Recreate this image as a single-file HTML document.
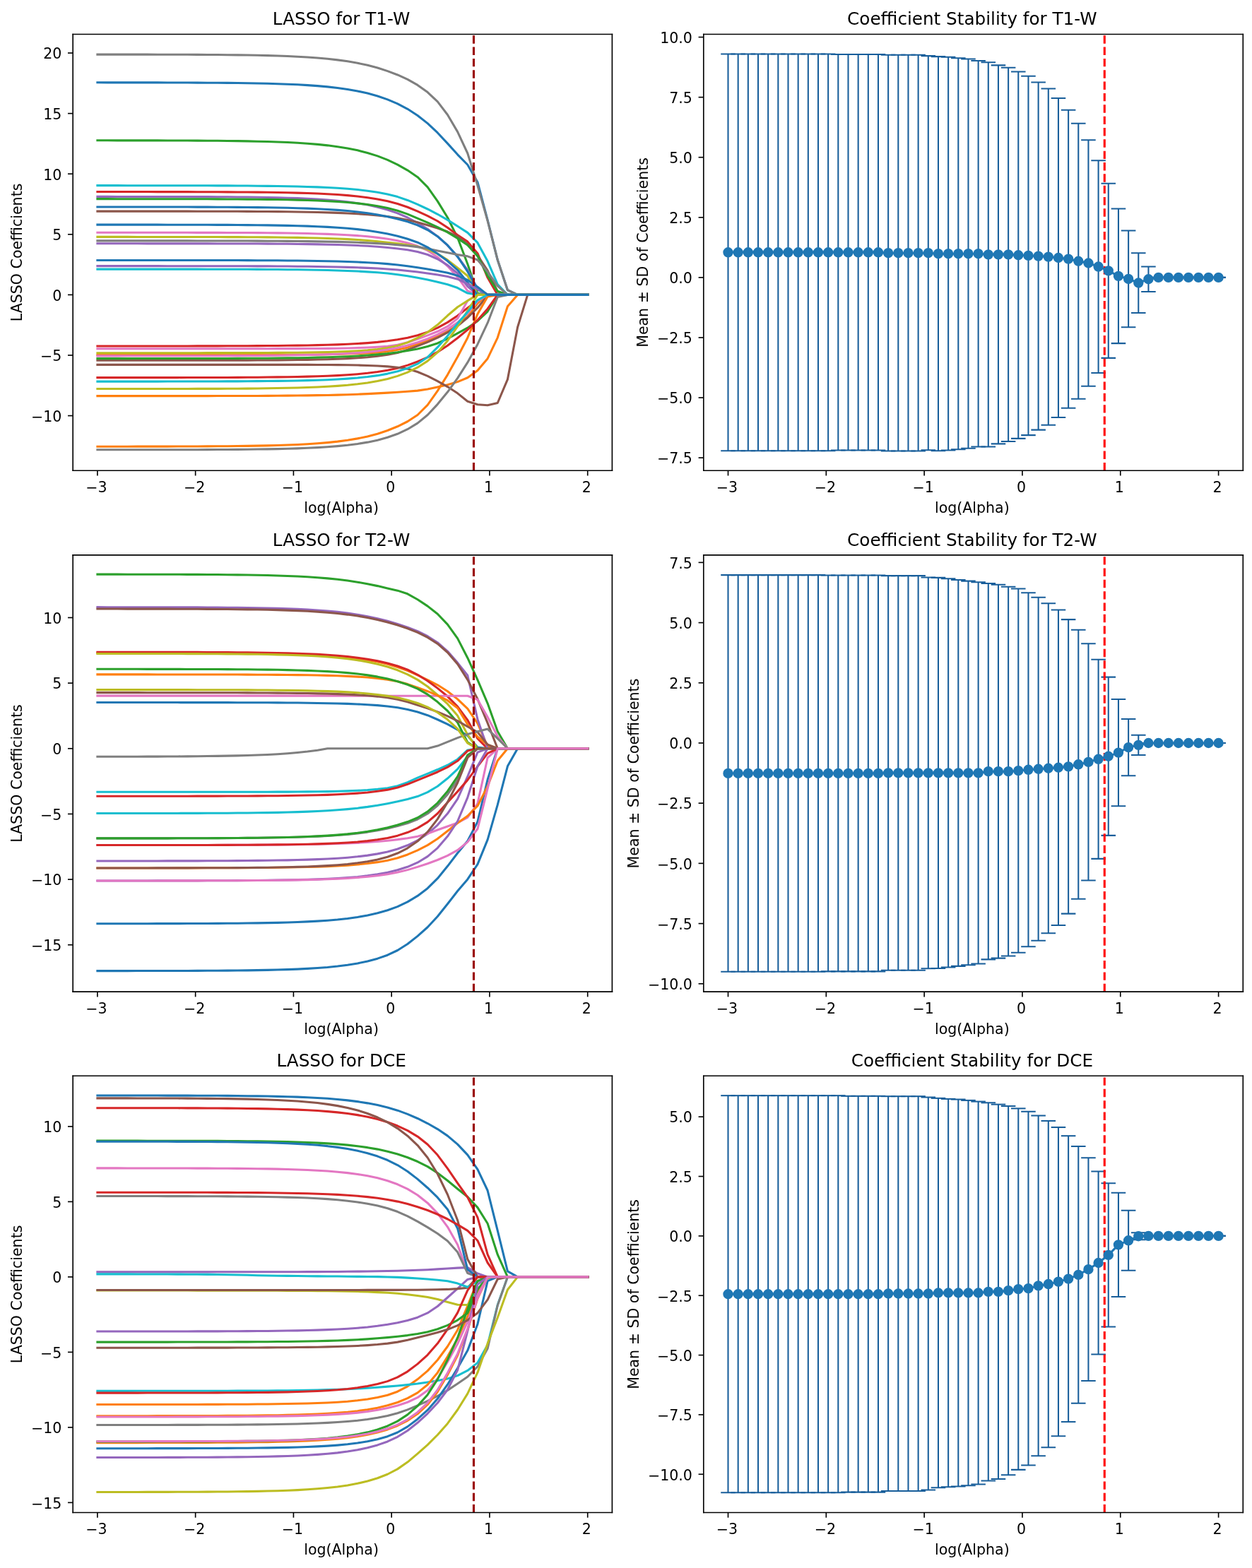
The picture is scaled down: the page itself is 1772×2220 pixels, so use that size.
<!DOCTYPE html>
<html><head><meta charset="utf-8"><title>LASSO coefficient paths</title>
<style>html,body{margin:0;padding:0;background:#fff;}body{width:1772px;height:2220px;overflow:hidden;}svg{display:block;}
</style></head><body>
<svg width="1772px" height="2220px" viewBox="0 0 862.05 1080" version="1.1">
<defs>
<style type="text/css">svg *{stroke-linejoin: round; stroke-linecap: butt}</style>
</defs>
<g id="figure_1">
<g id="patch_1">
<path d="M 0 1080 L 862.05 1080 L 862.05 0 L 0 0 z
" style="fill: #ffffff"/>
</g>
<g id="axes_1">
<g id="patch_2">
<path d="M 50.20 324.14 L 421.49 324.14 L 421.49 23.59 L 50.20 23.59 z
" style="fill: #ffffff"/>
</g>
<g id="matplotlib.axis_1">
<g id="xtick_1">
<g id="line2d_1">
<defs>
<path id="m1504cfccaf" d="M 0 0 L 0 3.5 " style="stroke: #000000; stroke-width: 0.8"/>
</defs>
<g>
<use href="#m1504cfccaf" x="67.08" y="324.14" style="stroke: #000000; stroke-width: 0.8"/>
</g>
</g>
<g id="text_1">
<text style="font-size: 10px; font-family: 'DejaVu Sans', sans-serif; text-anchor: middle" x="66.35" y="338.99" transform="rotate(-0 66.35 338.99)">−3</text>
</g>
</g>
<g id="xtick_2">
<g id="line2d_2">
<g>
<use href="#m1504cfccaf" x="134.58" y="324.14" style="stroke: #000000; stroke-width: 0.8"/>
</g>
</g>
<g id="text_2">
<text style="font-size: 10px; font-family: 'DejaVu Sans', sans-serif; text-anchor: middle" x="133.86" y="338.99" transform="rotate(-0 133.86 338.99)">−2</text>
</g>
</g>
<g id="xtick_3">
<g id="line2d_3">
<g>
<use href="#m1504cfccaf" x="202.09" y="324.14" style="stroke: #000000; stroke-width: 0.8"/>
</g>
</g>
<g id="text_3">
<text style="font-size: 10px; font-family: 'DejaVu Sans', sans-serif; text-anchor: middle" x="201.37" y="338.99" transform="rotate(-0 201.37 338.99)">−1</text>
</g>
</g>
<g id="xtick_4">
<g id="line2d_4">
<g>
<use href="#m1504cfccaf" x="269.60" y="324.14" style="stroke: #000000; stroke-width: 0.8"/>
</g>
</g>
<g id="text_4">
<text style="font-size: 10px; font-family: 'DejaVu Sans', sans-serif; text-anchor: middle" x="268.87" y="338.99" transform="rotate(-0 268.87 338.99)">0</text>
</g>
</g>
<g id="xtick_5">
<g id="line2d_5">
<g>
<use href="#m1504cfccaf" x="337.10" y="324.14" style="stroke: #000000; stroke-width: 0.8"/>
</g>
</g>
<g id="text_5">
<text style="font-size: 10px; font-family: 'DejaVu Sans', sans-serif; text-anchor: middle" x="336.38" y="338.99" transform="rotate(-0 336.38 338.99)">1</text>
</g>
</g>
<g id="xtick_6">
<g id="line2d_6">
<g>
<use href="#m1504cfccaf" x="404.61" y="324.14" style="stroke: #000000; stroke-width: 0.8"/>
</g>
</g>
<g id="text_6">
<text style="font-size: 10px; font-family: 'DejaVu Sans', sans-serif; text-anchor: middle" x="403.89" y="338.99" transform="rotate(-0 403.89 338.99)">2</text>
</g>
</g>
<g id="text_7">
<text style="font-size: 10px; font-family: 'DejaVu Sans', sans-serif; text-anchor: middle" x="235.02" y="353.15" transform="rotate(-0 235.02 353.15)">log(Alpha)</text>
</g>
</g>
<g id="matplotlib.axis_2">
<g id="ytick_1">
<g id="line2d_7">
<defs>
<path id="m5d545ce8f8" d="M 0 0 L -3.5 0 " style="stroke: #000000; stroke-width: 0.8"/>
</defs>
<g>
<use href="#m5d545ce8f8" x="50.20" y="286.33" style="stroke: #000000; stroke-width: 0.8"/>
</g>
</g>
<g id="text_8">
<text style="font-size: 10px; font-family: 'DejaVu Sans', sans-serif; text-anchor: end" x="42.48" y="290.37" transform="rotate(-0 42.48 290.37)">−10</text>
</g>
</g>
<g id="ytick_2">
<g id="line2d_8">
<g>
<use href="#m5d545ce8f8" x="50.20" y="244.69" style="stroke: #000000; stroke-width: 0.8"/>
</g>
</g>
<g id="text_9">
<text style="font-size: 10px; font-family: 'DejaVu Sans', sans-serif; text-anchor: end" x="42.48" y="248.74" transform="rotate(-0 42.48 248.74)">−5</text>
</g>
</g>
<g id="ytick_3">
<g id="line2d_9">
<g>
<use href="#m5d545ce8f8" x="50.20" y="203.06" style="stroke: #000000; stroke-width: 0.8"/>
</g>
</g>
<g id="text_10">
<text style="font-size: 10px; font-family: 'DejaVu Sans', sans-serif; text-anchor: end" x="42.48" y="207.10" transform="rotate(-0 42.48 207.10)">0</text>
</g>
</g>
<g id="ytick_4">
<g id="line2d_10">
<g>
<use href="#m5d545ce8f8" x="50.20" y="161.42" style="stroke: #000000; stroke-width: 0.8"/>
</g>
</g>
<g id="text_11">
<text style="font-size: 10px; font-family: 'DejaVu Sans', sans-serif; text-anchor: end" x="42.48" y="165.47" transform="rotate(-0 42.48 165.47)">5</text>
</g>
</g>
<g id="ytick_5">
<g id="line2d_11">
<g>
<use href="#m5d545ce8f8" x="50.20" y="119.78" style="stroke: #000000; stroke-width: 0.8"/>
</g>
</g>
<g id="text_12">
<text style="font-size: 10px; font-family: 'DejaVu Sans', sans-serif; text-anchor: end" x="42.48" y="123.83" transform="rotate(-0 42.48 123.83)">10</text>
</g>
</g>
<g id="ytick_6">
<g id="line2d_12">
<g>
<use href="#m5d545ce8f8" x="50.20" y="78.15" style="stroke: #000000; stroke-width: 0.8"/>
</g>
</g>
<g id="text_13">
<text style="font-size: 10px; font-family: 'DejaVu Sans', sans-serif; text-anchor: end" x="42.48" y="82.20" transform="rotate(-0 42.48 82.20)">15</text>
</g>
</g>
<g id="ytick_7">
<g id="line2d_13">
<g>
<use href="#m5d545ce8f8" x="50.20" y="36.51" style="stroke: #000000; stroke-width: 0.8"/>
</g>
</g>
<g id="text_14">
<text style="font-size: 10px; font-family: 'DejaVu Sans', sans-serif; text-anchor: end" x="42.48" y="40.56" transform="rotate(-0 42.48 40.56)">20</text>
</g>
</g>
<g id="text_15">
<text style="font-size: 10px; font-family: 'DejaVu Sans', sans-serif; text-anchor: middle" x="15.05" y="173.87" transform="rotate(-90 15.05 173.87)">LASSO Coefficients</text>
</g>
</g>
<g id="line2d_14">
<path d="M 67.08 56.83 L 73.97 56.84 L 80.85 56.84 L 87.74 56.85 L 94.63 56.85 L 101.52 56.86 L 108.41 56.87 L 115.30 56.89 L 122.18 56.91 L 129.07 56.93 L 135.96 56.96 L 142.85 57.00 L 149.74 57.04 L 156.63 57.10 L 163.52 57.18 L 170.40 57.28 L 177.29 57.40 L 184.18 57.55 L 191.07 57.74 L 197.96 57.99 L 204.85 58.29 L 211.73 58.68 L 218.62 59.17 L 225.51 59.78 L 232.40 60.56 L 239.29 61.53 L 246.18 62.75 L 253.06 64.27 L 259.95 66.18 L 266.84 68.55 L 273.73 71.46 L 280.62 75.05 L 287.51 79.52 L 294.40 84.95 L 301.28 91.45 L 308.17 98.81 L 315.06 106.45 L 321.95 113.47 L 328.84 125.50 L 335.73 151.59 L 342.61 179.03 L 349.50 199.78 L 356.39 203.06 L 363.28 203.06 L 370.17 203.06 L 377.06 203.06 L 383.94 203.06 L 390.83 203.06 L 397.72 203.06 L 404.61 203.06 " clip-path="url(#pd0d41294e0)" style="fill: none; stroke: #1f77b4; stroke-width: 1.5; stroke-linecap: square"/>
</g>
<g id="line2d_15">
<path d="M 67.08 244.53 L 73.97 244.52 L 80.85 244.52 L 87.74 244.52 L 94.63 244.52 L 101.52 244.52 L 108.41 244.52 L 115.30 244.52 L 122.18 244.52 L 129.07 244.51 L 135.96 244.51 L 142.85 244.51 L 149.74 244.50 L 156.63 244.49 L 163.52 244.48 L 170.40 244.47 L 177.29 244.46 L 184.18 244.44 L 191.07 244.41 L 197.96 244.38 L 204.85 244.33 L 211.73 244.28 L 218.62 244.20 L 225.51 244.10 L 232.40 243.96 L 239.29 243.77 L 246.18 243.52 L 253.06 243.17 L 259.95 242.68 L 266.84 242.02 L 273.73 240.97 L 280.62 239.30 L 287.51 237.04 L 294.40 234.55 L 301.28 231.56 L 308.17 227.91 L 315.06 223.38 L 321.95 218.03 L 328.84 209.03 L 335.73 203.06 L 342.61 203.06 L 349.50 203.06 L 356.39 203.06 L 363.28 203.06 L 370.17 203.06 L 377.06 203.06 L 383.94 203.06 L 390.83 203.06 L 397.72 203.06 L 404.61 203.06 " clip-path="url(#pd0d41294e0)" style="fill: none; stroke: #ff7f0e; stroke-width: 1.5; stroke-linecap: square"/>
</g>
<g id="line2d_16">
<path d="M 67.08 96.72 L 73.97 96.72 L 80.85 96.73 L 87.74 96.73 L 94.63 96.74 L 101.52 96.75 L 108.41 96.77 L 115.30 96.78 L 122.18 96.81 L 129.07 96.83 L 135.96 96.87 L 142.85 96.91 L 149.74 96.97 L 156.63 97.04 L 163.52 97.12 L 170.40 97.24 L 177.29 97.38 L 184.18 97.55 L 191.07 97.78 L 197.96 98.06 L 204.85 98.42 L 211.73 98.86 L 218.62 99.43 L 225.51 100.14 L 232.40 101.03 L 239.29 102.15 L 246.18 103.54 L 253.06 105.28 L 259.95 107.44 L 266.84 110.12 L 273.73 113.37 L 280.62 117.28 L 287.51 121.96 L 294.40 128.84 L 301.28 138.58 L 308.17 149.86 L 315.06 163.74 L 321.95 181.86 L 328.84 202.07 L 335.73 203.06 L 342.61 203.06 L 349.50 203.06 L 356.39 203.06 L 363.28 203.06 L 370.17 203.06 L 377.06 203.06 L 383.94 203.06 L 390.83 203.06 L 397.72 203.06 L 404.61 203.06 " clip-path="url(#pd0d41294e0)" style="fill: none; stroke: #2ca02c; stroke-width: 1.5; stroke-linecap: square"/>
</g>
<g id="line2d_17">
<path d="M 67.08 132.11 L 73.97 132.11 L 80.85 132.11 L 87.74 132.12 L 94.63 132.12 L 101.52 132.12 L 108.41 132.13 L 115.30 132.14 L 122.18 132.15 L 129.07 132.16 L 135.96 132.17 L 142.85 132.19 L 149.74 132.22 L 156.63 132.25 L 163.52 132.29 L 170.40 132.33 L 177.29 132.40 L 184.18 132.47 L 191.07 132.57 L 197.96 132.70 L 204.85 132.86 L 211.73 133.06 L 218.62 133.31 L 225.51 133.64 L 232.40 134.04 L 239.29 134.56 L 246.18 135.23 L 253.06 136.07 L 259.95 137.14 L 266.84 138.51 L 273.73 140.32 L 280.62 142.67 L 287.51 145.55 L 294.40 148.71 L 301.28 152.27 L 308.17 156.78 L 315.06 161.84 L 321.95 166.45 L 328.84 174.48 L 335.73 191.21 L 342.61 203.06 L 349.50 203.06 L 356.39 203.06 L 363.28 203.06 L 370.17 203.06 L 377.06 203.06 L 383.94 203.06 L 390.83 203.06 L 397.72 203.06 L 404.61 203.06 " clip-path="url(#pd0d41294e0)" style="fill: none; stroke: #d62728; stroke-width: 1.5; stroke-linecap: square"/>
</g>
<g id="line2d_18">
<path d="M 67.08 135.44 L 73.97 135.44 L 80.85 135.45 L 87.74 135.45 L 94.63 135.46 L 101.52 135.46 L 108.41 135.47 L 115.30 135.48 L 122.18 135.50 L 129.07 135.51 L 135.96 135.54 L 142.85 135.56 L 149.74 135.60 L 156.63 135.64 L 163.52 135.70 L 170.40 135.77 L 177.29 135.86 L 184.18 135.98 L 191.07 136.12 L 197.96 136.31 L 204.85 136.54 L 211.73 136.83 L 218.62 137.20 L 225.51 137.67 L 232.40 138.26 L 239.29 139.01 L 246.18 139.94 L 253.06 141.13 L 259.95 142.62 L 266.84 144.48 L 273.73 146.85 L 280.62 149.84 L 287.51 153.49 L 294.40 157.76 L 301.28 162.79 L 308.17 169.04 L 315.06 176.71 L 321.95 186.06 L 328.84 198.79 L 335.73 203.06 L 342.61 203.06 L 349.50 203.06 L 356.39 203.06 L 363.28 203.06 L 370.17 203.06 L 377.06 203.06 L 383.94 203.06 L 390.83 203.06 L 397.72 203.06 L 404.61 203.06 " clip-path="url(#pd0d41294e0)" style="fill: none; stroke: #9467bd; stroke-width: 1.5; stroke-linecap: square"/>
</g>
<g id="line2d_19">
<path d="M 67.08 145.52 L 73.97 145.52 L 80.85 145.52 L 87.74 145.52 L 94.63 145.52 L 101.52 145.52 L 108.41 145.53 L 115.30 145.53 L 122.18 145.54 L 129.07 145.54 L 135.96 145.55 L 142.85 145.56 L 149.74 145.58 L 156.63 145.59 L 163.52 145.62 L 170.40 145.64 L 177.29 145.68 L 184.18 145.72 L 191.07 145.78 L 197.96 145.85 L 204.85 145.94 L 211.73 146.05 L 218.62 146.20 L 225.51 146.38 L 232.40 146.61 L 239.29 146.91 L 246.18 147.28 L 253.06 147.76 L 259.95 148.37 L 266.84 149.15 L 273.73 150.17 L 280.62 151.51 L 287.51 153.16 L 294.40 155.03 L 301.28 157.17 L 308.17 159.60 L 315.06 162.89 L 321.95 168.32 L 328.84 175.94 L 335.73 186.36 L 342.61 200.85 L 349.50 203.06 L 356.39 203.06 L 363.28 203.06 L 370.17 203.06 L 377.06 203.06 L 383.94 203.06 L 390.83 203.06 L 397.72 203.06 L 404.61 203.06 " clip-path="url(#pd0d41294e0)" style="fill: none; stroke: #8c564b; stroke-width: 1.5; stroke-linecap: square"/>
</g>
<g id="line2d_20">
<path d="M 67.08 160.17 L 73.97 160.17 L 80.85 160.17 L 87.74 160.18 L 94.63 160.18 L 101.52 160.18 L 108.41 160.19 L 115.30 160.19 L 122.18 160.20 L 129.07 160.21 L 135.96 160.22 L 142.85 160.23 L 149.74 160.24 L 156.63 160.27 L 163.52 160.29 L 170.40 160.32 L 177.29 160.37 L 184.18 160.42 L 191.07 160.49 L 197.96 160.57 L 204.85 160.68 L 211.73 160.82 L 218.62 160.99 L 225.51 161.21 L 232.40 161.49 L 239.29 161.85 L 246.18 162.31 L 253.06 162.89 L 259.95 163.64 L 266.84 164.60 L 273.73 165.81 L 280.62 167.36 L 287.51 169.46 L 294.40 172.55 L 301.28 177.08 L 308.17 183.30 L 315.06 190.88 L 321.95 200.35 L 328.84 203.06 L 335.73 203.06 L 342.61 203.06 L 349.50 203.06 L 356.39 203.06 L 363.28 203.06 L 370.17 203.06 L 377.06 203.06 L 383.94 203.06 L 390.83 203.06 L 397.72 203.06 L 404.61 203.06 " clip-path="url(#pd0d41294e0)" style="fill: none; stroke: #e377c2; stroke-width: 1.5; stroke-linecap: square"/>
</g>
<g id="line2d_21">
<path d="M 67.08 37.51 L 73.97 37.52 L 80.85 37.52 L 87.74 37.53 L 94.63 37.53 L 101.52 37.54 L 108.41 37.56 L 115.30 37.57 L 122.18 37.59 L 129.07 37.61 L 135.96 37.64 L 142.85 37.68 L 149.74 37.73 L 156.63 37.79 L 163.52 37.87 L 170.40 37.97 L 177.29 38.09 L 184.18 38.25 L 191.07 38.45 L 197.96 38.69 L 204.85 39.01 L 211.73 39.40 L 218.62 39.89 L 225.51 40.51 L 232.40 41.28 L 239.29 42.25 L 246.18 43.44 L 253.06 44.92 L 259.95 46.73 L 266.84 48.95 L 273.73 51.55 L 280.62 54.70 L 287.51 58.58 L 294.40 63.54 L 301.28 70.00 L 308.17 79.06 L 315.06 90.80 L 321.95 105.56 L 328.84 127.78 L 335.73 152.10 L 342.61 179.03 L 349.50 199.78 L 356.39 203.06 L 363.28 203.06 L 370.17 203.06 L 377.06 203.06 L 383.94 203.06 L 390.83 203.06 L 397.72 203.06 L 404.61 203.06 " clip-path="url(#pd0d41294e0)" style="fill: none; stroke: #7f7f7f; stroke-width: 1.5; stroke-linecap: square"/>
</g>
<g id="line2d_22">
<path d="M 67.08 163.17 L 73.97 163.17 L 80.85 163.17 L 87.74 163.17 L 94.63 163.18 L 101.52 163.18 L 108.41 163.18 L 115.30 163.19 L 122.18 163.19 L 129.07 163.20 L 135.96 163.21 L 142.85 163.23 L 149.74 163.24 L 156.63 163.26 L 163.52 163.29 L 170.40 163.32 L 177.29 163.36 L 184.18 163.41 L 191.07 163.48 L 197.96 163.56 L 204.85 163.66 L 211.73 163.80 L 218.62 163.96 L 225.51 164.17 L 232.40 164.43 L 239.29 164.75 L 246.18 165.15 L 253.06 165.64 L 259.95 166.23 L 266.84 166.95 L 273.73 167.75 L 280.62 168.66 L 287.51 169.85 L 294.40 171.81 L 301.28 174.86 L 308.17 179.11 L 315.06 184.51 L 321.95 189.99 L 328.84 202.75 L 335.73 203.06 L 342.61 203.06 L 349.50 203.06 L 356.39 203.06 L 363.28 203.06 L 370.17 203.06 L 377.06 203.06 L 383.94 203.06 L 390.83 203.06 L 397.72 203.06 L 404.61 203.06 " clip-path="url(#pd0d41294e0)" style="fill: none; stroke: #bcbd22; stroke-width: 1.5; stroke-linecap: square"/>
</g>
<g id="line2d_23">
<path d="M 67.08 127.78 L 73.97 127.78 L 80.85 127.78 L 87.74 127.79 L 94.63 127.79 L 101.52 127.79 L 108.41 127.80 L 115.30 127.80 L 122.18 127.81 L 129.07 127.82 L 135.96 127.84 L 142.85 127.85 L 149.74 127.88 L 156.63 127.90 L 163.52 127.94 L 170.40 127.98 L 177.29 128.04 L 184.18 128.11 L 191.07 128.20 L 197.96 128.31 L 204.85 128.46 L 211.73 128.64 L 218.62 128.87 L 225.51 129.17 L 232.40 129.54 L 239.29 130.02 L 246.18 130.64 L 253.06 131.43 L 259.95 132.44 L 266.84 133.76 L 273.73 135.53 L 280.62 137.89 L 287.51 140.80 L 294.40 143.99 L 301.28 147.54 L 308.17 151.49 L 315.06 155.83 L 321.95 160.23 L 328.84 167.20 L 335.73 179.92 L 342.61 195.84 L 349.50 203.06 L 356.39 203.06 L 363.28 203.06 L 370.17 203.06 L 377.06 203.06 L 383.94 203.06 L 390.83 203.06 L 397.72 203.06 L 404.61 203.06 " clip-path="url(#pd0d41294e0)" style="fill: none; stroke: #17becf; stroke-width: 1.5; stroke-linecap: square"/>
</g>
<g id="line2d_24">
<path d="M 67.08 142.52 L 73.97 142.52 L 80.85 142.52 L 87.74 142.53 L 94.63 142.53 L 101.52 142.54 L 108.41 142.54 L 115.30 142.55 L 122.18 142.56 L 129.07 142.57 L 135.96 142.59 L 142.85 142.61 L 149.74 142.64 L 156.63 142.67 L 163.52 142.72 L 170.40 142.77 L 177.29 142.84 L 184.18 142.93 L 191.07 143.04 L 197.96 143.18 L 204.85 143.36 L 211.73 143.58 L 218.62 143.86 L 225.51 144.22 L 232.40 144.66 L 239.29 145.22 L 246.18 145.92 L 253.06 146.79 L 259.95 147.86 L 266.84 149.19 L 273.73 150.78 L 280.62 152.68 L 287.51 155.10 L 294.40 158.39 L 301.28 162.83 L 308.17 168.88 L 315.06 176.78 L 321.95 187.00 L 328.84 199.39 L 335.73 203.06 L 342.61 203.06 L 349.50 203.06 L 356.39 203.06 L 363.28 203.06 L 370.17 203.06 L 377.06 203.06 L 383.94 203.06 L 390.83 203.06 L 397.72 203.06 L 404.61 203.06 " clip-path="url(#pd0d41294e0)" style="fill: none; stroke: #1f77b4; stroke-width: 1.5; stroke-linecap: square"/>
</g>
<g id="line2d_25">
<path d="M 67.08 272.75 L 73.97 272.75 L 80.85 272.75 L 87.74 272.75 L 94.63 272.75 L 101.52 272.75 L 108.41 272.75 L 115.30 272.74 L 122.18 272.74 L 129.07 272.73 L 135.96 272.73 L 142.85 272.72 L 149.74 272.71 L 156.63 272.70 L 163.52 272.68 L 170.40 272.66 L 177.29 272.64 L 184.18 272.60 L 191.07 272.56 L 197.96 272.51 L 204.85 272.45 L 211.73 272.37 L 218.62 272.27 L 225.51 272.15 L 232.40 271.99 L 239.29 271.80 L 246.18 271.56 L 253.06 271.27 L 259.95 270.93 L 266.84 270.54 L 273.73 270.12 L 280.62 269.67 L 287.51 269.09 L 294.40 268.09 L 301.28 266.56 L 308.17 265.00 L 315.06 263.01 L 321.95 260.15 L 328.84 255.12 L 335.73 246.99 L 342.61 232.56 L 349.50 211.04 L 356.39 203.06 L 363.28 203.06 L 370.17 203.06 L 377.06 203.06 L 383.94 203.06 L 390.83 203.06 L 397.72 203.06 L 404.61 203.06 " clip-path="url(#pd0d41294e0)" style="fill: none; stroke: #ff7f0e; stroke-width: 1.5; stroke-linecap: square"/>
</g>
<g id="line2d_26">
<path d="M 67.08 137.02 L 73.97 137.02 L 80.85 137.03 L 87.74 137.03 L 94.63 137.03 L 101.52 137.04 L 108.41 137.04 L 115.30 137.05 L 122.18 137.06 L 129.07 137.07 L 135.96 137.08 L 142.85 137.10 L 149.74 137.13 L 156.63 137.16 L 163.52 137.19 L 170.40 137.24 L 177.29 137.30 L 184.18 137.37 L 191.07 137.47 L 197.96 137.59 L 204.85 137.74 L 211.73 137.94 L 218.62 138.18 L 225.51 138.49 L 232.40 138.89 L 239.29 139.40 L 246.18 140.04 L 253.06 140.86 L 259.95 141.91 L 266.84 143.26 L 273.73 145.07 L 280.62 147.46 L 287.51 150.35 L 294.40 153.32 L 301.28 156.48 L 308.17 160.03 L 315.06 164.14 L 321.95 168.83 L 328.84 176.41 L 335.73 189.96 L 342.61 200.59 L 349.50 203.06 L 356.39 203.06 L 363.28 203.06 L 370.17 203.06 L 377.06 203.06 L 383.94 203.06 L 390.83 203.06 L 397.72 203.06 L 404.61 203.06 " clip-path="url(#pd0d41294e0)" style="fill: none; stroke: #2ca02c; stroke-width: 1.5; stroke-linecap: square"/>
</g>
<g id="line2d_27">
<path d="M 67.08 238.36 L 73.97 238.36 L 80.85 238.36 L 87.74 238.36 L 94.63 238.36 L 101.52 238.36 L 108.41 238.35 L 115.30 238.35 L 122.18 238.34 L 129.07 238.34 L 135.96 238.33 L 142.85 238.32 L 149.74 238.31 L 156.63 238.29 L 163.52 238.27 L 170.40 238.24 L 177.29 238.21 L 184.18 238.17 L 191.07 238.12 L 197.96 238.05 L 204.85 237.97 L 211.73 237.86 L 218.62 237.72 L 225.51 237.55 L 232.40 237.33 L 239.29 237.05 L 246.18 236.70 L 253.06 236.24 L 259.95 235.65 L 266.84 234.89 L 273.73 233.91 L 280.62 232.63 L 287.51 230.96 L 294.40 228.73 L 301.28 225.77 L 308.17 222.01 L 315.06 217.47 L 321.95 212.07 L 328.84 207.06 L 335.73 203.10 L 342.61 203.06 L 349.50 203.06 L 356.39 203.06 L 363.28 203.06 L 370.17 203.06 L 377.06 203.06 L 383.94 203.06 L 390.83 203.06 L 397.72 203.06 L 404.61 203.06 " clip-path="url(#pd0d41294e0)" style="fill: none; stroke: #d62728; stroke-width: 1.5; stroke-linecap: square"/>
</g>
<g id="line2d_28">
<path d="M 67.08 167.75 L 73.97 167.75 L 80.85 167.75 L 87.74 167.75 L 94.63 167.75 L 101.52 167.76 L 108.41 167.76 L 115.30 167.76 L 122.18 167.77 L 129.07 167.77 L 135.96 167.78 L 142.85 167.79 L 149.74 167.80 L 156.63 167.81 L 163.52 167.83 L 170.40 167.85 L 177.29 167.87 L 184.18 167.91 L 191.07 167.95 L 197.96 168.00 L 204.85 168.07 L 211.73 168.16 L 218.62 168.27 L 225.51 168.41 L 232.40 168.58 L 239.29 168.81 L 246.18 169.09 L 253.06 169.45 L 259.95 169.91 L 266.84 170.50 L 273.73 171.23 L 280.62 172.14 L 287.51 173.40 L 294.40 175.37 L 301.28 178.42 L 308.17 182.61 L 315.06 188.25 L 321.95 197.28 L 328.84 203.06 L 335.73 203.06 L 342.61 203.06 L 349.50 203.06 L 356.39 203.06 L 363.28 203.06 L 370.17 203.06 L 377.06 203.06 L 383.94 203.06 L 390.83 203.06 L 397.72 203.06 L 404.61 203.06 " clip-path="url(#pd0d41294e0)" style="fill: none; stroke: #9467bd; stroke-width: 1.5; stroke-linecap: square"/>
</g>
<g id="line2d_29">
<path d="M 67.08 248.27 L 73.97 248.27 L 80.85 248.27 L 87.74 248.27 L 94.63 248.27 L 101.52 248.26 L 108.41 248.26 L 115.30 248.26 L 122.18 248.25 L 129.07 248.25 L 135.96 248.24 L 142.85 248.23 L 149.74 248.22 L 156.63 248.20 L 163.52 248.19 L 170.40 248.16 L 177.29 248.13 L 184.18 248.09 L 191.07 248.04 L 197.96 247.98 L 204.85 247.90 L 211.73 247.79 L 218.62 247.65 L 225.51 247.48 L 232.40 247.25 L 239.29 246.95 L 246.18 246.55 L 253.06 246.02 L 259.95 245.32 L 266.84 244.37 L 273.73 242.98 L 280.62 240.93 L 287.51 238.33 L 294.40 235.62 L 301.28 232.57 L 308.17 229.01 L 315.06 224.55 L 321.95 218.81 L 328.84 211.95 L 335.73 203.76 L 342.61 203.06 L 349.50 203.06 L 356.39 203.06 L 363.28 203.06 L 370.17 203.06 L 377.06 203.06 L 383.94 203.06 L 390.83 203.06 L 397.72 203.06 L 404.61 203.06 " clip-path="url(#pd0d41294e0)" style="fill: none; stroke: #8c564b; stroke-width: 1.5; stroke-linecap: square"/>
</g>
<g id="line2d_30">
<path d="M 67.08 240.20 L 73.97 240.19 L 80.85 240.19 L 87.74 240.19 L 94.63 240.19 L 101.52 240.19 L 108.41 240.19 L 115.30 240.19 L 122.18 240.19 L 129.07 240.19 L 135.96 240.19 L 142.85 240.19 L 149.74 240.19 L 156.63 240.19 L 163.52 240.18 L 170.40 240.18 L 177.29 240.18 L 184.18 240.17 L 191.07 240.16 L 197.96 240.15 L 204.85 240.13 L 211.73 240.10 L 218.62 240.06 L 225.51 240.01 L 232.40 239.92 L 239.29 239.80 L 246.18 239.62 L 253.06 239.36 L 259.95 238.98 L 266.84 238.47 L 273.73 237.53 L 280.62 235.85 L 287.51 233.50 L 294.40 231.04 L 301.28 228.29 L 308.17 224.84 L 315.06 219.35 L 321.95 207.13 L 328.84 203.06 L 335.73 203.06 L 342.61 203.06 L 349.50 203.06 L 356.39 203.06 L 363.28 203.06 L 370.17 203.06 L 377.06 203.06 L 383.94 203.06 L 390.83 203.06 L 397.72 203.06 L 404.61 203.06 " clip-path="url(#pd0d41294e0)" style="fill: none; stroke: #e377c2; stroke-width: 1.5; stroke-linecap: square"/>
</g>
<g id="line2d_31">
<path d="M 67.08 165.83 L 73.97 165.83 L 80.85 165.84 L 87.74 165.84 L 94.63 165.84 L 101.52 165.84 L 108.41 165.84 L 115.30 165.84 L 122.18 165.85 L 129.07 165.85 L 135.96 165.86 L 142.85 165.87 L 149.74 165.88 L 156.63 165.89 L 163.52 165.90 L 170.40 165.92 L 177.29 165.95 L 184.18 165.98 L 191.07 166.01 L 197.96 166.06 L 204.85 166.12 L 211.73 166.20 L 218.62 166.30 L 225.51 166.42 L 232.40 166.57 L 239.29 166.76 L 246.18 167.00 L 253.06 167.30 L 259.95 167.67 L 266.84 168.12 L 273.73 168.65 L 280.62 169.28 L 287.51 170.09 L 294.40 171.22 L 301.28 172.70 L 308.17 174.08 L 315.06 175.43 L 321.95 176.51 L 328.84 179.05 L 335.73 187.16 L 342.61 196.93 L 349.50 203.06 L 356.39 203.06 L 363.28 203.06 L 370.17 203.06 L 377.06 203.06 L 383.94 203.06 L 390.83 203.06 L 397.72 203.06 L 404.61 203.06 " clip-path="url(#pd0d41294e0)" style="fill: none; stroke: #7f7f7f; stroke-width: 1.5; stroke-linecap: square"/>
</g>
<g id="line2d_32">
<path d="M 67.08 243.11 L 73.97 243.11 L 80.85 243.11 L 87.74 243.11 L 94.63 243.11 L 101.52 243.10 L 108.41 243.10 L 115.30 243.10 L 122.18 243.10 L 129.07 243.09 L 135.96 243.09 L 142.85 243.08 L 149.74 243.07 L 156.63 243.06 L 163.52 243.05 L 170.40 243.03 L 177.29 243.01 L 184.18 242.99 L 191.07 242.95 L 197.96 242.90 L 204.85 242.84 L 211.73 242.76 L 218.62 242.66 L 225.51 242.52 L 232.40 242.33 L 239.29 242.07 L 246.18 241.71 L 253.06 241.22 L 259.95 240.55 L 266.84 239.63 L 273.73 238.17 L 280.62 235.87 L 287.51 232.71 L 294.40 228.89 L 301.28 223.71 L 308.17 217.35 L 315.06 211.50 L 321.95 207.11 L 328.84 203.06 L 335.73 203.06 L 342.61 203.06 L 349.50 203.06 L 356.39 203.06 L 363.28 203.06 L 370.17 203.06 L 377.06 203.06 L 383.94 203.06 L 390.83 203.06 L 397.72 203.06 L 404.61 203.06 " clip-path="url(#pd0d41294e0)" style="fill: none; stroke: #bcbd22; stroke-width: 1.5; stroke-linecap: square"/>
</g>
<g id="line2d_33">
<path d="M 67.08 185.40 L 73.97 185.40 L 80.85 185.40 L 87.74 185.41 L 94.63 185.41 L 101.52 185.41 L 108.41 185.41 L 115.30 185.42 L 122.18 185.42 L 129.07 185.43 L 135.96 185.43 L 142.85 185.44 L 149.74 185.45 L 156.63 185.47 L 163.52 185.49 L 170.40 185.51 L 177.29 185.54 L 184.18 185.57 L 191.07 185.62 L 197.96 185.68 L 204.85 185.75 L 211.73 185.84 L 218.62 185.96 L 225.51 186.11 L 232.40 186.30 L 239.29 186.54 L 246.18 186.84 L 253.06 187.22 L 259.95 187.70 L 266.84 188.31 L 273.73 189.10 L 280.62 190.11 L 287.51 191.33 L 294.40 192.68 L 301.28 194.19 L 308.17 195.96 L 315.06 198.26 L 321.95 201.94 L 328.84 203.06 L 335.73 203.06 L 342.61 203.06 L 349.50 203.06 L 356.39 203.06 L 363.28 203.06 L 370.17 203.06 L 377.06 203.06 L 383.94 203.06 L 390.83 203.06 L 397.72 203.06 L 404.61 203.06 " clip-path="url(#pd0d41294e0)" style="fill: none; stroke: #17becf; stroke-width: 1.5; stroke-linecap: square"/>
</g>
<g id="line2d_34">
<path d="M 67.08 154.76 L 73.97 154.76 L 80.85 154.76 L 87.74 154.77 L 94.63 154.77 L 101.52 154.77 L 108.41 154.78 L 115.30 154.79 L 122.18 154.80 L 129.07 154.81 L 135.96 154.83 L 142.85 154.85 L 149.74 154.87 L 156.63 154.90 L 163.52 154.94 L 170.40 154.99 L 177.29 155.06 L 184.18 155.14 L 191.07 155.24 L 197.96 155.37 L 204.85 155.54 L 211.73 155.74 L 218.62 156.01 L 225.51 156.33 L 232.40 156.75 L 239.29 157.27 L 246.18 157.93 L 253.06 158.75 L 259.95 159.78 L 266.84 161.06 L 273.73 162.62 L 280.62 164.53 L 287.51 166.97 L 294.40 170.32 L 301.28 174.75 L 308.17 179.78 L 315.06 185.99 L 321.95 194.62 L 328.84 202.96 L 335.73 203.06 L 342.61 203.06 L 349.50 203.06 L 356.39 203.06 L 363.28 203.06 L 370.17 203.06 L 377.06 203.06 L 383.94 203.06 L 390.83 203.06 L 397.72 203.06 L 404.61 203.06 " clip-path="url(#pd0d41294e0)" style="fill: none; stroke: #1f77b4; stroke-width: 1.5; stroke-linecap: square"/>
</g>
<g id="line2d_35">
<path d="M 67.08 307.56 L 73.97 307.56 L 80.85 307.55 L 87.74 307.55 L 94.63 307.54 L 101.52 307.53 L 108.41 307.52 L 115.30 307.51 L 122.18 307.49 L 129.07 307.47 L 135.96 307.44 L 142.85 307.41 L 149.74 307.37 L 156.63 307.31 L 163.52 307.24 L 170.40 307.15 L 177.29 307.04 L 184.18 306.90 L 191.07 306.73 L 197.96 306.50 L 204.85 306.22 L 211.73 305.86 L 218.62 305.41 L 225.51 304.83 L 232.40 304.11 L 239.29 303.20 L 246.18 302.05 L 253.06 300.61 L 259.95 298.79 L 266.84 296.50 L 273.73 293.72 L 280.62 290.31 L 287.51 285.80 L 294.40 278.96 L 301.28 269.18 L 308.17 258.12 L 315.06 245.77 L 321.95 232.62 L 328.84 216.30 L 335.73 204.36 L 342.61 203.06 L 349.50 203.06 L 356.39 203.06 L 363.28 203.06 L 370.17 203.06 L 377.06 203.06 L 383.94 203.06 L 390.83 203.06 L 397.72 203.06 L 404.61 203.06 " clip-path="url(#pd0d41294e0)" style="fill: none; stroke: #ff7f0e; stroke-width: 1.5; stroke-linecap: square"/>
</g>
<g id="line2d_36">
<path d="M 67.08 246.94 L 73.97 246.94 L 80.85 246.94 L 87.74 246.94 L 94.63 246.93 L 101.52 246.93 L 108.41 246.93 L 115.30 246.92 L 122.18 246.92 L 129.07 246.91 L 135.96 246.90 L 142.85 246.89 L 149.74 246.88 L 156.63 246.86 L 163.52 246.84 L 170.40 246.81 L 177.29 246.77 L 184.18 246.73 L 191.07 246.67 L 197.96 246.59 L 204.85 246.50 L 211.73 246.39 L 218.62 246.24 L 225.51 246.06 L 232.40 245.82 L 239.29 245.53 L 246.18 245.17 L 253.06 244.71 L 259.95 244.14 L 266.84 243.45 L 273.73 242.60 L 280.62 241.57 L 287.51 240.28 L 294.40 238.59 L 301.28 236.39 L 308.17 233.28 L 315.06 229.54 L 321.95 225.84 L 328.84 221.10 L 335.73 214.57 L 342.61 203.49 L 349.50 203.06 L 356.39 203.06 L 363.28 203.06 L 370.17 203.06 L 377.06 203.06 L 383.94 203.06 L 390.83 203.06 L 397.72 203.06 L 404.61 203.06 " clip-path="url(#pd0d41294e0)" style="fill: none; stroke: #2ca02c; stroke-width: 1.5; stroke-linecap: square"/>
</g>
<g id="line2d_37">
<path d="M 67.08 260.10 L 73.97 260.10 L 80.85 260.09 L 87.74 260.09 L 94.63 260.09 L 101.52 260.09 L 108.41 260.08 L 115.30 260.08 L 122.18 260.07 L 129.07 260.06 L 135.96 260.05 L 142.85 260.03 L 149.74 260.02 L 156.63 259.99 L 163.52 259.96 L 170.40 259.93 L 177.29 259.88 L 184.18 259.82 L 191.07 259.74 L 197.96 259.65 L 204.85 259.53 L 211.73 259.37 L 218.62 259.18 L 225.51 258.93 L 232.40 258.61 L 239.29 258.21 L 246.18 257.69 L 253.06 257.02 L 259.95 256.16 L 266.84 255.05 L 273.73 253.56 L 280.62 251.58 L 287.51 249.07 L 294.40 246.08 L 301.28 242.46 L 308.17 238.00 L 315.06 232.80 L 321.95 227.11 L 328.84 220.50 L 335.73 212.71 L 342.61 203.06 L 349.50 203.06 L 356.39 203.06 L 363.28 203.06 L 370.17 203.06 L 377.06 203.06 L 383.94 203.06 L 390.83 203.06 L 397.72 203.06 L 404.61 203.06 " clip-path="url(#pd0d41294e0)" style="fill: none; stroke: #d62728; stroke-width: 1.5; stroke-linecap: square"/>
</g>
<g id="line2d_38">
<path d="M 67.08 183.24 L 73.97 183.24 L 80.85 183.24 L 87.74 183.24 L 94.63 183.24 L 101.52 183.24 L 108.41 183.24 L 115.30 183.25 L 122.18 183.25 L 129.07 183.25 L 135.96 183.26 L 142.85 183.27 L 149.74 183.27 L 156.63 183.29 L 163.52 183.30 L 170.40 183.32 L 177.29 183.34 L 184.18 183.36 L 191.07 183.40 L 197.96 183.44 L 204.85 183.50 L 211.73 183.56 L 218.62 183.65 L 225.51 183.76 L 232.40 183.90 L 239.29 184.07 L 246.18 184.29 L 253.06 184.56 L 259.95 184.90 L 266.84 185.33 L 273.73 185.86 L 280.62 186.53 L 287.51 187.34 L 294.40 188.24 L 301.28 189.23 L 308.17 190.43 L 315.06 192.24 L 321.95 195.47 L 328.84 199.11 L 335.73 202.75 L 342.61 203.06 L 349.50 203.06 L 356.39 203.06 L 363.28 203.06 L 370.17 203.06 L 377.06 203.06 L 383.94 203.06 L 390.83 203.06 L 397.72 203.06 L 404.61 203.06 " clip-path="url(#pd0d41294e0)" style="fill: none; stroke: #9467bd; stroke-width: 1.5; stroke-linecap: square"/>
</g>
<g id="line2d_39">
<path d="M 67.08 251.19 L 73.97 251.19 L 80.85 251.19 L 87.74 251.19 L 94.63 251.19 L 101.52 251.19 L 108.41 251.19 L 115.30 251.19 L 122.18 251.19 L 129.07 251.19 L 135.96 251.19 L 142.85 251.19 L 149.74 251.19 L 156.63 251.19 L 163.52 251.19 L 170.40 251.19 L 177.29 251.19 L 184.18 251.19 L 191.07 251.20 L 197.96 251.20 L 204.85 251.21 L 211.73 251.22 L 218.62 251.24 L 225.51 251.28 L 232.40 251.33 L 239.29 251.41 L 246.18 251.53 L 253.06 251.72 L 259.95 252.01 L 266.84 252.44 L 273.73 253.06 L 280.62 254.00 L 287.51 256.16 L 294.40 258.97 L 301.28 262.50 L 308.17 266.38 L 315.06 270.89 L 321.95 276.48 L 328.84 278.64 L 335.73 279.14 L 342.61 277.53 L 349.50 261.30 L 356.39 225.33 L 363.28 203.06 L 370.17 203.06 L 377.06 203.06 L 383.94 203.06 L 390.83 203.06 L 397.72 203.06 L 404.61 203.06 " clip-path="url(#pd0d41294e0)" style="fill: none; stroke: #8c564b; stroke-width: 1.5; stroke-linecap: square"/>
</g>
<g id="line2d_40">
<path d="M 67.08 245.11 L 73.97 245.11 L 80.85 245.11 L 87.74 245.10 L 94.63 245.10 L 101.52 245.10 L 108.41 245.09 L 115.30 245.09 L 122.18 245.08 L 129.07 245.08 L 135.96 245.07 L 142.85 245.05 L 149.74 245.04 L 156.63 245.02 L 163.52 244.99 L 170.40 244.96 L 177.29 244.92 L 184.18 244.87 L 191.07 244.81 L 197.96 244.72 L 204.85 244.62 L 211.73 244.49 L 218.62 244.32 L 225.51 244.11 L 232.40 243.84 L 239.29 243.49 L 246.18 243.05 L 253.06 242.48 L 259.95 241.76 L 266.84 240.81 L 273.73 239.56 L 280.62 237.91 L 287.51 235.83 L 294.40 233.37 L 301.28 230.43 L 308.17 226.81 L 315.06 222.12 L 321.95 215.89 L 328.84 207.48 L 335.73 203.06 L 342.61 203.06 L 349.50 203.06 L 356.39 203.06 L 363.28 203.06 L 370.17 203.06 L 377.06 203.06 L 383.94 203.06 L 390.83 203.06 L 397.72 203.06 L 404.61 203.06 " clip-path="url(#pd0d41294e0)" style="fill: none; stroke: #e377c2; stroke-width: 1.5; stroke-linecap: square"/>
</g>
<g id="line2d_41">
<path d="M 67.08 309.81 L 73.97 309.81 L 80.85 309.80 L 87.74 309.80 L 94.63 309.80 L 101.52 309.79 L 108.41 309.78 L 115.30 309.77 L 122.18 309.76 L 129.07 309.75 L 135.96 309.73 L 142.85 309.70 L 149.74 309.67 L 156.63 309.63 L 163.52 309.58 L 170.40 309.52 L 177.29 309.44 L 184.18 309.34 L 191.07 309.21 L 197.96 309.05 L 204.85 308.84 L 211.73 308.58 L 218.62 308.25 L 225.51 307.83 L 232.40 307.29 L 239.29 306.61 L 246.18 305.73 L 253.06 304.61 L 259.95 303.16 L 266.84 301.28 L 273.73 298.84 L 280.62 295.64 L 287.51 291.44 L 294.40 285.82 L 301.28 278.44 L 308.17 270.04 L 315.06 260.43 L 321.95 249.66 L 328.84 237.13 L 335.73 222.43 L 342.61 204.55 L 349.50 203.06 L 356.39 203.06 L 363.28 203.06 L 370.17 203.06 L 377.06 203.06 L 383.94 203.06 L 390.83 203.06 L 397.72 203.06 L 404.61 203.06 " clip-path="url(#pd0d41294e0)" style="fill: none; stroke: #7f7f7f; stroke-width: 1.5; stroke-linecap: square"/>
</g>
<g id="line2d_42">
<path d="M 67.08 267.84 L 73.97 267.84 L 80.85 267.84 L 87.74 267.83 L 94.63 267.83 L 101.52 267.83 L 108.41 267.82 L 115.30 267.81 L 122.18 267.80 L 129.07 267.79 L 135.96 267.77 L 142.85 267.75 L 149.74 267.73 L 156.63 267.70 L 163.52 267.66 L 170.40 267.61 L 177.29 267.54 L 184.18 267.46 L 191.07 267.36 L 197.96 267.22 L 204.85 267.06 L 211.73 266.85 L 218.62 266.58 L 225.51 266.24 L 232.40 265.80 L 239.29 265.25 L 246.18 264.54 L 253.06 263.63 L 259.95 262.46 L 266.84 260.95 L 273.73 258.99 L 280.62 256.43 L 287.51 253.08 L 294.40 248.65 L 301.28 242.73 L 308.17 234.67 L 315.06 224.82 L 321.95 214.11 L 328.84 203.06 L 335.73 203.06 L 342.61 203.06 L 349.50 203.06 L 356.39 203.06 L 363.28 203.06 L 370.17 203.06 L 377.06 203.06 L 383.94 203.06 L 390.83 203.06 L 397.72 203.06 L 404.61 203.06 " clip-path="url(#pd0d41294e0)" style="fill: none; stroke: #bcbd22; stroke-width: 1.5; stroke-linecap: square"/>
</g>
<g id="line2d_43">
<path d="M 67.08 262.76 L 73.97 262.76 L 80.85 262.76 L 87.74 262.76 L 94.63 262.75 L 101.52 262.75 L 108.41 262.75 L 115.30 262.74 L 122.18 262.73 L 129.07 262.72 L 135.96 262.71 L 142.85 262.70 L 149.74 262.68 L 156.63 262.66 L 163.52 262.63 L 170.40 262.59 L 177.29 262.54 L 184.18 262.48 L 191.07 262.41 L 197.96 262.31 L 204.85 262.19 L 211.73 262.03 L 218.62 261.83 L 225.51 261.58 L 232.40 261.25 L 239.29 260.83 L 246.18 260.28 L 253.06 259.57 L 259.95 258.64 L 266.84 257.41 L 273.73 255.80 L 280.62 253.64 L 287.51 250.64 L 294.40 246.04 L 301.28 239.20 L 308.17 231.28 L 315.06 222.83 L 321.95 214.91 L 328.84 206.68 L 335.73 203.06 L 342.61 203.06 L 349.50 203.06 L 356.39 203.06 L 363.28 203.06 L 370.17 203.06 L 377.06 203.06 L 383.94 203.06 L 390.83 203.06 L 397.72 203.06 L 404.61 203.06 " clip-path="url(#pd0d41294e0)" style="fill: none; stroke: #17becf; stroke-width: 1.5; stroke-linecap: square"/>
</g>
<g id="line2d_44">
<path d="M 67.08 179.24 L 73.97 179.24 L 80.85 179.24 L 87.74 179.24 L 94.63 179.24 L 101.52 179.25 L 108.41 179.25 L 115.30 179.25 L 122.18 179.26 L 129.07 179.26 L 135.96 179.27 L 142.85 179.28 L 149.74 179.29 L 156.63 179.30 L 163.52 179.31 L 170.40 179.33 L 177.29 179.36 L 184.18 179.39 L 191.07 179.43 L 197.96 179.48 L 204.85 179.55 L 211.73 179.63 L 218.62 179.74 L 225.51 179.87 L 232.40 180.03 L 239.29 180.24 L 246.18 180.50 L 253.06 180.84 L 259.95 181.25 L 266.84 181.77 L 273.73 182.44 L 280.62 183.29 L 287.51 184.30 L 294.40 185.38 L 301.28 186.55 L 308.17 187.92 L 315.06 189.88 L 321.95 192.86 L 328.84 197.63 L 335.73 203.06 L 342.61 203.06 L 349.50 203.06 L 356.39 203.06 L 363.28 203.06 L 370.17 203.06 L 377.06 203.06 L 383.94 203.06 L 390.83 203.06 L 397.72 203.06 L 404.61 203.06 " clip-path="url(#pd0d41294e0)" style="fill: none; stroke: #1f77b4; stroke-width: 1.5; stroke-linecap: square"/>
</g>
<g id="line2d_45">
<path d="M 326.17 324.14 L 326.17 23.59 " clip-path="url(#pd0d41294e0)" style="fill: none; stroke-dasharray: 5.55,2.4; stroke-dashoffset: 0; stroke: #9a0000; stroke-width: 1.5"/>
</g>
<g id="patch_3">
<path d="M 50.20 324.14 L 50.20 23.59 " style="fill: none; stroke: #000000; stroke-width: 0.8; stroke-linejoin: miter; stroke-linecap: square"/>
</g>
<g id="patch_4">
<path d="M 421.49 324.14 L 421.49 23.59 " style="fill: none; stroke: #000000; stroke-width: 0.8; stroke-linejoin: miter; stroke-linecap: square"/>
</g>
<g id="patch_5">
<path d="M 50.20 324.14 L 421.49 324.14 " style="fill: none; stroke: #000000; stroke-width: 0.8; stroke-linejoin: miter; stroke-linecap: square"/>
</g>
<g id="patch_6">
<path d="M 50.20 23.59 L 421.49 23.59 " style="fill: none; stroke: #000000; stroke-width: 0.8; stroke-linejoin: miter; stroke-linecap: square"/>
</g>
<g id="text_16">
<text style="font-size: 12px; font-family: 'DejaVu Sans', sans-serif; text-anchor: middle" x="235.02" y="17.25" transform="rotate(-0 235.02 17.25)">LASSO for T1-W</text>
</g>
</g>
<g id="axes_2">
<g id="patch_7">
<path d="M 484.44 324.14 L 855.87 324.14 L 855.87 23.59 L 484.44 23.59 z
" style="fill: #ffffff"/>
</g>
<g id="matplotlib.axis_3">
<g id="xtick_7">
<g id="line2d_46">
<g>
<use href="#m1504cfccaf" x="501.32" y="324.14" style="stroke: #000000; stroke-width: 0.8"/>
</g>
</g>
<g id="text_17">
<text style="font-size: 10px; font-family: 'DejaVu Sans', sans-serif; text-anchor: middle" x="500.60" y="338.99" transform="rotate(-0 500.60 338.99)">−3</text>
</g>
</g>
<g id="xtick_8">
<g id="line2d_47">
<g>
<use href="#m1504cfccaf" x="568.85" y="324.14" style="stroke: #000000; stroke-width: 0.8"/>
</g>
</g>
<g id="text_18">
<text style="font-size: 10px; font-family: 'DejaVu Sans', sans-serif; text-anchor: middle" x="568.13" y="338.99" transform="rotate(-0 568.13 338.99)">−2</text>
</g>
</g>
<g id="xtick_9">
<g id="line2d_48">
<g>
<use href="#m1504cfccaf" x="636.39" y="324.14" style="stroke: #000000; stroke-width: 0.8"/>
</g>
</g>
<g id="text_19">
<text style="font-size: 10px; font-family: 'DejaVu Sans', sans-serif; text-anchor: middle" x="635.66" y="338.99" transform="rotate(-0 635.66 338.99)">−1</text>
</g>
</g>
<g id="xtick_10">
<g id="line2d_49">
<g>
<use href="#m1504cfccaf" x="703.92" y="324.14" style="stroke: #000000; stroke-width: 0.8"/>
</g>
</g>
<g id="text_20">
<text style="font-size: 10px; font-family: 'DejaVu Sans', sans-serif; text-anchor: middle" x="703.20" y="338.99" transform="rotate(-0 703.20 338.99)">0</text>
</g>
</g>
<g id="xtick_11">
<g id="line2d_50">
<g>
<use href="#m1504cfccaf" x="771.45" y="324.14" style="stroke: #000000; stroke-width: 0.8"/>
</g>
</g>
<g id="text_21">
<text style="font-size: 10px; font-family: 'DejaVu Sans', sans-serif; text-anchor: middle" x="770.73" y="338.99" transform="rotate(-0 770.73 338.99)">1</text>
</g>
</g>
<g id="xtick_12">
<g id="line2d_51">
<g>
<use href="#m1504cfccaf" x="838.99" y="324.14" style="stroke: #000000; stroke-width: 0.8"/>
</g>
</g>
<g id="text_22">
<text style="font-size: 10px; font-family: 'DejaVu Sans', sans-serif; text-anchor: middle" x="838.26" y="338.99" transform="rotate(-0 838.26 338.99)">2</text>
</g>
</g>
<g id="text_23">
<text style="font-size: 10px; font-family: 'DejaVu Sans', sans-serif; text-anchor: middle" x="669.33" y="353.15" transform="rotate(-0 669.33 353.15)">log(Alpha)</text>
</g>
</g>
<g id="matplotlib.axis_4">
<g id="ytick_8">
<g id="line2d_52">
<g>
<use href="#m5d545ce8f8" x="484.44" y="315.30" style="stroke: #000000; stroke-width: 0.8"/>
</g>
</g>
<g id="text_24">
<text style="font-size: 10px; font-family: 'DejaVu Sans', sans-serif; text-anchor: end" x="476.71" y="319.35" transform="rotate(-0 476.71 319.35)">−7.5</text>
</g>
</g>
<g id="ytick_9">
<g id="line2d_53">
<g>
<use href="#m5d545ce8f8" x="484.44" y="273.91" style="stroke: #000000; stroke-width: 0.8"/>
</g>
</g>
<g id="text_25">
<text style="font-size: 10px; font-family: 'DejaVu Sans', sans-serif; text-anchor: end" x="476.71" y="277.96" transform="rotate(-0 476.71 277.96)">−5.0</text>
</g>
</g>
<g id="ytick_10">
<g id="line2d_54">
<g>
<use href="#m5d545ce8f8" x="484.44" y="232.52" style="stroke: #000000; stroke-width: 0.8"/>
</g>
</g>
<g id="text_26">
<text style="font-size: 10px; font-family: 'DejaVu Sans', sans-serif; text-anchor: end" x="476.71" y="236.57" transform="rotate(-0 476.71 236.57)">−2.5</text>
</g>
</g>
<g id="ytick_11">
<g id="line2d_55">
<g>
<use href="#m5d545ce8f8" x="484.44" y="191.13" style="stroke: #000000; stroke-width: 0.8"/>
</g>
</g>
<g id="text_27">
<text style="font-size: 10px; font-family: 'DejaVu Sans', sans-serif; text-anchor: end" x="476.71" y="195.18" transform="rotate(-0 476.71 195.18)">0.0</text>
</g>
</g>
<g id="ytick_12">
<g id="line2d_56">
<g>
<use href="#m5d545ce8f8" x="484.44" y="149.74" style="stroke: #000000; stroke-width: 0.8"/>
</g>
</g>
<g id="text_28">
<text style="font-size: 10px; font-family: 'DejaVu Sans', sans-serif; text-anchor: end" x="476.71" y="153.79" transform="rotate(-0 476.71 153.79)">2.5</text>
</g>
</g>
<g id="ytick_13">
<g id="line2d_57">
<g>
<use href="#m5d545ce8f8" x="484.44" y="108.35" style="stroke: #000000; stroke-width: 0.8"/>
</g>
</g>
<g id="text_29">
<text style="font-size: 10px; font-family: 'DejaVu Sans', sans-serif; text-anchor: end" x="476.71" y="112.40" transform="rotate(-0 476.71 112.40)">5.0</text>
</g>
</g>
<g id="ytick_14">
<g id="line2d_58">
<g>
<use href="#m5d545ce8f8" x="484.44" y="66.97" style="stroke: #000000; stroke-width: 0.8"/>
</g>
</g>
<g id="text_30">
<text style="font-size: 10px; font-family: 'DejaVu Sans', sans-serif; text-anchor: end" x="476.71" y="71.01" transform="rotate(-0 476.71 71.01)">7.5</text>
</g>
</g>
<g id="ytick_15">
<g id="line2d_59">
<g>
<use href="#m5d545ce8f8" x="484.44" y="25.58" style="stroke: #000000; stroke-width: 0.8"/>
</g>
</g>
<g id="text_31">
<text style="font-size: 10px; font-family: 'DejaVu Sans', sans-serif; text-anchor: end" x="476.71" y="29.62" transform="rotate(-0 476.71 29.62)">10.0</text>
</g>
</g>
<g id="text_32">
<text style="font-size: 10px; font-family: 'DejaVu Sans', sans-serif; text-anchor: middle" x="446.11" y="173.87" transform="rotate(-90 446.11 173.87)">Mean ± SD of Coefficients</text>
</g>
</g>
<g id="LineCollection_1">
<path d="M 501.32 310.50 L 501.32 37.17 " clip-path="url(#pdfb0ffd9d7)" style="fill: none; stroke: #185e9a"/>
<path d="M 508.21 310.50 L 508.21 37.17 " clip-path="url(#pdfb0ffd9d7)" style="fill: none; stroke: #185e9a"/>
<path d="M 515.10 310.50 L 515.10 37.17 " clip-path="url(#pdfb0ffd9d7)" style="fill: none; stroke: #185e9a"/>
<path d="M 521.99 310.50 L 521.99 37.17 " clip-path="url(#pdfb0ffd9d7)" style="fill: none; stroke: #185e9a"/>
<path d="M 528.89 310.50 L 528.89 37.17 " clip-path="url(#pdfb0ffd9d7)" style="fill: none; stroke: #185e9a"/>
<path d="M 535.78 310.50 L 535.78 37.17 " clip-path="url(#pdfb0ffd9d7)" style="fill: none; stroke: #185e9a"/>
<path d="M 542.67 310.50 L 542.67 37.17 " clip-path="url(#pdfb0ffd9d7)" style="fill: none; stroke: #185e9a"/>
<path d="M 549.56 310.50 L 549.56 37.17 " clip-path="url(#pdfb0ffd9d7)" style="fill: none; stroke: #185e9a"/>
<path d="M 556.45 310.50 L 556.45 37.17 " clip-path="url(#pdfb0ffd9d7)" style="fill: none; stroke: #185e9a"/>
<path d="M 563.34 310.50 L 563.34 37.17 " clip-path="url(#pdfb0ffd9d7)" style="fill: none; stroke: #185e9a"/>
<path d="M 570.23 310.50 L 570.23 37.17 " clip-path="url(#pdfb0ffd9d7)" style="fill: none; stroke: #185e9a"/>
<path d="M 577.12 310.17 L 577.12 37.50 " clip-path="url(#pdfb0ffd9d7)" style="fill: none; stroke: #185e9a"/>
<path d="M 584.02 310.17 L 584.02 37.50 " clip-path="url(#pdfb0ffd9d7)" style="fill: none; stroke: #185e9a"/>
<path d="M 590.91 310.17 L 590.91 37.50 " clip-path="url(#pdfb0ffd9d7)" style="fill: none; stroke: #185e9a"/>
<path d="M 597.80 310.17 L 597.80 37.50 " clip-path="url(#pdfb0ffd9d7)" style="fill: none; stroke: #185e9a"/>
<path d="M 604.69 310.17 L 604.69 37.50 " clip-path="url(#pdfb0ffd9d7)" style="fill: none; stroke: #185e9a"/>
<path d="M 611.58 310.66 L 611.58 37.83 " clip-path="url(#pdfb0ffd9d7)" style="fill: none; stroke: #185e9a"/>
<path d="M 618.47 310.66 L 618.47 37.83 " clip-path="url(#pdfb0ffd9d7)" style="fill: none; stroke: #185e9a"/>
<path d="M 625.36 310.66 L 625.36 37.83 " clip-path="url(#pdfb0ffd9d7)" style="fill: none; stroke: #185e9a"/>
<path d="M 632.25 310.66 L 632.25 37.83 " clip-path="url(#pdfb0ffd9d7)" style="fill: none; stroke: #185e9a"/>
<path d="M 639.14 310.00 L 639.14 38.49 " clip-path="url(#pdfb0ffd9d7)" style="fill: none; stroke: #185e9a"/>
<path d="M 646.04 310.50 L 646.04 38.99 " clip-path="url(#pdfb0ffd9d7)" style="fill: none; stroke: #185e9a"/>
<path d="M 652.93 310.17 L 652.93 39.32 " clip-path="url(#pdfb0ffd9d7)" style="fill: none; stroke: #185e9a"/>
<path d="M 659.82 309.51 L 659.82 39.98 " clip-path="url(#pdfb0ffd9d7)" style="fill: none; stroke: #185e9a"/>
<path d="M 666.71 308.84 L 666.71 40.64 " clip-path="url(#pdfb0ffd9d7)" style="fill: none; stroke: #185e9a"/>
<path d="M 673.60 307.68 L 673.60 41.80 " clip-path="url(#pdfb0ffd9d7)" style="fill: none; stroke: #185e9a"/>
<path d="M 680.49 307.68 L 680.49 42.96 " clip-path="url(#pdfb0ffd9d7)" style="fill: none; stroke: #185e9a"/>
<path d="M 687.38 305.70 L 687.38 44.95 " clip-path="url(#pdfb0ffd9d7)" style="fill: none; stroke: #185e9a"/>
<path d="M 694.27 304.04 L 694.27 46.60 " clip-path="url(#pdfb0ffd9d7)" style="fill: none; stroke: #185e9a"/>
<path d="M 701.16 302.06 L 701.16 49.42 " clip-path="url(#pdfb0ffd9d7)" style="fill: none; stroke: #185e9a"/>
<path d="M 708.06 299.74 L 708.06 52.40 " clip-path="url(#pdfb0ffd9d7)" style="fill: none; stroke: #185e9a"/>
<path d="M 714.95 296.10 L 714.95 56.70 " clip-path="url(#pdfb0ffd9d7)" style="fill: none; stroke: #185e9a"/>
<path d="M 721.84 292.78 L 721.84 61.01 " clip-path="url(#pdfb0ffd9d7)" style="fill: none; stroke: #185e9a"/>
<path d="M 728.73 287.49 L 728.73 67.63 " clip-path="url(#pdfb0ffd9d7)" style="fill: none; stroke: #185e9a"/>
<path d="M 735.62 281.03 L 735.62 75.74 " clip-path="url(#pdfb0ffd9d7)" style="fill: none; stroke: #185e9a"/>
<path d="M 742.51 274.74 L 742.51 85.01 " clip-path="url(#pdfb0ffd9d7)" style="fill: none; stroke: #185e9a"/>
<path d="M 749.40 265.96 L 749.40 96.43 " clip-path="url(#pdfb0ffd9d7)" style="fill: none; stroke: #185e9a"/>
<path d="M 756.29 256.86 L 756.29 110.51 " clip-path="url(#pdfb0ffd9d7)" style="fill: none; stroke: #185e9a"/>
<path d="M 763.18 246.59 L 763.18 126.40 " clip-path="url(#pdfb0ffd9d7)" style="fill: none; stroke: #185e9a"/>
<path d="M 770.08 236.50 L 770.08 143.78 " clip-path="url(#pdfb0ffd9d7)" style="fill: none; stroke: #185e9a"/>
<path d="M 776.97 225.40 L 776.97 158.85 " clip-path="url(#pdfb0ffd9d7)" style="fill: none; stroke: #185e9a"/>
<path d="M 783.86 215.47 L 783.86 174.25 " clip-path="url(#pdfb0ffd9d7)" style="fill: none; stroke: #185e9a"/>
<path d="M 790.75 200.90 L 790.75 183.68 " clip-path="url(#pdfb0ffd9d7)" style="fill: none; stroke: #185e9a"/>
<path d="M 797.64 191.13 L 797.64 191.13 " clip-path="url(#pdfb0ffd9d7)" style="fill: none; stroke: #185e9a"/>
<path d="M 804.53 191.13 L 804.53 191.13 " clip-path="url(#pdfb0ffd9d7)" style="fill: none; stroke: #185e9a"/>
<path d="M 811.42 191.13 L 811.42 191.13 " clip-path="url(#pdfb0ffd9d7)" style="fill: none; stroke: #185e9a"/>
<path d="M 818.31 191.13 L 818.31 191.13 " clip-path="url(#pdfb0ffd9d7)" style="fill: none; stroke: #185e9a"/>
<path d="M 825.21 191.13 L 825.21 191.13 " clip-path="url(#pdfb0ffd9d7)" style="fill: none; stroke: #185e9a"/>
<path d="M 832.10 191.13 L 832.10 191.13 " clip-path="url(#pdfb0ffd9d7)" style="fill: none; stroke: #185e9a"/>
<path d="M 838.99 191.13 L 838.99 191.13 " clip-path="url(#pdfb0ffd9d7)" style="fill: none; stroke: #185e9a"/>
</g>
<g id="line2d_60">
<defs>
<path id="mccd423851a" d="M 5 0 L -5 -0 " style="stroke: #185e9a"/>
</defs>
<g clip-path="url(#pdfb0ffd9d7)">
<use href="#mccd423851a" x="501.32" y="310.50" style="fill: #1f77b4; stroke: #185e9a"/>
<use href="#mccd423851a" x="508.21" y="310.50" style="fill: #1f77b4; stroke: #185e9a"/>
<use href="#mccd423851a" x="515.10" y="310.50" style="fill: #1f77b4; stroke: #185e9a"/>
<use href="#mccd423851a" x="521.99" y="310.50" style="fill: #1f77b4; stroke: #185e9a"/>
<use href="#mccd423851a" x="528.89" y="310.50" style="fill: #1f77b4; stroke: #185e9a"/>
<use href="#mccd423851a" x="535.78" y="310.50" style="fill: #1f77b4; stroke: #185e9a"/>
<use href="#mccd423851a" x="542.67" y="310.50" style="fill: #1f77b4; stroke: #185e9a"/>
<use href="#mccd423851a" x="549.56" y="310.50" style="fill: #1f77b4; stroke: #185e9a"/>
<use href="#mccd423851a" x="556.45" y="310.50" style="fill: #1f77b4; stroke: #185e9a"/>
<use href="#mccd423851a" x="563.34" y="310.50" style="fill: #1f77b4; stroke: #185e9a"/>
<use href="#mccd423851a" x="570.23" y="310.50" style="fill: #1f77b4; stroke: #185e9a"/>
<use href="#mccd423851a" x="577.12" y="310.17" style="fill: #1f77b4; stroke: #185e9a"/>
<use href="#mccd423851a" x="584.02" y="310.17" style="fill: #1f77b4; stroke: #185e9a"/>
<use href="#mccd423851a" x="590.91" y="310.17" style="fill: #1f77b4; stroke: #185e9a"/>
<use href="#mccd423851a" x="597.80" y="310.17" style="fill: #1f77b4; stroke: #185e9a"/>
<use href="#mccd423851a" x="604.69" y="310.17" style="fill: #1f77b4; stroke: #185e9a"/>
<use href="#mccd423851a" x="611.58" y="310.66" style="fill: #1f77b4; stroke: #185e9a"/>
<use href="#mccd423851a" x="618.47" y="310.66" style="fill: #1f77b4; stroke: #185e9a"/>
<use href="#mccd423851a" x="625.36" y="310.66" style="fill: #1f77b4; stroke: #185e9a"/>
<use href="#mccd423851a" x="632.25" y="310.66" style="fill: #1f77b4; stroke: #185e9a"/>
<use href="#mccd423851a" x="639.14" y="310.00" style="fill: #1f77b4; stroke: #185e9a"/>
<use href="#mccd423851a" x="646.04" y="310.50" style="fill: #1f77b4; stroke: #185e9a"/>
<use href="#mccd423851a" x="652.93" y="310.17" style="fill: #1f77b4; stroke: #185e9a"/>
<use href="#mccd423851a" x="659.82" y="309.51" style="fill: #1f77b4; stroke: #185e9a"/>
<use href="#mccd423851a" x="666.71" y="308.84" style="fill: #1f77b4; stroke: #185e9a"/>
<use href="#mccd423851a" x="673.60" y="307.68" style="fill: #1f77b4; stroke: #185e9a"/>
<use href="#mccd423851a" x="680.49" y="307.68" style="fill: #1f77b4; stroke: #185e9a"/>
<use href="#mccd423851a" x="687.38" y="305.70" style="fill: #1f77b4; stroke: #185e9a"/>
<use href="#mccd423851a" x="694.27" y="304.04" style="fill: #1f77b4; stroke: #185e9a"/>
<use href="#mccd423851a" x="701.16" y="302.06" style="fill: #1f77b4; stroke: #185e9a"/>
<use href="#mccd423851a" x="708.06" y="299.74" style="fill: #1f77b4; stroke: #185e9a"/>
<use href="#mccd423851a" x="714.95" y="296.10" style="fill: #1f77b4; stroke: #185e9a"/>
<use href="#mccd423851a" x="721.84" y="292.78" style="fill: #1f77b4; stroke: #185e9a"/>
<use href="#mccd423851a" x="728.73" y="287.49" style="fill: #1f77b4; stroke: #185e9a"/>
<use href="#mccd423851a" x="735.62" y="281.03" style="fill: #1f77b4; stroke: #185e9a"/>
<use href="#mccd423851a" x="742.51" y="274.74" style="fill: #1f77b4; stroke: #185e9a"/>
<use href="#mccd423851a" x="749.40" y="265.96" style="fill: #1f77b4; stroke: #185e9a"/>
<use href="#mccd423851a" x="756.29" y="256.86" style="fill: #1f77b4; stroke: #185e9a"/>
<use href="#mccd423851a" x="763.18" y="246.59" style="fill: #1f77b4; stroke: #185e9a"/>
<use href="#mccd423851a" x="770.08" y="236.50" style="fill: #1f77b4; stroke: #185e9a"/>
<use href="#mccd423851a" x="776.97" y="225.40" style="fill: #1f77b4; stroke: #185e9a"/>
<use href="#mccd423851a" x="783.86" y="215.47" style="fill: #1f77b4; stroke: #185e9a"/>
<use href="#mccd423851a" x="790.75" y="200.90" style="fill: #1f77b4; stroke: #185e9a"/>
<use href="#mccd423851a" x="797.64" y="191.13" style="fill: #1f77b4; stroke: #185e9a"/>
<use href="#mccd423851a" x="804.53" y="191.13" style="fill: #1f77b4; stroke: #185e9a"/>
<use href="#mccd423851a" x="811.42" y="191.13" style="fill: #1f77b4; stroke: #185e9a"/>
<use href="#mccd423851a" x="818.31" y="191.13" style="fill: #1f77b4; stroke: #185e9a"/>
<use href="#mccd423851a" x="825.21" y="191.13" style="fill: #1f77b4; stroke: #185e9a"/>
<use href="#mccd423851a" x="832.10" y="191.13" style="fill: #1f77b4; stroke: #185e9a"/>
<use href="#mccd423851a" x="838.99" y="191.13" style="fill: #1f77b4; stroke: #185e9a"/>
</g>
</g>
<g id="line2d_61">
<g clip-path="url(#pdfb0ffd9d7)">
<use href="#mccd423851a" x="501.32" y="37.17" style="fill: #1f77b4; stroke: #185e9a"/>
<use href="#mccd423851a" x="508.21" y="37.17" style="fill: #1f77b4; stroke: #185e9a"/>
<use href="#mccd423851a" x="515.10" y="37.17" style="fill: #1f77b4; stroke: #185e9a"/>
<use href="#mccd423851a" x="521.99" y="37.17" style="fill: #1f77b4; stroke: #185e9a"/>
<use href="#mccd423851a" x="528.89" y="37.17" style="fill: #1f77b4; stroke: #185e9a"/>
<use href="#mccd423851a" x="535.78" y="37.17" style="fill: #1f77b4; stroke: #185e9a"/>
<use href="#mccd423851a" x="542.67" y="37.17" style="fill: #1f77b4; stroke: #185e9a"/>
<use href="#mccd423851a" x="549.56" y="37.17" style="fill: #1f77b4; stroke: #185e9a"/>
<use href="#mccd423851a" x="556.45" y="37.17" style="fill: #1f77b4; stroke: #185e9a"/>
<use href="#mccd423851a" x="563.34" y="37.17" style="fill: #1f77b4; stroke: #185e9a"/>
<use href="#mccd423851a" x="570.23" y="37.17" style="fill: #1f77b4; stroke: #185e9a"/>
<use href="#mccd423851a" x="577.12" y="37.50" style="fill: #1f77b4; stroke: #185e9a"/>
<use href="#mccd423851a" x="584.02" y="37.50" style="fill: #1f77b4; stroke: #185e9a"/>
<use href="#mccd423851a" x="590.91" y="37.50" style="fill: #1f77b4; stroke: #185e9a"/>
<use href="#mccd423851a" x="597.80" y="37.50" style="fill: #1f77b4; stroke: #185e9a"/>
<use href="#mccd423851a" x="604.69" y="37.50" style="fill: #1f77b4; stroke: #185e9a"/>
<use href="#mccd423851a" x="611.58" y="37.83" style="fill: #1f77b4; stroke: #185e9a"/>
<use href="#mccd423851a" x="618.47" y="37.83" style="fill: #1f77b4; stroke: #185e9a"/>
<use href="#mccd423851a" x="625.36" y="37.83" style="fill: #1f77b4; stroke: #185e9a"/>
<use href="#mccd423851a" x="632.25" y="37.83" style="fill: #1f77b4; stroke: #185e9a"/>
<use href="#mccd423851a" x="639.14" y="38.49" style="fill: #1f77b4; stroke: #185e9a"/>
<use href="#mccd423851a" x="646.04" y="38.99" style="fill: #1f77b4; stroke: #185e9a"/>
<use href="#mccd423851a" x="652.93" y="39.32" style="fill: #1f77b4; stroke: #185e9a"/>
<use href="#mccd423851a" x="659.82" y="39.98" style="fill: #1f77b4; stroke: #185e9a"/>
<use href="#mccd423851a" x="666.71" y="40.64" style="fill: #1f77b4; stroke: #185e9a"/>
<use href="#mccd423851a" x="673.60" y="41.80" style="fill: #1f77b4; stroke: #185e9a"/>
<use href="#mccd423851a" x="680.49" y="42.96" style="fill: #1f77b4; stroke: #185e9a"/>
<use href="#mccd423851a" x="687.38" y="44.95" style="fill: #1f77b4; stroke: #185e9a"/>
<use href="#mccd423851a" x="694.27" y="46.60" style="fill: #1f77b4; stroke: #185e9a"/>
<use href="#mccd423851a" x="701.16" y="49.42" style="fill: #1f77b4; stroke: #185e9a"/>
<use href="#mccd423851a" x="708.06" y="52.40" style="fill: #1f77b4; stroke: #185e9a"/>
<use href="#mccd423851a" x="714.95" y="56.70" style="fill: #1f77b4; stroke: #185e9a"/>
<use href="#mccd423851a" x="721.84" y="61.01" style="fill: #1f77b4; stroke: #185e9a"/>
<use href="#mccd423851a" x="728.73" y="67.63" style="fill: #1f77b4; stroke: #185e9a"/>
<use href="#mccd423851a" x="735.62" y="75.74" style="fill: #1f77b4; stroke: #185e9a"/>
<use href="#mccd423851a" x="742.51" y="85.01" style="fill: #1f77b4; stroke: #185e9a"/>
<use href="#mccd423851a" x="749.40" y="96.43" style="fill: #1f77b4; stroke: #185e9a"/>
<use href="#mccd423851a" x="756.29" y="110.51" style="fill: #1f77b4; stroke: #185e9a"/>
<use href="#mccd423851a" x="763.18" y="126.40" style="fill: #1f77b4; stroke: #185e9a"/>
<use href="#mccd423851a" x="770.08" y="143.78" style="fill: #1f77b4; stroke: #185e9a"/>
<use href="#mccd423851a" x="776.97" y="158.85" style="fill: #1f77b4; stroke: #185e9a"/>
<use href="#mccd423851a" x="783.86" y="174.25" style="fill: #1f77b4; stroke: #185e9a"/>
<use href="#mccd423851a" x="790.75" y="183.68" style="fill: #1f77b4; stroke: #185e9a"/>
<use href="#mccd423851a" x="797.64" y="191.13" style="fill: #1f77b4; stroke: #185e9a"/>
<use href="#mccd423851a" x="804.53" y="191.13" style="fill: #1f77b4; stroke: #185e9a"/>
<use href="#mccd423851a" x="811.42" y="191.13" style="fill: #1f77b4; stroke: #185e9a"/>
<use href="#mccd423851a" x="818.31" y="191.13" style="fill: #1f77b4; stroke: #185e9a"/>
<use href="#mccd423851a" x="825.21" y="191.13" style="fill: #1f77b4; stroke: #185e9a"/>
<use href="#mccd423851a" x="832.10" y="191.13" style="fill: #1f77b4; stroke: #185e9a"/>
<use href="#mccd423851a" x="838.99" y="191.13" style="fill: #1f77b4; stroke: #185e9a"/>
</g>
</g>
<g id="line2d_62">
<path d="M 760.51 324.14 L 760.51 23.59 " clip-path="url(#pdfb0ffd9d7)" style="fill: none; stroke-dasharray: 5.55,2.4; stroke-dashoffset: 0; stroke: #ff0000; stroke-width: 1.5"/>
</g>
<g id="line2d_63">
<path d="M 501.32 173.83 L 508.21 173.83 L 515.10 173.83 L 521.99 173.83 L 528.89 173.83 L 535.78 173.83 L 542.67 173.83 L 549.56 173.83 L 556.45 173.83 L 563.34 173.83 L 570.23 173.83 L 577.12 173.83 L 584.02 173.83 L 590.91 173.83 L 597.80 173.83 L 604.69 173.83 L 611.58 174.25 L 618.47 174.25 L 625.36 174.25 L 632.25 174.25 L 639.14 174.25 L 646.04 174.74 L 652.93 174.74 L 659.82 174.74 L 666.71 174.74 L 673.60 174.74 L 680.49 175.32 L 687.38 175.32 L 694.27 175.32 L 701.16 175.74 L 708.06 176.07 L 714.95 176.40 L 721.84 176.89 L 728.73 177.56 L 735.62 178.38 L 742.51 179.87 L 749.40 181.20 L 756.29 183.68 L 763.18 186.50 L 770.08 190.14 L 776.97 192.13 L 783.86 194.86 L 790.75 192.29 L 797.64 191.13 L 804.53 191.13 L 811.42 191.13 L 818.31 191.13 L 825.21 191.13 L 832.10 191.13 L 838.99 191.13 " clip-path="url(#pdfb0ffd9d7)" style="fill: none; stroke: #1f77b4; stroke-width: 1.5; stroke-linecap: square"/>
<defs>
<path id="mf14c53ed57" d="M 0 3 C 0.79 3 1.55 2.68 2.12 2.12 C 2.68 1.55 3 0.79 3 0 C 3 -0.79 2.68 -1.55 2.12 -2.12 C 1.55 -2.68 0.79 -3 0 -3 C -0.79 -3 -1.55 -2.68 -2.12 -2.12 C -2.68 -1.55 -3 -0.79 -3 0 C -3 0.79 -2.68 1.55 -2.12 2.12 C -1.55 2.68 -0.79 3 0 3 z
" style="stroke: #1f77b4"/>
</defs>
<g clip-path="url(#pdfb0ffd9d7)">
<use href="#mf14c53ed57" x="501.32" y="173.83" style="fill: #1f77b4; stroke: #1f77b4"/>
<use href="#mf14c53ed57" x="508.21" y="173.83" style="fill: #1f77b4; stroke: #1f77b4"/>
<use href="#mf14c53ed57" x="515.10" y="173.83" style="fill: #1f77b4; stroke: #1f77b4"/>
<use href="#mf14c53ed57" x="521.99" y="173.83" style="fill: #1f77b4; stroke: #1f77b4"/>
<use href="#mf14c53ed57" x="528.89" y="173.83" style="fill: #1f77b4; stroke: #1f77b4"/>
<use href="#mf14c53ed57" x="535.78" y="173.83" style="fill: #1f77b4; stroke: #1f77b4"/>
<use href="#mf14c53ed57" x="542.67" y="173.83" style="fill: #1f77b4; stroke: #1f77b4"/>
<use href="#mf14c53ed57" x="549.56" y="173.83" style="fill: #1f77b4; stroke: #1f77b4"/>
<use href="#mf14c53ed57" x="556.45" y="173.83" style="fill: #1f77b4; stroke: #1f77b4"/>
<use href="#mf14c53ed57" x="563.34" y="173.83" style="fill: #1f77b4; stroke: #1f77b4"/>
<use href="#mf14c53ed57" x="570.23" y="173.83" style="fill: #1f77b4; stroke: #1f77b4"/>
<use href="#mf14c53ed57" x="577.12" y="173.83" style="fill: #1f77b4; stroke: #1f77b4"/>
<use href="#mf14c53ed57" x="584.02" y="173.83" style="fill: #1f77b4; stroke: #1f77b4"/>
<use href="#mf14c53ed57" x="590.91" y="173.83" style="fill: #1f77b4; stroke: #1f77b4"/>
<use href="#mf14c53ed57" x="597.80" y="173.83" style="fill: #1f77b4; stroke: #1f77b4"/>
<use href="#mf14c53ed57" x="604.69" y="173.83" style="fill: #1f77b4; stroke: #1f77b4"/>
<use href="#mf14c53ed57" x="611.58" y="174.25" style="fill: #1f77b4; stroke: #1f77b4"/>
<use href="#mf14c53ed57" x="618.47" y="174.25" style="fill: #1f77b4; stroke: #1f77b4"/>
<use href="#mf14c53ed57" x="625.36" y="174.25" style="fill: #1f77b4; stroke: #1f77b4"/>
<use href="#mf14c53ed57" x="632.25" y="174.25" style="fill: #1f77b4; stroke: #1f77b4"/>
<use href="#mf14c53ed57" x="639.14" y="174.25" style="fill: #1f77b4; stroke: #1f77b4"/>
<use href="#mf14c53ed57" x="646.04" y="174.74" style="fill: #1f77b4; stroke: #1f77b4"/>
<use href="#mf14c53ed57" x="652.93" y="174.74" style="fill: #1f77b4; stroke: #1f77b4"/>
<use href="#mf14c53ed57" x="659.82" y="174.74" style="fill: #1f77b4; stroke: #1f77b4"/>
<use href="#mf14c53ed57" x="666.71" y="174.74" style="fill: #1f77b4; stroke: #1f77b4"/>
<use href="#mf14c53ed57" x="673.60" y="174.74" style="fill: #1f77b4; stroke: #1f77b4"/>
<use href="#mf14c53ed57" x="680.49" y="175.32" style="fill: #1f77b4; stroke: #1f77b4"/>
<use href="#mf14c53ed57" x="687.38" y="175.32" style="fill: #1f77b4; stroke: #1f77b4"/>
<use href="#mf14c53ed57" x="694.27" y="175.32" style="fill: #1f77b4; stroke: #1f77b4"/>
<use href="#mf14c53ed57" x="701.16" y="175.74" style="fill: #1f77b4; stroke: #1f77b4"/>
<use href="#mf14c53ed57" x="708.06" y="176.07" style="fill: #1f77b4; stroke: #1f77b4"/>
<use href="#mf14c53ed57" x="714.95" y="176.40" style="fill: #1f77b4; stroke: #1f77b4"/>
<use href="#mf14c53ed57" x="721.84" y="176.89" style="fill: #1f77b4; stroke: #1f77b4"/>
<use href="#mf14c53ed57" x="728.73" y="177.56" style="fill: #1f77b4; stroke: #1f77b4"/>
<use href="#mf14c53ed57" x="735.62" y="178.38" style="fill: #1f77b4; stroke: #1f77b4"/>
<use href="#mf14c53ed57" x="742.51" y="179.87" style="fill: #1f77b4; stroke: #1f77b4"/>
<use href="#mf14c53ed57" x="749.40" y="181.20" style="fill: #1f77b4; stroke: #1f77b4"/>
<use href="#mf14c53ed57" x="756.29" y="183.68" style="fill: #1f77b4; stroke: #1f77b4"/>
<use href="#mf14c53ed57" x="763.18" y="186.50" style="fill: #1f77b4; stroke: #1f77b4"/>
<use href="#mf14c53ed57" x="770.08" y="190.14" style="fill: #1f77b4; stroke: #1f77b4"/>
<use href="#mf14c53ed57" x="776.97" y="192.13" style="fill: #1f77b4; stroke: #1f77b4"/>
<use href="#mf14c53ed57" x="783.86" y="194.86" style="fill: #1f77b4; stroke: #1f77b4"/>
<use href="#mf14c53ed57" x="790.75" y="192.29" style="fill: #1f77b4; stroke: #1f77b4"/>
<use href="#mf14c53ed57" x="797.64" y="191.13" style="fill: #1f77b4; stroke: #1f77b4"/>
<use href="#mf14c53ed57" x="804.53" y="191.13" style="fill: #1f77b4; stroke: #1f77b4"/>
<use href="#mf14c53ed57" x="811.42" y="191.13" style="fill: #1f77b4; stroke: #1f77b4"/>
<use href="#mf14c53ed57" x="818.31" y="191.13" style="fill: #1f77b4; stroke: #1f77b4"/>
<use href="#mf14c53ed57" x="825.21" y="191.13" style="fill: #1f77b4; stroke: #1f77b4"/>
<use href="#mf14c53ed57" x="832.10" y="191.13" style="fill: #1f77b4; stroke: #1f77b4"/>
<use href="#mf14c53ed57" x="838.99" y="191.13" style="fill: #1f77b4; stroke: #1f77b4"/>
</g>
</g>
<g id="patch_8">
<path d="M 484.44 324.14 L 484.44 23.59 " style="fill: none; stroke: #000000; stroke-width: 0.8; stroke-linejoin: miter; stroke-linecap: square"/>
</g>
<g id="patch_9">
<path d="M 855.87 324.14 L 855.87 23.59 " style="fill: none; stroke: #000000; stroke-width: 0.8; stroke-linejoin: miter; stroke-linecap: square"/>
</g>
<g id="patch_10">
<path d="M 484.44 324.14 L 855.87 324.14 " style="fill: none; stroke: #000000; stroke-width: 0.8; stroke-linejoin: miter; stroke-linecap: square"/>
</g>
<g id="patch_11">
<path d="M 484.44 23.59 L 855.87 23.59 " style="fill: none; stroke: #000000; stroke-width: 0.8; stroke-linejoin: miter; stroke-linecap: square"/>
</g>
<g id="text_33">
<text style="font-size: 12px; font-family: 'DejaVu Sans', sans-serif; text-anchor: middle" x="669.33" y="17.25" transform="rotate(-0 669.33 17.25)">Coefficient Stability for T1-W</text>
</g>
</g>
<g id="axes_3">
<g id="patch_12">
<path d="M 50.20 683.12 L 421.49 683.12 L 421.49 382.32 L 50.20 382.32 z
" style="fill: #ffffff"/>
</g>
<g id="matplotlib.axis_5">
<g id="xtick_13">
<g id="line2d_64">
<g>
<use href="#m1504cfccaf" x="67.08" y="683.12" style="stroke: #000000; stroke-width: 0.8"/>
</g>
</g>
<g id="text_34">
<text style="font-size: 10px; font-family: 'DejaVu Sans', sans-serif; text-anchor: middle" x="66.35" y="697.97" transform="rotate(-0 66.35 697.97)">−3</text>
</g>
</g>
<g id="xtick_14">
<g id="line2d_65">
<g>
<use href="#m1504cfccaf" x="134.58" y="683.12" style="stroke: #000000; stroke-width: 0.8"/>
</g>
</g>
<g id="text_35">
<text style="font-size: 10px; font-family: 'DejaVu Sans', sans-serif; text-anchor: middle" x="133.86" y="697.97" transform="rotate(-0 133.86 697.97)">−2</text>
</g>
</g>
<g id="xtick_15">
<g id="line2d_66">
<g>
<use href="#m1504cfccaf" x="202.09" y="683.12" style="stroke: #000000; stroke-width: 0.8"/>
</g>
</g>
<g id="text_36">
<text style="font-size: 10px; font-family: 'DejaVu Sans', sans-serif; text-anchor: middle" x="201.37" y="697.97" transform="rotate(-0 201.37 697.97)">−1</text>
</g>
</g>
<g id="xtick_16">
<g id="line2d_67">
<g>
<use href="#m1504cfccaf" x="269.60" y="683.12" style="stroke: #000000; stroke-width: 0.8"/>
</g>
</g>
<g id="text_37">
<text style="font-size: 10px; font-family: 'DejaVu Sans', sans-serif; text-anchor: middle" x="268.87" y="697.97" transform="rotate(-0 268.87 697.97)">0</text>
</g>
</g>
<g id="xtick_17">
<g id="line2d_68">
<g>
<use href="#m1504cfccaf" x="337.10" y="683.12" style="stroke: #000000; stroke-width: 0.8"/>
</g>
</g>
<g id="text_38">
<text style="font-size: 10px; font-family: 'DejaVu Sans', sans-serif; text-anchor: middle" x="336.38" y="697.97" transform="rotate(-0 336.38 697.97)">1</text>
</g>
</g>
<g id="xtick_18">
<g id="line2d_69">
<g>
<use href="#m1504cfccaf" x="404.61" y="683.12" style="stroke: #000000; stroke-width: 0.8"/>
</g>
</g>
<g id="text_39">
<text style="font-size: 10px; font-family: 'DejaVu Sans', sans-serif; text-anchor: middle" x="403.89" y="697.97" transform="rotate(-0 403.89 697.97)">2</text>
</g>
</g>
<g id="text_40">
<text style="font-size: 10px; font-family: 'DejaVu Sans', sans-serif; text-anchor: middle" x="235.02" y="712.13" transform="rotate(-0 235.02 712.13)">log(Alpha)</text>
</g>
</g>
<g id="matplotlib.axis_6">
<g id="ytick_16">
<g id="line2d_70">
<g>
<use href="#m5d545ce8f8" x="50.20" y="650.79" style="stroke: #000000; stroke-width: 0.8"/>
</g>
</g>
<g id="text_41">
<text style="font-size: 10px; font-family: 'DejaVu Sans', sans-serif; text-anchor: end" x="42.48" y="654.84" transform="rotate(-0 42.48 654.84)">−15</text>
</g>
</g>
<g id="ytick_17">
<g id="line2d_71">
<g>
<use href="#m5d545ce8f8" x="50.20" y="605.72" style="stroke: #000000; stroke-width: 0.8"/>
</g>
</g>
<g id="text_42">
<text style="font-size: 10px; font-family: 'DejaVu Sans', sans-serif; text-anchor: end" x="42.48" y="609.77" transform="rotate(-0 42.48 609.77)">−10</text>
</g>
</g>
<g id="ytick_18">
<g id="line2d_72">
<g>
<use href="#m5d545ce8f8" x="50.20" y="560.65" style="stroke: #000000; stroke-width: 0.8"/>
</g>
</g>
<g id="text_43">
<text style="font-size: 10px; font-family: 'DejaVu Sans', sans-serif; text-anchor: end" x="42.48" y="564.69" transform="rotate(-0 42.48 564.69)">−5</text>
</g>
</g>
<g id="ytick_19">
<g id="line2d_73">
<g>
<use href="#m5d545ce8f8" x="50.20" y="515.57" style="stroke: #000000; stroke-width: 0.8"/>
</g>
</g>
<g id="text_44">
<text style="font-size: 10px; font-family: 'DejaVu Sans', sans-serif; text-anchor: end" x="42.48" y="519.62" transform="rotate(-0 42.48 519.62)">0</text>
</g>
</g>
<g id="ytick_20">
<g id="line2d_74">
<g>
<use href="#m5d545ce8f8" x="50.20" y="470.50" style="stroke: #000000; stroke-width: 0.8"/>
</g>
</g>
<g id="text_45">
<text style="font-size: 10px; font-family: 'DejaVu Sans', sans-serif; text-anchor: end" x="42.48" y="474.55" transform="rotate(-0 42.48 474.55)">5</text>
</g>
</g>
<g id="ytick_21">
<g id="line2d_75">
<g>
<use href="#m5d545ce8f8" x="50.20" y="425.42" style="stroke: #000000; stroke-width: 0.8"/>
</g>
</g>
<g id="text_46">
<text style="font-size: 10px; font-family: 'DejaVu Sans', sans-serif; text-anchor: end" x="42.48" y="429.47" transform="rotate(-0 42.48 429.47)">10</text>
</g>
</g>
<g id="text_47">
<text style="font-size: 10px; font-family: 'DejaVu Sans', sans-serif; text-anchor: middle" x="15.05" y="532.73" transform="rotate(-90 15.05 532.73)">LASSO Coefficients</text>
</g>
</g>
<g id="line2d_76">
<path d="M 67.08 483.84 L 73.97 483.84 L 80.85 483.84 L 87.74 483.84 L 94.63 483.84 L 101.52 483.84 L 108.41 483.85 L 115.30 483.85 L 122.18 483.85 L 129.07 483.86 L 135.96 483.86 L 142.85 483.87 L 149.74 483.88 L 156.63 483.89 L 163.52 483.90 L 170.40 483.91 L 177.29 483.94 L 184.18 483.96 L 191.07 484.00 L 197.96 484.04 L 204.85 484.09 L 211.73 484.17 L 218.62 484.26 L 225.51 484.38 L 232.40 484.53 L 239.29 484.73 L 246.18 485.00 L 253.06 485.36 L 259.95 485.83 L 266.84 486.46 L 273.73 487.36 L 280.62 488.65 L 287.51 490.39 L 294.40 492.66 L 301.28 495.61 L 308.17 498.85 L 315.06 502.55 L 321.95 506.73 L 328.84 514.72 L 335.73 515.57 L 342.61 515.57 L 349.50 515.57 L 356.39 515.57 L 363.28 515.57 L 370.17 515.57 L 377.06 515.57 L 383.94 515.57 L 390.83 515.57 L 397.72 515.57 L 404.61 515.57 " clip-path="url(#p60b15388ab)" style="fill: none; stroke: #1f77b4; stroke-width: 1.5; stroke-linecap: square"/>
</g>
<g id="line2d_77">
<path d="M 67.08 449.76 L 73.97 449.77 L 80.85 449.77 L 87.74 449.77 L 94.63 449.78 L 101.52 449.78 L 108.41 449.79 L 115.30 449.80 L 122.18 449.81 L 129.07 449.83 L 135.96 449.85 L 142.85 449.87 L 149.74 449.90 L 156.63 449.94 L 163.52 449.99 L 170.40 450.05 L 177.29 450.13 L 184.18 450.23 L 191.07 450.35 L 197.96 450.51 L 204.85 450.70 L 211.73 450.96 L 218.62 451.27 L 225.51 451.67 L 232.40 452.18 L 239.29 452.81 L 246.18 453.61 L 253.06 454.61 L 259.95 455.87 L 266.84 457.45 L 273.73 459.46 L 280.62 462.00 L 287.51 465.03 L 294.40 468.26 L 301.28 471.78 L 308.17 476.15 L 315.06 481.55 L 321.95 488.18 L 328.84 498.21 L 335.73 514.10 L 342.61 515.57 L 349.50 515.57 L 356.39 515.57 L 363.28 515.57 L 370.17 515.57 L 377.06 515.57 L 383.94 515.57 L 390.83 515.57 L 397.72 515.57 L 404.61 515.57 " clip-path="url(#p60b15388ab)" style="fill: none; stroke: #ff7f0e; stroke-width: 1.5; stroke-linecap: square"/>
</g>
<g id="line2d_78">
<path d="M 67.08 395.59 L 73.97 395.59 L 80.85 395.59 L 87.74 395.60 L 94.63 395.61 L 101.52 395.62 L 108.41 395.63 L 115.30 395.64 L 122.18 395.66 L 129.07 395.68 L 135.96 395.71 L 142.85 395.75 L 149.74 395.79 L 156.63 395.85 L 163.52 395.93 L 170.40 396.02 L 177.29 396.14 L 184.18 396.28 L 191.07 396.47 L 197.96 396.70 L 204.85 397.00 L 211.73 397.36 L 218.62 397.82 L 225.51 398.38 L 232.40 399.07 L 239.29 399.92 L 246.18 400.95 L 253.06 402.17 L 259.95 403.60 L 266.84 405.21 L 273.73 406.78 L 280.62 409.03 L 287.51 412.92 L 294.40 417.47 L 301.28 422.88 L 308.17 430.11 L 315.06 439.73 L 321.95 453.13 L 328.84 468.34 L 335.73 484.45 L 342.61 503.74 L 349.50 515.57 L 356.39 515.57 L 363.28 515.57 L 370.17 515.57 L 377.06 515.57 L 383.94 515.57 L 390.83 515.57 L 397.72 515.57 L 404.61 515.57 " clip-path="url(#p60b15388ab)" style="fill: none; stroke: #2ca02c; stroke-width: 1.5; stroke-linecap: square"/>
</g>
<g id="line2d_79">
<path d="M 67.08 449.13 L 73.97 449.14 L 80.85 449.14 L 87.74 449.14 L 94.63 449.15 L 101.52 449.15 L 108.41 449.16 L 115.30 449.17 L 122.18 449.18 L 129.07 449.20 L 135.96 449.22 L 142.85 449.24 L 149.74 449.27 L 156.63 449.31 L 163.52 449.36 L 170.40 449.42 L 177.29 449.50 L 184.18 449.60 L 191.07 449.73 L 197.96 449.89 L 204.85 450.09 L 211.73 450.34 L 218.62 450.67 L 225.51 451.07 L 232.40 451.58 L 239.29 452.22 L 246.18 453.02 L 253.06 454.02 L 259.95 455.28 L 266.84 456.85 L 273.73 458.76 L 280.62 461.27 L 287.51 464.74 L 294.40 468.96 L 301.28 474.02 L 308.17 479.70 L 315.06 486.66 L 321.95 495.98 L 328.84 508.74 L 335.73 515.57 L 342.61 515.57 L 349.50 515.57 L 356.39 515.57 L 363.28 515.57 L 370.17 515.57 L 377.06 515.57 L 383.94 515.57 L 390.83 515.57 L 397.72 515.57 L 404.61 515.57 " clip-path="url(#p60b15388ab)" style="fill: none; stroke: #d62728; stroke-width: 1.5; stroke-linecap: square"/>
</g>
<g id="line2d_80">
<path d="M 67.08 418.21 L 73.97 418.22 L 80.85 418.22 L 87.74 418.22 L 94.63 418.23 L 101.52 418.24 L 108.41 418.25 L 115.30 418.26 L 122.18 418.28 L 129.07 418.30 L 135.96 418.33 L 142.85 418.36 L 149.74 418.41 L 156.63 418.46 L 163.52 418.53 L 170.40 418.61 L 177.29 418.72 L 184.18 418.86 L 191.07 419.03 L 197.96 419.25 L 204.85 419.52 L 211.73 419.87 L 218.62 420.29 L 225.51 420.83 L 232.40 421.49 L 239.29 422.31 L 246.18 423.32 L 253.06 424.55 L 259.95 426.02 L 266.84 427.78 L 273.73 429.76 L 280.62 432.06 L 287.51 434.77 L 294.40 438.20 L 301.28 442.58 L 308.17 448.58 L 315.06 456.49 L 321.95 465.24 L 328.84 495.47 L 335.73 515.57 L 342.61 515.57 L 349.50 515.57 L 356.39 515.57 L 363.28 515.57 L 370.17 515.57 L 377.06 515.57 L 383.94 515.57 L 390.83 515.57 L 397.72 515.57 L 404.61 515.57 " clip-path="url(#p60b15388ab)" style="fill: none; stroke: #9467bd; stroke-width: 1.5; stroke-linecap: square"/>
</g>
<g id="line2d_81">
<path d="M 67.08 419.38 L 73.97 419.39 L 80.85 419.39 L 87.74 419.40 L 94.63 419.40 L 101.52 419.41 L 108.41 419.42 L 115.30 419.43 L 122.18 419.45 L 129.07 419.47 L 135.96 419.49 L 142.85 419.53 L 149.74 419.57 L 156.63 419.62 L 163.52 419.68 L 170.40 419.77 L 177.29 419.87 L 184.18 420.00 L 191.07 420.16 L 197.96 420.37 L 204.85 420.63 L 211.73 420.96 L 218.62 421.36 L 225.51 421.87 L 232.40 422.51 L 239.29 423.29 L 246.18 424.26 L 253.06 425.45 L 259.95 426.89 L 266.84 428.61 L 273.73 430.59 L 280.62 432.89 L 287.51 435.60 L 294.40 439.03 L 301.28 443.41 L 308.17 449.40 L 315.06 457.42 L 321.95 468.19 L 328.84 481.53 L 335.73 498.01 L 342.61 515.57 L 349.50 515.57 L 356.39 515.57 L 363.28 515.57 L 370.17 515.57 L 377.06 515.57 L 383.94 515.57 L 390.83 515.57 L 397.72 515.57 L 404.61 515.57 " clip-path="url(#p60b15388ab)" style="fill: none; stroke: #8c564b; stroke-width: 1.5; stroke-linecap: square"/>
</g>
<g id="line2d_82">
<path d="M 67.08 479.24 L 73.97 479.24 L 80.85 479.24 L 87.74 479.24 L 94.63 479.24 L 101.52 479.24 L 108.41 479.24 L 115.30 479.24 L 122.18 479.24 L 129.07 479.24 L 135.96 479.24 L 142.85 479.24 L 149.74 479.24 L 156.63 479.24 L 163.52 479.24 L 170.40 479.24 L 177.29 479.24 L 184.18 479.25 L 191.07 479.25 L 197.96 479.25 L 204.85 479.25 L 211.73 479.25 L 218.62 479.25 L 225.51 479.26 L 232.40 479.26 L 239.29 479.27 L 246.18 479.27 L 253.06 479.28 L 259.95 479.28 L 266.84 479.29 L 273.73 479.29 L 280.62 479.29 L 287.51 479.29 L 294.40 479.29 L 301.28 479.29 L 308.17 479.29 L 315.06 479.29 L 321.95 479.29 L 328.84 481.86 L 335.73 493.89 L 342.61 507.23 L 349.50 515.57 L 356.39 515.57 L 363.28 515.57 L 370.17 515.57 L 377.06 515.57 L 383.94 515.57 L 390.83 515.57 L 397.72 515.57 L 404.61 515.57 " clip-path="url(#p60b15388ab)" style="fill: none; stroke: #e377c2; stroke-width: 1.5; stroke-linecap: square"/>
</g>
<g id="line2d_83">
<path d="M 67.08 577.41 L 73.97 577.41 L 80.85 577.41 L 87.74 577.40 L 94.63 577.40 L 101.52 577.40 L 108.41 577.39 L 115.30 577.38 L 122.18 577.37 L 129.07 577.36 L 135.96 577.34 L 142.85 577.32 L 149.74 577.29 L 156.63 577.26 L 163.52 577.21 L 170.40 577.16 L 177.29 577.09 L 184.18 577.00 L 191.07 576.89 L 197.96 576.75 L 204.85 576.58 L 211.73 576.36 L 218.62 576.08 L 225.51 575.72 L 232.40 575.28 L 239.29 574.72 L 246.18 574.02 L 253.06 573.13 L 259.95 572.03 L 266.84 570.65 L 273.73 568.99 L 280.62 566.97 L 287.51 564.31 L 294.40 560.42 L 301.28 554.82 L 308.17 547.14 L 315.06 537.23 L 321.95 521.57 L 328.84 515.57 L 335.73 515.57 L 342.61 515.57 L 349.50 515.57 L 356.39 515.57 L 363.28 515.57 L 370.17 515.57 L 377.06 515.57 L 383.94 515.57 L 390.83 515.57 L 397.72 515.57 L 404.61 515.57 " clip-path="url(#p60b15388ab)" style="fill: none; stroke: #7f7f7f; stroke-width: 1.5; stroke-linecap: square"/>
</g>
<g id="line2d_84">
<path d="M 67.08 450.21 L 73.97 450.22 L 80.85 450.22 L 87.74 450.23 L 94.63 450.23 L 101.52 450.24 L 108.41 450.25 L 115.30 450.26 L 122.18 450.27 L 129.07 450.29 L 135.96 450.31 L 142.85 450.34 L 149.74 450.37 L 156.63 450.42 L 163.52 450.48 L 170.40 450.55 L 177.29 450.64 L 184.18 450.75 L 191.07 450.90 L 197.96 451.08 L 204.85 451.31 L 211.73 451.61 L 218.62 451.98 L 225.51 452.44 L 232.40 453.03 L 239.29 453.78 L 246.18 454.72 L 253.06 455.90 L 259.95 457.39 L 266.84 459.25 L 273.73 461.59 L 280.62 464.51 L 287.51 468.18 L 294.40 472.87 L 301.28 478.70 L 308.17 484.89 L 315.06 492.98 L 321.95 506.06 L 328.84 515.57 L 335.73 515.57 L 342.61 515.57 L 349.50 515.57 L 356.39 515.57 L 363.28 515.57 L 370.17 515.57 L 377.06 515.57 L 383.94 515.57 L 390.83 515.57 L 397.72 515.57 L 404.61 515.57 " clip-path="url(#p60b15388ab)" style="fill: none; stroke: #bcbd22; stroke-width: 1.5; stroke-linecap: square"/>
</g>
<g id="line2d_85">
<path d="M 67.08 545.50 L 73.97 545.50 L 80.85 545.50 L 87.74 545.50 L 94.63 545.50 L 101.52 545.50 L 108.41 545.50 L 115.30 545.50 L 122.18 545.49 L 129.07 545.49 L 135.96 545.49 L 142.85 545.49 L 149.74 545.48 L 156.63 545.48 L 163.52 545.47 L 170.40 545.47 L 177.29 545.45 L 184.18 545.44 L 191.07 545.42 L 197.96 545.40 L 204.85 545.36 L 211.73 545.31 L 218.62 545.24 L 225.51 545.15 L 232.40 545.01 L 239.29 544.81 L 246.18 544.53 L 253.06 544.13 L 259.95 543.57 L 266.84 542.79 L 273.73 541.37 L 280.62 538.88 L 287.51 535.65 L 294.40 532.86 L 301.28 530.05 L 308.17 526.98 L 315.06 522.96 L 321.95 516.62 L 328.84 515.57 L 335.73 515.57 L 342.61 515.57 L 349.50 515.57 L 356.39 515.57 L 363.28 515.57 L 370.17 515.57 L 377.06 515.57 L 383.94 515.57 L 390.83 515.57 L 397.72 515.57 L 404.61 515.57 " clip-path="url(#p60b15388ab)" style="fill: none; stroke: #17becf; stroke-width: 1.5; stroke-linecap: square"/>
</g>
<g id="line2d_86">
<path d="M 67.08 636.19 L 73.97 636.19 L 80.85 636.18 L 87.74 636.18 L 94.63 636.17 L 101.52 636.17 L 108.41 636.16 L 115.30 636.15 L 122.18 636.13 L 129.07 636.12 L 135.96 636.09 L 142.85 636.07 L 149.74 636.03 L 156.63 635.99 L 163.52 635.93 L 170.40 635.86 L 177.29 635.77 L 184.18 635.66 L 191.07 635.52 L 197.96 635.34 L 204.85 635.11 L 211.73 634.82 L 218.62 634.45 L 225.51 633.99 L 232.40 633.40 L 239.29 632.65 L 246.18 631.70 L 253.06 630.49 L 259.95 628.95 L 266.84 626.99 L 273.73 624.46 L 280.62 621.20 L 287.51 617.07 L 294.40 611.85 L 301.28 605.02 L 308.17 596.59 L 315.06 587.58 L 321.95 579.29 L 328.84 565.98 L 335.73 536.99 L 342.61 515.57 L 349.50 515.57 L 356.39 515.57 L 363.28 515.57 L 370.17 515.57 L 377.06 515.57 L 383.94 515.57 L 390.83 515.57 L 397.72 515.57 L 404.61 515.57 " clip-path="url(#p60b15388ab)" style="fill: none; stroke: #1f77b4; stroke-width: 1.5; stroke-linecap: square"/>
</g>
<g id="line2d_87">
<path d="M 67.08 464.55 L 73.97 464.55 L 80.85 464.55 L 87.74 464.55 L 94.63 464.55 L 101.52 464.55 L 108.41 464.56 L 115.30 464.56 L 122.18 464.56 L 129.07 464.57 L 135.96 464.58 L 142.85 464.58 L 149.74 464.60 L 156.63 464.61 L 163.52 464.63 L 170.40 464.65 L 177.29 464.68 L 184.18 464.71 L 191.07 464.76 L 197.96 464.81 L 204.85 464.89 L 211.73 464.98 L 218.62 465.10 L 225.51 465.26 L 232.40 465.47 L 239.29 465.74 L 246.18 466.10 L 253.06 466.58 L 259.95 467.22 L 266.84 468.08 L 273.73 469.35 L 280.62 471.21 L 287.51 473.60 L 294.40 476.12 L 301.28 478.97 L 308.17 482.47 L 315.06 487.69 L 321.95 498.96 L 328.84 507.53 L 335.73 512.92 L 342.61 515.57 L 349.50 515.57 L 356.39 515.57 L 363.28 515.57 L 370.17 515.57 L 377.06 515.57 L 383.94 515.57 L 390.83 515.57 L 397.72 515.57 L 404.61 515.57 " clip-path="url(#p60b15388ab)" style="fill: none; stroke: #ff7f0e; stroke-width: 1.5; stroke-linecap: square"/>
</g>
<g id="line2d_88">
<path d="M 67.08 460.85 L 73.97 460.85 L 80.85 460.86 L 87.74 460.86 L 94.63 460.86 L 101.52 460.87 L 108.41 460.87 L 115.30 460.88 L 122.18 460.89 L 129.07 460.91 L 135.96 460.92 L 142.85 460.94 L 149.74 460.97 L 156.63 461.00 L 163.52 461.04 L 170.40 461.09 L 177.29 461.16 L 184.18 461.24 L 191.07 461.35 L 197.96 461.48 L 204.85 461.65 L 211.73 461.86 L 218.62 462.13 L 225.51 462.47 L 232.40 462.90 L 239.29 463.44 L 246.18 464.14 L 253.06 465.01 L 259.95 466.12 L 266.84 467.53 L 273.73 469.30 L 280.62 471.53 L 287.51 474.42 L 294.40 478.32 L 301.28 483.49 L 308.17 489.65 L 315.06 497.69 L 321.95 511.35 L 328.84 515.57 L 335.73 515.57 L 342.61 515.57 L 349.50 515.57 L 356.39 515.57 L 363.28 515.57 L 370.17 515.57 L 377.06 515.57 L 383.94 515.57 L 390.83 515.57 L 397.72 515.57 L 404.61 515.57 " clip-path="url(#p60b15388ab)" style="fill: none; stroke: #2ca02c; stroke-width: 1.5; stroke-linecap: square"/>
</g>
<g id="line2d_89">
<path d="M 67.08 548.39 L 73.97 548.38 L 80.85 548.38 L 87.74 548.38 L 94.63 548.38 L 101.52 548.38 L 108.41 548.37 L 115.30 548.37 L 122.18 548.36 L 129.07 548.36 L 135.96 548.35 L 142.85 548.34 L 149.74 548.32 L 156.63 548.31 L 163.52 548.28 L 170.40 548.25 L 177.29 548.22 L 184.18 548.17 L 191.07 548.11 L 197.96 548.04 L 204.85 547.94 L 211.73 547.82 L 218.62 547.66 L 225.51 547.46 L 232.40 547.20 L 239.29 546.85 L 246.18 546.40 L 253.06 545.80 L 259.95 545.01 L 266.84 543.96 L 273.73 542.40 L 280.62 540.15 L 287.51 537.36 L 294.40 534.62 L 301.28 531.71 L 308.17 528.41 L 315.06 524.09 L 321.95 517.17 L 328.84 515.57 L 335.73 515.57 L 342.61 515.57 L 349.50 515.57 L 356.39 515.57 L 363.28 515.57 L 370.17 515.57 L 377.06 515.57 L 383.94 515.57 L 390.83 515.57 L 397.72 515.57 L 404.61 515.57 " clip-path="url(#p60b15388ab)" style="fill: none; stroke: #d62728; stroke-width: 1.5; stroke-linecap: square"/>
</g>
<g id="line2d_90">
<path d="M 67.08 593.01 L 73.97 593.01 L 80.85 593.00 L 87.74 593.00 L 94.63 593.00 L 101.52 592.99 L 108.41 592.99 L 115.30 592.98 L 122.18 592.97 L 129.07 592.96 L 135.96 592.95 L 142.85 592.93 L 149.74 592.91 L 156.63 592.88 L 163.52 592.85 L 170.40 592.80 L 177.29 592.74 L 184.18 592.67 L 191.07 592.58 L 197.96 592.46 L 204.85 592.32 L 211.73 592.13 L 218.62 591.89 L 225.51 591.58 L 232.40 591.19 L 239.29 590.68 L 246.18 590.03 L 253.06 589.19 L 259.95 588.10 L 266.84 586.67 L 273.73 584.76 L 280.62 582.21 L 287.51 578.81 L 294.40 574.32 L 301.28 568.27 L 308.17 560.32 L 315.06 550.31 L 321.95 534.86 L 328.84 518.15 L 335.73 515.57 L 342.61 515.57 L 349.50 515.57 L 356.39 515.57 L 363.28 515.57 L 370.17 515.57 L 377.06 515.57 L 383.94 515.57 L 390.83 515.57 L 397.72 515.57 L 404.61 515.57 " clip-path="url(#p60b15388ab)" style="fill: none; stroke: #9467bd; stroke-width: 1.5; stroke-linecap: square"/>
</g>
<g id="line2d_91">
<path d="M 67.08 477.08 L 73.97 477.08 L 80.85 477.08 L 87.74 477.08 L 94.63 477.08 L 101.52 477.09 L 108.41 477.09 L 115.30 477.09 L 122.18 477.10 L 129.07 477.10 L 135.96 477.11 L 142.85 477.12 L 149.74 477.13 L 156.63 477.14 L 163.52 477.16 L 170.40 477.18 L 177.29 477.21 L 184.18 477.25 L 191.07 477.29 L 197.96 477.35 L 204.85 477.43 L 211.73 477.52 L 218.62 477.65 L 225.51 477.81 L 232.40 478.02 L 239.29 478.29 L 246.18 478.64 L 253.06 479.10 L 259.95 479.72 L 266.84 480.54 L 273.73 481.73 L 280.62 483.44 L 287.51 485.59 L 294.40 487.81 L 301.28 490.33 L 308.17 493.21 L 315.06 496.56 L 321.95 500.49 L 328.84 504.28 L 335.73 512.86 L 342.61 515.57 L 349.50 515.57 L 356.39 515.57 L 363.28 515.57 L 370.17 515.57 L 377.06 515.57 L 383.94 515.57 L 390.83 515.57 L 397.72 515.57 L 404.61 515.57 " clip-path="url(#p60b15388ab)" style="fill: none; stroke: #8c564b; stroke-width: 1.5; stroke-linecap: square"/>
</g>
<g id="line2d_92">
<path d="M 67.08 582.10 L 73.97 582.10 L 80.85 582.10 L 87.74 582.10 L 94.63 582.09 L 101.52 582.09 L 108.41 582.09 L 115.30 582.09 L 122.18 582.08 L 129.07 582.07 L 135.96 582.07 L 142.85 582.06 L 149.74 582.05 L 156.63 582.03 L 163.52 582.01 L 170.40 581.99 L 177.29 581.95 L 184.18 581.91 L 191.07 581.86 L 197.96 581.80 L 204.85 581.72 L 211.73 581.62 L 218.62 581.49 L 225.51 581.33 L 232.40 581.13 L 239.29 580.88 L 246.18 580.56 L 253.06 580.15 L 259.95 579.65 L 266.84 579.02 L 273.73 578.25 L 280.62 577.32 L 287.51 576.09 L 294.40 574.22 L 301.28 571.59 L 308.17 569.16 L 315.06 566.73 L 321.95 563.00 L 328.84 553.46 L 335.73 521.89 L 342.61 515.57 L 349.50 515.57 L 356.39 515.57 L 363.28 515.57 L 370.17 515.57 L 377.06 515.57 L 383.94 515.57 L 390.83 515.57 L 397.72 515.57 L 404.61 515.57 " clip-path="url(#p60b15388ab)" style="fill: none; stroke: #e377c2; stroke-width: 1.5; stroke-linecap: square"/>
</g>
<g id="line2d_93">
<path d="M 67.08 521.16 L 73.97 521.15 L 80.85 521.14 L 87.74 521.13 L 94.63 521.12 L 101.52 521.10 L 108.41 521.07 L 115.30 521.04 L 122.18 521.00 L 129.07 520.95 L 135.96 520.90 L 142.85 520.82 L 149.74 520.73 L 156.63 520.62 L 163.52 520.48 L 170.40 520.30 L 177.29 520.07 L 184.18 519.79 L 191.07 519.42 L 197.96 518.97 L 204.85 518.39 L 211.73 517.66 L 218.62 516.73 L 225.51 515.57 L 232.40 515.57 L 239.29 515.57 L 246.18 515.57 L 253.06 515.57 L 259.95 515.57 L 266.84 515.57 L 273.73 515.57 L 280.62 515.57 L 287.51 515.57 L 294.40 515.57 L 301.28 513.76 L 308.17 510.98 L 315.06 508.21 L 321.95 505.75 L 328.84 503.82 L 335.73 502.11 L 342.61 508.70 L 349.50 515.57 L 356.39 515.57 L 363.28 515.57 L 370.17 515.57 L 377.06 515.57 L 383.94 515.57 L 390.83 515.57 L 397.72 515.57 L 404.61 515.57 " clip-path="url(#p60b15388ab)" style="fill: none; stroke: #7f7f7f; stroke-width: 1.5; stroke-linecap: square"/>
</g>
<g id="line2d_94">
<path d="M 67.08 475.10 L 73.97 475.10 L 80.85 475.10 L 87.74 475.10 L 94.63 475.10 L 101.52 475.11 L 108.41 475.11 L 115.30 475.11 L 122.18 475.12 L 129.07 475.13 L 135.96 475.14 L 142.85 475.15 L 149.74 475.16 L 156.63 475.18 L 163.52 475.21 L 170.40 475.24 L 177.29 475.28 L 184.18 475.33 L 191.07 475.39 L 197.96 475.48 L 204.85 475.58 L 211.73 475.71 L 218.62 475.87 L 225.51 476.09 L 232.40 476.35 L 239.29 476.70 L 246.18 477.14 L 253.06 477.70 L 259.95 478.42 L 266.84 479.36 L 273.73 480.58 L 280.62 482.18 L 287.51 484.28 L 294.40 487.05 L 301.28 490.75 L 308.17 495.63 L 315.06 501.99 L 321.95 511.84 L 328.84 515.57 L 335.73 515.57 L 342.61 515.57 L 349.50 515.57 L 356.39 515.57 L 363.28 515.57 L 370.17 515.57 L 377.06 515.57 L 383.94 515.57 L 390.83 515.57 L 397.72 515.57 L 404.61 515.57 " clip-path="url(#p60b15388ab)" style="fill: none; stroke: #bcbd22; stroke-width: 1.5; stroke-linecap: square"/>
</g>
<g id="line2d_95">
<path d="M 67.08 560.19 L 73.97 560.19 L 80.85 560.19 L 87.74 560.19 L 94.63 560.18 L 101.52 560.18 L 108.41 560.17 L 115.30 560.16 L 122.18 560.15 L 129.07 560.13 L 135.96 560.12 L 142.85 560.09 L 149.74 560.06 L 156.63 560.03 L 163.52 559.98 L 170.40 559.92 L 177.29 559.84 L 184.18 559.75 L 191.07 559.63 L 197.96 559.48 L 204.85 559.29 L 211.73 559.05 L 218.62 558.75 L 225.51 558.38 L 232.40 557.91 L 239.29 557.33 L 246.18 556.62 L 253.06 555.74 L 259.95 554.69 L 266.84 553.45 L 273.73 552.06 L 280.62 550.50 L 287.51 548.55 L 294.40 545.66 L 301.28 541.56 L 308.17 536.13 L 315.06 529.74 L 321.95 520.93 L 328.84 515.57 L 335.73 515.57 L 342.61 515.57 L 349.50 515.57 L 356.39 515.57 L 363.28 515.57 L 370.17 515.57 L 377.06 515.57 L 383.94 515.57 L 390.83 515.57 L 397.72 515.57 L 404.61 515.57 " clip-path="url(#p60b15388ab)" style="fill: none; stroke: #17becf; stroke-width: 1.5; stroke-linecap: square"/>
</g>
<g id="line2d_96">
<path d="M 67.08 668.73 L 73.97 668.73 L 80.85 668.73 L 87.74 668.72 L 94.63 668.71 L 101.52 668.71 L 108.41 668.70 L 115.30 668.69 L 122.18 668.67 L 129.07 668.65 L 135.96 668.63 L 142.85 668.59 L 149.74 668.56 L 156.63 668.51 L 163.52 668.44 L 170.40 668.36 L 177.29 668.26 L 184.18 668.13 L 191.07 667.97 L 197.96 667.77 L 204.85 667.51 L 211.73 667.17 L 218.62 666.75 L 225.51 666.22 L 232.40 665.53 L 239.29 664.66 L 246.18 663.53 L 253.06 662.09 L 259.95 660.23 L 266.84 657.82 L 273.73 654.56 L 280.62 650.19 L 287.51 644.76 L 294.40 638.64 L 301.28 631.22 L 308.17 622.59 L 315.06 613.73 L 321.95 605.66 L 328.84 595.31 L 335.73 578.34 L 342.61 554.32 L 349.50 527.74 L 356.39 515.57 L 363.28 515.57 L 370.17 515.57 L 377.06 515.57 L 383.94 515.57 L 390.83 515.57 L 397.72 515.57 L 404.61 515.57 " clip-path="url(#p60b15388ab)" style="fill: none; stroke: #1f77b4; stroke-width: 1.5; stroke-linecap: square"/>
</g>
<g id="line2d_97">
<path d="M 67.08 597.88 L 73.97 597.87 L 80.85 597.87 L 87.74 597.87 L 94.63 597.87 L 101.52 597.86 L 108.41 597.86 L 115.30 597.86 L 122.18 597.85 L 129.07 597.84 L 135.96 597.83 L 142.85 597.81 L 149.74 597.80 L 156.63 597.77 L 163.52 597.75 L 170.40 597.71 L 177.29 597.66 L 184.18 597.61 L 191.07 597.53 L 197.96 597.44 L 204.85 597.32 L 211.73 597.17 L 218.62 596.97 L 225.51 596.72 L 232.40 596.40 L 239.29 595.99 L 246.18 595.45 L 253.06 594.75 L 259.95 593.83 L 266.84 592.62 L 273.73 590.94 L 280.62 588.62 L 287.51 585.64 L 294.40 582.13 L 301.28 577.67 L 308.17 572.33 L 315.06 566.85 L 321.95 562.00 L 328.84 555.06 L 335.73 541.59 L 342.61 523.92 L 349.50 515.57 L 356.39 515.57 L 363.28 515.57 L 370.17 515.57 L 377.06 515.57 L 383.94 515.57 L 390.83 515.57 L 397.72 515.57 L 404.61 515.57 " clip-path="url(#p60b15388ab)" style="fill: none; stroke: #ff7f0e; stroke-width: 1.5; stroke-linecap: square"/>
</g>
<g id="line2d_98">
<path d="M 67.08 577.41 L 73.97 577.41 L 80.85 577.41 L 87.74 577.40 L 94.63 577.40 L 101.52 577.39 L 108.41 577.39 L 115.30 577.38 L 122.18 577.37 L 129.07 577.35 L 135.96 577.33 L 142.85 577.31 L 149.74 577.28 L 156.63 577.24 L 163.52 577.20 L 170.40 577.14 L 177.29 577.06 L 184.18 576.97 L 191.07 576.85 L 197.96 576.69 L 204.85 576.50 L 211.73 576.26 L 218.62 575.95 L 225.51 575.57 L 232.40 575.08 L 239.29 574.47 L 246.18 573.70 L 253.06 572.74 L 259.95 571.54 L 266.84 570.04 L 273.73 568.25 L 280.62 566.07 L 287.51 563.21 L 294.40 559.05 L 301.28 553.07 L 308.17 544.96 L 315.06 534.86 L 321.95 520.02 L 328.84 515.57 L 335.73 515.57 L 342.61 515.57 L 349.50 515.57 L 356.39 515.57 L 363.28 515.57 L 370.17 515.57 L 377.06 515.57 L 383.94 515.57 L 390.83 515.57 L 397.72 515.57 L 404.61 515.57 " clip-path="url(#p60b15388ab)" style="fill: none; stroke: #2ca02c; stroke-width: 1.5; stroke-linecap: square"/>
</g>
<g id="line2d_99">
<path d="M 67.08 582.10 L 73.97 582.10 L 80.85 582.10 L 87.74 582.10 L 94.63 582.09 L 101.52 582.09 L 108.41 582.09 L 115.30 582.08 L 122.18 582.08 L 129.07 582.07 L 135.96 582.06 L 142.85 582.05 L 149.74 582.03 L 156.63 582.01 L 163.52 581.98 L 170.40 581.95 L 177.29 581.91 L 184.18 581.86 L 191.07 581.79 L 197.96 581.71 L 204.85 581.60 L 211.73 581.46 L 218.62 581.29 L 225.51 581.06 L 232.40 580.76 L 239.29 580.38 L 246.18 579.88 L 253.06 579.22 L 259.95 578.35 L 266.84 577.19 L 273.73 575.59 L 280.62 573.36 L 287.51 570.33 L 294.40 566.24 L 301.28 560.30 L 308.17 552.68 L 315.06 545.17 L 321.95 537.26 L 328.84 527.89 L 335.73 518.92 L 342.61 515.57 L 349.50 515.57 L 356.39 515.57 L 363.28 515.57 L 370.17 515.57 L 377.06 515.57 L 383.94 515.57 L 390.83 515.57 L 397.72 515.57 L 404.61 515.57 " clip-path="url(#p60b15388ab)" style="fill: none; stroke: #d62728; stroke-width: 1.5; stroke-linecap: square"/>
</g>
<g id="line2d_100">
<path d="M 67.08 606.62 L 73.97 606.62 L 80.85 606.62 L 87.74 606.61 L 94.63 606.61 L 101.52 606.61 L 108.41 606.60 L 115.30 606.60 L 122.18 606.59 L 129.07 606.58 L 135.96 606.57 L 142.85 606.55 L 149.74 606.53 L 156.63 606.50 L 163.52 606.47 L 170.40 606.43 L 177.29 606.38 L 184.18 606.31 L 191.07 606.23 L 197.96 606.12 L 204.85 605.99 L 211.73 605.82 L 218.62 605.60 L 225.51 605.32 L 232.40 604.97 L 239.29 604.52 L 246.18 603.93 L 253.06 603.18 L 259.95 602.20 L 266.84 600.93 L 273.73 599.26 L 280.62 597.07 L 287.51 594.10 L 294.40 589.94 L 301.28 584.07 L 308.17 576.05 L 315.06 565.66 L 321.95 549.26 L 328.84 527.71 L 335.73 515.57 L 342.61 515.57 L 349.50 515.57 L 356.39 515.57 L 363.28 515.57 L 370.17 515.57 L 377.06 515.57 L 383.94 515.57 L 390.83 515.57 L 397.72 515.57 L 404.61 515.57 " clip-path="url(#p60b15388ab)" style="fill: none; stroke: #9467bd; stroke-width: 1.5; stroke-linecap: square"/>
</g>
<g id="line2d_101">
<path d="M 67.08 597.88 L 73.97 597.87 L 80.85 597.87 L 87.74 597.87 L 94.63 597.87 L 101.52 597.86 L 108.41 597.85 L 115.30 597.85 L 122.18 597.84 L 129.07 597.83 L 135.96 597.81 L 142.85 597.79 L 149.74 597.77 L 156.63 597.73 L 163.52 597.69 L 170.40 597.64 L 177.29 597.58 L 184.18 597.50 L 191.07 597.40 L 197.96 597.27 L 204.85 597.10 L 211.73 596.88 L 218.62 596.61 L 225.51 596.25 L 232.40 595.79 L 239.29 595.19 L 246.18 594.41 L 253.06 593.37 L 259.95 592.01 L 266.84 590.20 L 273.73 587.69 L 280.62 584.19 L 287.51 579.42 L 294.40 573.06 L 301.28 564.13 L 308.17 552.46 L 315.06 539.11 L 321.95 521.79 L 328.84 515.57 L 335.73 515.57 L 342.61 515.57 L 349.50 515.57 L 356.39 515.57 L 363.28 515.57 L 370.17 515.57 L 377.06 515.57 L 383.94 515.57 L 390.83 515.57 L 397.72 515.57 L 404.61 515.57 " clip-path="url(#p60b15388ab)" style="fill: none; stroke: #8c564b; stroke-width: 1.5; stroke-linecap: square"/>
</g>
<g id="line2d_102">
<path d="M 67.08 606.62 L 73.97 606.62 L 80.85 606.62 L 87.74 606.62 L 94.63 606.61 L 101.52 606.61 L 108.41 606.61 L 115.30 606.60 L 122.18 606.59 L 129.07 606.59 L 135.96 606.58 L 142.85 606.56 L 149.74 606.55 L 156.63 606.52 L 163.52 606.50 L 170.40 606.46 L 177.29 606.42 L 184.18 606.37 L 191.07 606.30 L 197.96 606.21 L 204.85 606.10 L 211.73 605.96 L 218.62 605.78 L 225.51 605.56 L 232.40 605.27 L 239.29 604.91 L 246.18 604.45 L 253.06 603.86 L 259.95 603.10 L 266.84 602.14 L 273.73 600.86 L 280.62 599.17 L 287.51 597.11 L 294.40 594.83 L 301.28 592.29 L 308.17 589.34 L 315.06 585.58 L 321.95 579.96 L 328.84 570.90 L 335.73 543.15 L 342.61 515.57 L 349.50 515.57 L 356.39 515.57 L 363.28 515.57 L 370.17 515.57 L 377.06 515.57 L 383.94 515.57 L 390.83 515.57 L 397.72 515.57 L 404.61 515.57 " clip-path="url(#p60b15388ab)" style="fill: none; stroke: #e377c2; stroke-width: 1.5; stroke-linecap: square"/>
</g>
<g id="line2d_103">
<path d="M 326.17 683.12 L 326.17 382.32 " clip-path="url(#p60b15388ab)" style="fill: none; stroke-dasharray: 5.55,2.4; stroke-dashoffset: 0; stroke: #9a0000; stroke-width: 1.5"/>
</g>
<g id="patch_13">
<path d="M 50.20 683.12 L 50.20 382.32 " style="fill: none; stroke: #000000; stroke-width: 0.8; stroke-linejoin: miter; stroke-linecap: square"/>
</g>
<g id="patch_14">
<path d="M 421.49 683.12 L 421.49 382.32 " style="fill: none; stroke: #000000; stroke-width: 0.8; stroke-linejoin: miter; stroke-linecap: square"/>
</g>
<g id="patch_15">
<path d="M 50.20 683.12 L 421.49 683.12 " style="fill: none; stroke: #000000; stroke-width: 0.8; stroke-linejoin: miter; stroke-linecap: square"/>
</g>
<g id="patch_16">
<path d="M 50.20 382.32 L 421.49 382.32 " style="fill: none; stroke: #000000; stroke-width: 0.8; stroke-linejoin: miter; stroke-linecap: square"/>
</g>
<g id="text_48">
<text style="font-size: 12px; font-family: 'DejaVu Sans', sans-serif; text-anchor: middle" x="235.02" y="375.99" transform="rotate(-0 235.02 375.99)">LASSO for T2-W</text>
</g>
</g>
<g id="axes_4">
<g id="patch_17">
<path d="M 484.44 683.12 L 855.87 683.12 L 855.87 382.32 L 484.44 382.32 z
" style="fill: #ffffff"/>
</g>
<g id="matplotlib.axis_7">
<g id="xtick_19">
<g id="line2d_104">
<g>
<use href="#m1504cfccaf" x="501.32" y="683.12" style="stroke: #000000; stroke-width: 0.8"/>
</g>
</g>
<g id="text_49">
<text style="font-size: 10px; font-family: 'DejaVu Sans', sans-serif; text-anchor: middle" x="500.60" y="697.97" transform="rotate(-0 500.60 697.97)">−3</text>
</g>
</g>
<g id="xtick_20">
<g id="line2d_105">
<g>
<use href="#m1504cfccaf" x="568.85" y="683.12" style="stroke: #000000; stroke-width: 0.8"/>
</g>
</g>
<g id="text_50">
<text style="font-size: 10px; font-family: 'DejaVu Sans', sans-serif; text-anchor: middle" x="568.13" y="697.97" transform="rotate(-0 568.13 697.97)">−2</text>
</g>
</g>
<g id="xtick_21">
<g id="line2d_106">
<g>
<use href="#m1504cfccaf" x="636.39" y="683.12" style="stroke: #000000; stroke-width: 0.8"/>
</g>
</g>
<g id="text_51">
<text style="font-size: 10px; font-family: 'DejaVu Sans', sans-serif; text-anchor: middle" x="635.66" y="697.97" transform="rotate(-0 635.66 697.97)">−1</text>
</g>
</g>
<g id="xtick_22">
<g id="line2d_107">
<g>
<use href="#m1504cfccaf" x="703.92" y="683.12" style="stroke: #000000; stroke-width: 0.8"/>
</g>
</g>
<g id="text_52">
<text style="font-size: 10px; font-family: 'DejaVu Sans', sans-serif; text-anchor: middle" x="703.20" y="697.97" transform="rotate(-0 703.20 697.97)">0</text>
</g>
</g>
<g id="xtick_23">
<g id="line2d_108">
<g>
<use href="#m1504cfccaf" x="771.45" y="683.12" style="stroke: #000000; stroke-width: 0.8"/>
</g>
</g>
<g id="text_53">
<text style="font-size: 10px; font-family: 'DejaVu Sans', sans-serif; text-anchor: middle" x="770.73" y="697.97" transform="rotate(-0 770.73 697.97)">1</text>
</g>
</g>
<g id="xtick_24">
<g id="line2d_109">
<g>
<use href="#m1504cfccaf" x="838.99" y="683.12" style="stroke: #000000; stroke-width: 0.8"/>
</g>
</g>
<g id="text_54">
<text style="font-size: 10px; font-family: 'DejaVu Sans', sans-serif; text-anchor: middle" x="838.26" y="697.97" transform="rotate(-0 838.26 697.97)">2</text>
</g>
</g>
<g id="text_55">
<text style="font-size: 10px; font-family: 'DejaVu Sans', sans-serif; text-anchor: middle" x="669.33" y="712.13" transform="rotate(-0 669.33 712.13)">log(Alpha)</text>
</g>
</g>
<g id="matplotlib.axis_8">
<g id="ytick_22">
<g id="line2d_110">
<g>
<use href="#m5d545ce8f8" x="484.44" y="677.57" style="stroke: #000000; stroke-width: 0.8"/>
</g>
</g>
<g id="text_56">
<text style="font-size: 10px; font-family: 'DejaVu Sans', sans-serif; text-anchor: end" x="476.71" y="681.61" transform="rotate(-0 476.71 681.61)">−10.0</text>
</g>
</g>
<g id="ytick_23">
<g id="line2d_111">
<g>
<use href="#m5d545ce8f8" x="484.44" y="636.12" style="stroke: #000000; stroke-width: 0.8"/>
</g>
</g>
<g id="text_57">
<text style="font-size: 10px; font-family: 'DejaVu Sans', sans-serif; text-anchor: end" x="476.71" y="640.17" transform="rotate(-0 476.71 640.17)">−7.5</text>
</g>
</g>
<g id="ytick_24">
<g id="line2d_112">
<g>
<use href="#m5d545ce8f8" x="484.44" y="594.67" style="stroke: #000000; stroke-width: 0.8"/>
</g>
</g>
<g id="text_58">
<text style="font-size: 10px; font-family: 'DejaVu Sans', sans-serif; text-anchor: end" x="476.71" y="598.72" transform="rotate(-0 476.71 598.72)">−5.0</text>
</g>
</g>
<g id="ytick_25">
<g id="line2d_113">
<g>
<use href="#m5d545ce8f8" x="484.44" y="553.22" style="stroke: #000000; stroke-width: 0.8"/>
</g>
</g>
<g id="text_59">
<text style="font-size: 10px; font-family: 'DejaVu Sans', sans-serif; text-anchor: end" x="476.71" y="557.27" transform="rotate(-0 476.71 557.27)">−2.5</text>
</g>
</g>
<g id="ytick_26">
<g id="line2d_114">
<g>
<use href="#m5d545ce8f8" x="484.44" y="511.77" style="stroke: #000000; stroke-width: 0.8"/>
</g>
</g>
<g id="text_60">
<text style="font-size: 10px; font-family: 'DejaVu Sans', sans-serif; text-anchor: end" x="476.71" y="515.82" transform="rotate(-0 476.71 515.82)">0.0</text>
</g>
</g>
<g id="ytick_27">
<g id="line2d_115">
<g>
<use href="#m5d545ce8f8" x="484.44" y="470.33" style="stroke: #000000; stroke-width: 0.8"/>
</g>
</g>
<g id="text_61">
<text style="font-size: 10px; font-family: 'DejaVu Sans', sans-serif; text-anchor: end" x="476.71" y="474.37" transform="rotate(-0 476.71 474.37)">2.5</text>
</g>
</g>
<g id="ytick_28">
<g id="line2d_116">
<g>
<use href="#m5d545ce8f8" x="484.44" y="428.88" style="stroke: #000000; stroke-width: 0.8"/>
</g>
</g>
<g id="text_62">
<text style="font-size: 10px; font-family: 'DejaVu Sans', sans-serif; text-anchor: end" x="476.71" y="432.93" transform="rotate(-0 476.71 432.93)">5.0</text>
</g>
</g>
<g id="ytick_29">
<g id="line2d_117">
<g>
<use href="#m5d545ce8f8" x="484.44" y="387.43" style="stroke: #000000; stroke-width: 0.8"/>
</g>
</g>
<g id="text_63">
<text style="font-size: 10px; font-family: 'DejaVu Sans', sans-serif; text-anchor: end" x="476.71" y="391.48" transform="rotate(-0 476.71 391.48)">7.5</text>
</g>
</g>
<g id="text_64">
<text style="font-size: 10px; font-family: 'DejaVu Sans', sans-serif; text-anchor: middle" x="439.75" y="532.73" transform="rotate(-90 439.75 532.73)">Mean ± SD of Coefficients</text>
</g>
</g>
<g id="LineCollection_2">
<path d="M 501.32 669.28 L 501.32 396.05 " clip-path="url(#p90f5f94eee)" style="fill: none; stroke: #185e9a"/>
<path d="M 508.21 669.28 L 508.21 396.05 " clip-path="url(#p90f5f94eee)" style="fill: none; stroke: #185e9a"/>
<path d="M 515.10 669.28 L 515.10 396.05 " clip-path="url(#p90f5f94eee)" style="fill: none; stroke: #185e9a"/>
<path d="M 521.99 669.28 L 521.99 396.05 " clip-path="url(#p90f5f94eee)" style="fill: none; stroke: #185e9a"/>
<path d="M 528.89 669.28 L 528.89 396.05 " clip-path="url(#p90f5f94eee)" style="fill: none; stroke: #185e9a"/>
<path d="M 535.78 669.28 L 535.78 396.05 " clip-path="url(#p90f5f94eee)" style="fill: none; stroke: #185e9a"/>
<path d="M 542.67 669.28 L 542.67 396.05 " clip-path="url(#p90f5f94eee)" style="fill: none; stroke: #185e9a"/>
<path d="M 549.56 669.28 L 549.56 396.05 " clip-path="url(#p90f5f94eee)" style="fill: none; stroke: #185e9a"/>
<path d="M 556.45 669.28 L 556.45 396.05 " clip-path="url(#p90f5f94eee)" style="fill: none; stroke: #185e9a"/>
<path d="M 563.34 669.28 L 563.34 396.05 " clip-path="url(#p90f5f94eee)" style="fill: none; stroke: #185e9a"/>
<path d="M 570.23 669.11 L 570.23 396.22 " clip-path="url(#p90f5f94eee)" style="fill: none; stroke: #185e9a"/>
<path d="M 577.12 669.11 L 577.12 396.22 " clip-path="url(#p90f5f94eee)" style="fill: none; stroke: #185e9a"/>
<path d="M 584.02 669.11 L 584.02 396.22 " clip-path="url(#p90f5f94eee)" style="fill: none; stroke: #185e9a"/>
<path d="M 590.91 669.11 L 590.91 396.22 " clip-path="url(#p90f5f94eee)" style="fill: none; stroke: #185e9a"/>
<path d="M 597.80 669.11 L 597.80 396.22 " clip-path="url(#p90f5f94eee)" style="fill: none; stroke: #185e9a"/>
<path d="M 604.69 669.11 L 604.69 396.22 " clip-path="url(#p90f5f94eee)" style="fill: none; stroke: #185e9a"/>
<path d="M 611.58 668.28 L 611.58 396.55 " clip-path="url(#p90f5f94eee)" style="fill: none; stroke: #185e9a"/>
<path d="M 618.47 668.28 L 618.47 396.55 " clip-path="url(#p90f5f94eee)" style="fill: none; stroke: #185e9a"/>
<path d="M 625.36 668.28 L 625.36 396.55 " clip-path="url(#p90f5f94eee)" style="fill: none; stroke: #185e9a"/>
<path d="M 632.25 668.28 L 632.25 396.55 " clip-path="url(#p90f5f94eee)" style="fill: none; stroke: #185e9a"/>
<path d="M 639.14 667.12 L 639.14 397.71 " clip-path="url(#p90f5f94eee)" style="fill: none; stroke: #185e9a"/>
<path d="M 646.04 666.95 L 646.04 397.88 " clip-path="url(#p90f5f94eee)" style="fill: none; stroke: #185e9a"/>
<path d="M 652.93 666.29 L 652.93 398.54 " clip-path="url(#p90f5f94eee)" style="fill: none; stroke: #185e9a"/>
<path d="M 659.82 665.46 L 659.82 399.37 " clip-path="url(#p90f5f94eee)" style="fill: none; stroke: #185e9a"/>
<path d="M 666.71 664.63 L 666.71 400.20 " clip-path="url(#p90f5f94eee)" style="fill: none; stroke: #185e9a"/>
<path d="M 673.60 663.80 L 673.60 401.03 " clip-path="url(#p90f5f94eee)" style="fill: none; stroke: #185e9a"/>
<path d="M 680.49 660.82 L 680.49 401.85 " clip-path="url(#p90f5f94eee)" style="fill: none; stroke: #185e9a"/>
<path d="M 687.38 659.99 L 687.38 402.68 " clip-path="url(#p90f5f94eee)" style="fill: none; stroke: #185e9a"/>
<path d="M 694.27 658.50 L 694.27 404.18 " clip-path="url(#p90f5f94eee)" style="fill: none; stroke: #185e9a"/>
<path d="M 701.16 656.18 L 701.16 405.50 " clip-path="url(#p90f5f94eee)" style="fill: none; stroke: #185e9a"/>
<path d="M 708.06 652.03 L 708.06 408.32 " clip-path="url(#p90f5f94eee)" style="fill: none; stroke: #185e9a"/>
<path d="M 714.95 647.89 L 714.95 411.47 " clip-path="url(#p90f5f94eee)" style="fill: none; stroke: #185e9a"/>
<path d="M 721.84 642.75 L 721.84 415.62 " clip-path="url(#p90f5f94eee)" style="fill: none; stroke: #185e9a"/>
<path d="M 728.73 637.28 L 728.73 420.09 " clip-path="url(#p90f5f94eee)" style="fill: none; stroke: #185e9a"/>
<path d="M 735.62 629.32 L 735.62 426.72 " clip-path="url(#p90f5f94eee)" style="fill: none; stroke: #185e9a"/>
<path d="M 742.51 619.21 L 742.51 433.85 " clip-path="url(#p90f5f94eee)" style="fill: none; stroke: #185e9a"/>
<path d="M 749.40 606.44 L 749.40 443.30 " clip-path="url(#p90f5f94eee)" style="fill: none; stroke: #185e9a"/>
<path d="M 756.29 591.52 L 756.29 454.24 " clip-path="url(#p90f5f94eee)" style="fill: none; stroke: #185e9a"/>
<path d="M 763.18 575.44 L 763.18 466.35 " clip-path="url(#p90f5f94eee)" style="fill: none; stroke: #185e9a"/>
<path d="M 770.08 555.21 L 770.08 481.60 " clip-path="url(#p90f5f94eee)" style="fill: none; stroke: #185e9a"/>
<path d="M 776.97 534.32 L 776.97 495.20 " clip-path="url(#p90f5f94eee)" style="fill: none; stroke: #185e9a"/>
<path d="M 783.86 520.06 L 783.86 506.30 " clip-path="url(#p90f5f94eee)" style="fill: none; stroke: #185e9a"/>
<path d="M 790.75 511.77 L 790.75 511.77 " clip-path="url(#p90f5f94eee)" style="fill: none; stroke: #185e9a"/>
<path d="M 797.64 511.77 L 797.64 511.77 " clip-path="url(#p90f5f94eee)" style="fill: none; stroke: #185e9a"/>
<path d="M 804.53 511.77 L 804.53 511.77 " clip-path="url(#p90f5f94eee)" style="fill: none; stroke: #185e9a"/>
<path d="M 811.42 511.77 L 811.42 511.77 " clip-path="url(#p90f5f94eee)" style="fill: none; stroke: #185e9a"/>
<path d="M 818.31 511.77 L 818.31 511.77 " clip-path="url(#p90f5f94eee)" style="fill: none; stroke: #185e9a"/>
<path d="M 825.21 511.77 L 825.21 511.77 " clip-path="url(#p90f5f94eee)" style="fill: none; stroke: #185e9a"/>
<path d="M 832.10 511.77 L 832.10 511.77 " clip-path="url(#p90f5f94eee)" style="fill: none; stroke: #185e9a"/>
<path d="M 838.99 511.77 L 838.99 511.77 " clip-path="url(#p90f5f94eee)" style="fill: none; stroke: #185e9a"/>
</g>
<g id="line2d_118">
<g clip-path="url(#p90f5f94eee)">
<use href="#mccd423851a" x="501.32" y="669.28" style="fill: #1f77b4; stroke: #185e9a"/>
<use href="#mccd423851a" x="508.21" y="669.28" style="fill: #1f77b4; stroke: #185e9a"/>
<use href="#mccd423851a" x="515.10" y="669.28" style="fill: #1f77b4; stroke: #185e9a"/>
<use href="#mccd423851a" x="521.99" y="669.28" style="fill: #1f77b4; stroke: #185e9a"/>
<use href="#mccd423851a" x="528.89" y="669.28" style="fill: #1f77b4; stroke: #185e9a"/>
<use href="#mccd423851a" x="535.78" y="669.28" style="fill: #1f77b4; stroke: #185e9a"/>
<use href="#mccd423851a" x="542.67" y="669.28" style="fill: #1f77b4; stroke: #185e9a"/>
<use href="#mccd423851a" x="549.56" y="669.28" style="fill: #1f77b4; stroke: #185e9a"/>
<use href="#mccd423851a" x="556.45" y="669.28" style="fill: #1f77b4; stroke: #185e9a"/>
<use href="#mccd423851a" x="563.34" y="669.28" style="fill: #1f77b4; stroke: #185e9a"/>
<use href="#mccd423851a" x="570.23" y="669.11" style="fill: #1f77b4; stroke: #185e9a"/>
<use href="#mccd423851a" x="577.12" y="669.11" style="fill: #1f77b4; stroke: #185e9a"/>
<use href="#mccd423851a" x="584.02" y="669.11" style="fill: #1f77b4; stroke: #185e9a"/>
<use href="#mccd423851a" x="590.91" y="669.11" style="fill: #1f77b4; stroke: #185e9a"/>
<use href="#mccd423851a" x="597.80" y="669.11" style="fill: #1f77b4; stroke: #185e9a"/>
<use href="#mccd423851a" x="604.69" y="669.11" style="fill: #1f77b4; stroke: #185e9a"/>
<use href="#mccd423851a" x="611.58" y="668.28" style="fill: #1f77b4; stroke: #185e9a"/>
<use href="#mccd423851a" x="618.47" y="668.28" style="fill: #1f77b4; stroke: #185e9a"/>
<use href="#mccd423851a" x="625.36" y="668.28" style="fill: #1f77b4; stroke: #185e9a"/>
<use href="#mccd423851a" x="632.25" y="668.28" style="fill: #1f77b4; stroke: #185e9a"/>
<use href="#mccd423851a" x="639.14" y="667.12" style="fill: #1f77b4; stroke: #185e9a"/>
<use href="#mccd423851a" x="646.04" y="666.95" style="fill: #1f77b4; stroke: #185e9a"/>
<use href="#mccd423851a" x="652.93" y="666.29" style="fill: #1f77b4; stroke: #185e9a"/>
<use href="#mccd423851a" x="659.82" y="665.46" style="fill: #1f77b4; stroke: #185e9a"/>
<use href="#mccd423851a" x="666.71" y="664.63" style="fill: #1f77b4; stroke: #185e9a"/>
<use href="#mccd423851a" x="673.60" y="663.80" style="fill: #1f77b4; stroke: #185e9a"/>
<use href="#mccd423851a" x="680.49" y="660.82" style="fill: #1f77b4; stroke: #185e9a"/>
<use href="#mccd423851a" x="687.38" y="659.99" style="fill: #1f77b4; stroke: #185e9a"/>
<use href="#mccd423851a" x="694.27" y="658.50" style="fill: #1f77b4; stroke: #185e9a"/>
<use href="#mccd423851a" x="701.16" y="656.18" style="fill: #1f77b4; stroke: #185e9a"/>
<use href="#mccd423851a" x="708.06" y="652.03" style="fill: #1f77b4; stroke: #185e9a"/>
<use href="#mccd423851a" x="714.95" y="647.89" style="fill: #1f77b4; stroke: #185e9a"/>
<use href="#mccd423851a" x="721.84" y="642.75" style="fill: #1f77b4; stroke: #185e9a"/>
<use href="#mccd423851a" x="728.73" y="637.28" style="fill: #1f77b4; stroke: #185e9a"/>
<use href="#mccd423851a" x="735.62" y="629.32" style="fill: #1f77b4; stroke: #185e9a"/>
<use href="#mccd423851a" x="742.51" y="619.21" style="fill: #1f77b4; stroke: #185e9a"/>
<use href="#mccd423851a" x="749.40" y="606.44" style="fill: #1f77b4; stroke: #185e9a"/>
<use href="#mccd423851a" x="756.29" y="591.52" style="fill: #1f77b4; stroke: #185e9a"/>
<use href="#mccd423851a" x="763.18" y="575.44" style="fill: #1f77b4; stroke: #185e9a"/>
<use href="#mccd423851a" x="770.08" y="555.21" style="fill: #1f77b4; stroke: #185e9a"/>
<use href="#mccd423851a" x="776.97" y="534.32" style="fill: #1f77b4; stroke: #185e9a"/>
<use href="#mccd423851a" x="783.86" y="520.06" style="fill: #1f77b4; stroke: #185e9a"/>
<use href="#mccd423851a" x="790.75" y="511.77" style="fill: #1f77b4; stroke: #185e9a"/>
<use href="#mccd423851a" x="797.64" y="511.77" style="fill: #1f77b4; stroke: #185e9a"/>
<use href="#mccd423851a" x="804.53" y="511.77" style="fill: #1f77b4; stroke: #185e9a"/>
<use href="#mccd423851a" x="811.42" y="511.77" style="fill: #1f77b4; stroke: #185e9a"/>
<use href="#mccd423851a" x="818.31" y="511.77" style="fill: #1f77b4; stroke: #185e9a"/>
<use href="#mccd423851a" x="825.21" y="511.77" style="fill: #1f77b4; stroke: #185e9a"/>
<use href="#mccd423851a" x="832.10" y="511.77" style="fill: #1f77b4; stroke: #185e9a"/>
<use href="#mccd423851a" x="838.99" y="511.77" style="fill: #1f77b4; stroke: #185e9a"/>
</g>
</g>
<g id="line2d_119">
<g clip-path="url(#p90f5f94eee)">
<use href="#mccd423851a" x="501.32" y="396.05" style="fill: #1f77b4; stroke: #185e9a"/>
<use href="#mccd423851a" x="508.21" y="396.05" style="fill: #1f77b4; stroke: #185e9a"/>
<use href="#mccd423851a" x="515.10" y="396.05" style="fill: #1f77b4; stroke: #185e9a"/>
<use href="#mccd423851a" x="521.99" y="396.05" style="fill: #1f77b4; stroke: #185e9a"/>
<use href="#mccd423851a" x="528.89" y="396.05" style="fill: #1f77b4; stroke: #185e9a"/>
<use href="#mccd423851a" x="535.78" y="396.05" style="fill: #1f77b4; stroke: #185e9a"/>
<use href="#mccd423851a" x="542.67" y="396.05" style="fill: #1f77b4; stroke: #185e9a"/>
<use href="#mccd423851a" x="549.56" y="396.05" style="fill: #1f77b4; stroke: #185e9a"/>
<use href="#mccd423851a" x="556.45" y="396.05" style="fill: #1f77b4; stroke: #185e9a"/>
<use href="#mccd423851a" x="563.34" y="396.05" style="fill: #1f77b4; stroke: #185e9a"/>
<use href="#mccd423851a" x="570.23" y="396.22" style="fill: #1f77b4; stroke: #185e9a"/>
<use href="#mccd423851a" x="577.12" y="396.22" style="fill: #1f77b4; stroke: #185e9a"/>
<use href="#mccd423851a" x="584.02" y="396.22" style="fill: #1f77b4; stroke: #185e9a"/>
<use href="#mccd423851a" x="590.91" y="396.22" style="fill: #1f77b4; stroke: #185e9a"/>
<use href="#mccd423851a" x="597.80" y="396.22" style="fill: #1f77b4; stroke: #185e9a"/>
<use href="#mccd423851a" x="604.69" y="396.22" style="fill: #1f77b4; stroke: #185e9a"/>
<use href="#mccd423851a" x="611.58" y="396.55" style="fill: #1f77b4; stroke: #185e9a"/>
<use href="#mccd423851a" x="618.47" y="396.55" style="fill: #1f77b4; stroke: #185e9a"/>
<use href="#mccd423851a" x="625.36" y="396.55" style="fill: #1f77b4; stroke: #185e9a"/>
<use href="#mccd423851a" x="632.25" y="396.55" style="fill: #1f77b4; stroke: #185e9a"/>
<use href="#mccd423851a" x="639.14" y="397.71" style="fill: #1f77b4; stroke: #185e9a"/>
<use href="#mccd423851a" x="646.04" y="397.88" style="fill: #1f77b4; stroke: #185e9a"/>
<use href="#mccd423851a" x="652.93" y="398.54" style="fill: #1f77b4; stroke: #185e9a"/>
<use href="#mccd423851a" x="659.82" y="399.37" style="fill: #1f77b4; stroke: #185e9a"/>
<use href="#mccd423851a" x="666.71" y="400.20" style="fill: #1f77b4; stroke: #185e9a"/>
<use href="#mccd423851a" x="673.60" y="401.03" style="fill: #1f77b4; stroke: #185e9a"/>
<use href="#mccd423851a" x="680.49" y="401.85" style="fill: #1f77b4; stroke: #185e9a"/>
<use href="#mccd423851a" x="687.38" y="402.68" style="fill: #1f77b4; stroke: #185e9a"/>
<use href="#mccd423851a" x="694.27" y="404.18" style="fill: #1f77b4; stroke: #185e9a"/>
<use href="#mccd423851a" x="701.16" y="405.50" style="fill: #1f77b4; stroke: #185e9a"/>
<use href="#mccd423851a" x="708.06" y="408.32" style="fill: #1f77b4; stroke: #185e9a"/>
<use href="#mccd423851a" x="714.95" y="411.47" style="fill: #1f77b4; stroke: #185e9a"/>
<use href="#mccd423851a" x="721.84" y="415.62" style="fill: #1f77b4; stroke: #185e9a"/>
<use href="#mccd423851a" x="728.73" y="420.09" style="fill: #1f77b4; stroke: #185e9a"/>
<use href="#mccd423851a" x="735.62" y="426.72" style="fill: #1f77b4; stroke: #185e9a"/>
<use href="#mccd423851a" x="742.51" y="433.85" style="fill: #1f77b4; stroke: #185e9a"/>
<use href="#mccd423851a" x="749.40" y="443.30" style="fill: #1f77b4; stroke: #185e9a"/>
<use href="#mccd423851a" x="756.29" y="454.24" style="fill: #1f77b4; stroke: #185e9a"/>
<use href="#mccd423851a" x="763.18" y="466.35" style="fill: #1f77b4; stroke: #185e9a"/>
<use href="#mccd423851a" x="770.08" y="481.60" style="fill: #1f77b4; stroke: #185e9a"/>
<use href="#mccd423851a" x="776.97" y="495.20" style="fill: #1f77b4; stroke: #185e9a"/>
<use href="#mccd423851a" x="783.86" y="506.30" style="fill: #1f77b4; stroke: #185e9a"/>
<use href="#mccd423851a" x="790.75" y="511.77" style="fill: #1f77b4; stroke: #185e9a"/>
<use href="#mccd423851a" x="797.64" y="511.77" style="fill: #1f77b4; stroke: #185e9a"/>
<use href="#mccd423851a" x="804.53" y="511.77" style="fill: #1f77b4; stroke: #185e9a"/>
<use href="#mccd423851a" x="811.42" y="511.77" style="fill: #1f77b4; stroke: #185e9a"/>
<use href="#mccd423851a" x="818.31" y="511.77" style="fill: #1f77b4; stroke: #185e9a"/>
<use href="#mccd423851a" x="825.21" y="511.77" style="fill: #1f77b4; stroke: #185e9a"/>
<use href="#mccd423851a" x="832.10" y="511.77" style="fill: #1f77b4; stroke: #185e9a"/>
<use href="#mccd423851a" x="838.99" y="511.77" style="fill: #1f77b4; stroke: #185e9a"/>
</g>
</g>
<g id="line2d_120">
<path d="M 760.51 683.12 L 760.51 382.32 " clip-path="url(#p90f5f94eee)" style="fill: none; stroke-dasharray: 5.55,2.4; stroke-dashoffset: 0; stroke: #ff0000; stroke-width: 1.5"/>
</g>
<g id="line2d_121">
<path d="M 501.32 532.66 L 508.21 532.66 L 515.10 532.66 L 521.99 532.66 L 528.89 532.66 L 535.78 532.66 L 542.67 532.66 L 549.56 532.66 L 556.45 532.66 L 563.34 532.66 L 570.23 532.66 L 577.12 532.66 L 584.02 532.66 L 590.91 532.66 L 597.80 532.66 L 604.69 532.66 L 611.58 532.42 L 618.47 532.42 L 625.36 532.42 L 632.25 532.42 L 639.14 532.42 L 646.04 532.42 L 652.93 532.42 L 659.82 532.42 L 666.71 532.42 L 673.60 532.42 L 680.49 531.34 L 687.38 531.34 L 694.27 531.34 L 701.16 530.84 L 708.06 530.18 L 714.95 529.68 L 721.84 529.18 L 728.73 528.69 L 735.62 528.02 L 742.51 526.53 L 749.40 524.87 L 756.29 522.88 L 763.18 520.89 L 770.08 518.41 L 776.97 514.76 L 783.86 513.18 L 790.75 511.77 L 797.64 511.77 L 804.53 511.77 L 811.42 511.77 L 818.31 511.77 L 825.21 511.77 L 832.10 511.77 L 838.99 511.77 " clip-path="url(#p90f5f94eee)" style="fill: none; stroke: #1f77b4; stroke-width: 1.5; stroke-linecap: square"/>
<g clip-path="url(#p90f5f94eee)">
<use href="#mf14c53ed57" x="501.32" y="532.66" style="fill: #1f77b4; stroke: #1f77b4"/>
<use href="#mf14c53ed57" x="508.21" y="532.66" style="fill: #1f77b4; stroke: #1f77b4"/>
<use href="#mf14c53ed57" x="515.10" y="532.66" style="fill: #1f77b4; stroke: #1f77b4"/>
<use href="#mf14c53ed57" x="521.99" y="532.66" style="fill: #1f77b4; stroke: #1f77b4"/>
<use href="#mf14c53ed57" x="528.89" y="532.66" style="fill: #1f77b4; stroke: #1f77b4"/>
<use href="#mf14c53ed57" x="535.78" y="532.66" style="fill: #1f77b4; stroke: #1f77b4"/>
<use href="#mf14c53ed57" x="542.67" y="532.66" style="fill: #1f77b4; stroke: #1f77b4"/>
<use href="#mf14c53ed57" x="549.56" y="532.66" style="fill: #1f77b4; stroke: #1f77b4"/>
<use href="#mf14c53ed57" x="556.45" y="532.66" style="fill: #1f77b4; stroke: #1f77b4"/>
<use href="#mf14c53ed57" x="563.34" y="532.66" style="fill: #1f77b4; stroke: #1f77b4"/>
<use href="#mf14c53ed57" x="570.23" y="532.66" style="fill: #1f77b4; stroke: #1f77b4"/>
<use href="#mf14c53ed57" x="577.12" y="532.66" style="fill: #1f77b4; stroke: #1f77b4"/>
<use href="#mf14c53ed57" x="584.02" y="532.66" style="fill: #1f77b4; stroke: #1f77b4"/>
<use href="#mf14c53ed57" x="590.91" y="532.66" style="fill: #1f77b4; stroke: #1f77b4"/>
<use href="#mf14c53ed57" x="597.80" y="532.66" style="fill: #1f77b4; stroke: #1f77b4"/>
<use href="#mf14c53ed57" x="604.69" y="532.66" style="fill: #1f77b4; stroke: #1f77b4"/>
<use href="#mf14c53ed57" x="611.58" y="532.42" style="fill: #1f77b4; stroke: #1f77b4"/>
<use href="#mf14c53ed57" x="618.47" y="532.42" style="fill: #1f77b4; stroke: #1f77b4"/>
<use href="#mf14c53ed57" x="625.36" y="532.42" style="fill: #1f77b4; stroke: #1f77b4"/>
<use href="#mf14c53ed57" x="632.25" y="532.42" style="fill: #1f77b4; stroke: #1f77b4"/>
<use href="#mf14c53ed57" x="639.14" y="532.42" style="fill: #1f77b4; stroke: #1f77b4"/>
<use href="#mf14c53ed57" x="646.04" y="532.42" style="fill: #1f77b4; stroke: #1f77b4"/>
<use href="#mf14c53ed57" x="652.93" y="532.42" style="fill: #1f77b4; stroke: #1f77b4"/>
<use href="#mf14c53ed57" x="659.82" y="532.42" style="fill: #1f77b4; stroke: #1f77b4"/>
<use href="#mf14c53ed57" x="666.71" y="532.42" style="fill: #1f77b4; stroke: #1f77b4"/>
<use href="#mf14c53ed57" x="673.60" y="532.42" style="fill: #1f77b4; stroke: #1f77b4"/>
<use href="#mf14c53ed57" x="680.49" y="531.34" style="fill: #1f77b4; stroke: #1f77b4"/>
<use href="#mf14c53ed57" x="687.38" y="531.34" style="fill: #1f77b4; stroke: #1f77b4"/>
<use href="#mf14c53ed57" x="694.27" y="531.34" style="fill: #1f77b4; stroke: #1f77b4"/>
<use href="#mf14c53ed57" x="701.16" y="530.84" style="fill: #1f77b4; stroke: #1f77b4"/>
<use href="#mf14c53ed57" x="708.06" y="530.18" style="fill: #1f77b4; stroke: #1f77b4"/>
<use href="#mf14c53ed57" x="714.95" y="529.68" style="fill: #1f77b4; stroke: #1f77b4"/>
<use href="#mf14c53ed57" x="721.84" y="529.18" style="fill: #1f77b4; stroke: #1f77b4"/>
<use href="#mf14c53ed57" x="728.73" y="528.69" style="fill: #1f77b4; stroke: #1f77b4"/>
<use href="#mf14c53ed57" x="735.62" y="528.02" style="fill: #1f77b4; stroke: #1f77b4"/>
<use href="#mf14c53ed57" x="742.51" y="526.53" style="fill: #1f77b4; stroke: #1f77b4"/>
<use href="#mf14c53ed57" x="749.40" y="524.87" style="fill: #1f77b4; stroke: #1f77b4"/>
<use href="#mf14c53ed57" x="756.29" y="522.88" style="fill: #1f77b4; stroke: #1f77b4"/>
<use href="#mf14c53ed57" x="763.18" y="520.89" style="fill: #1f77b4; stroke: #1f77b4"/>
<use href="#mf14c53ed57" x="770.08" y="518.41" style="fill: #1f77b4; stroke: #1f77b4"/>
<use href="#mf14c53ed57" x="776.97" y="514.76" style="fill: #1f77b4; stroke: #1f77b4"/>
<use href="#mf14c53ed57" x="783.86" y="513.18" style="fill: #1f77b4; stroke: #1f77b4"/>
<use href="#mf14c53ed57" x="790.75" y="511.77" style="fill: #1f77b4; stroke: #1f77b4"/>
<use href="#mf14c53ed57" x="797.64" y="511.77" style="fill: #1f77b4; stroke: #1f77b4"/>
<use href="#mf14c53ed57" x="804.53" y="511.77" style="fill: #1f77b4; stroke: #1f77b4"/>
<use href="#mf14c53ed57" x="811.42" y="511.77" style="fill: #1f77b4; stroke: #1f77b4"/>
<use href="#mf14c53ed57" x="818.31" y="511.77" style="fill: #1f77b4; stroke: #1f77b4"/>
<use href="#mf14c53ed57" x="825.21" y="511.77" style="fill: #1f77b4; stroke: #1f77b4"/>
<use href="#mf14c53ed57" x="832.10" y="511.77" style="fill: #1f77b4; stroke: #1f77b4"/>
<use href="#mf14c53ed57" x="838.99" y="511.77" style="fill: #1f77b4; stroke: #1f77b4"/>
</g>
</g>
<g id="patch_18">
<path d="M 484.44 683.12 L 484.44 382.32 " style="fill: none; stroke: #000000; stroke-width: 0.8; stroke-linejoin: miter; stroke-linecap: square"/>
</g>
<g id="patch_19">
<path d="M 855.87 683.12 L 855.87 382.32 " style="fill: none; stroke: #000000; stroke-width: 0.8; stroke-linejoin: miter; stroke-linecap: square"/>
</g>
<g id="patch_20">
<path d="M 484.44 683.12 L 855.87 683.12 " style="fill: none; stroke: #000000; stroke-width: 0.8; stroke-linejoin: miter; stroke-linecap: square"/>
</g>
<g id="patch_21">
<path d="M 484.44 382.32 L 855.87 382.32 " style="fill: none; stroke: #000000; stroke-width: 0.8; stroke-linejoin: miter; stroke-linecap: square"/>
</g>
<g id="text_65">
<text style="font-size: 12px; font-family: 'DejaVu Sans', sans-serif; text-anchor: middle" x="669.33" y="375.99" transform="rotate(-0 669.33 375.99)">Coefficient Stability for T2-W</text>
</g>
</g>
<g id="axes_5">
<g id="patch_22">
<path d="M 50.20 1041.81 L 421.49 1041.81 L 421.49 741.06 L 50.20 741.06 z
" style="fill: #ffffff"/>
</g>
<g id="matplotlib.axis_9">
<g id="xtick_25">
<g id="line2d_122">
<g>
<use href="#m1504cfccaf" x="67.08" y="1041.81" style="stroke: #000000; stroke-width: 0.8"/>
</g>
</g>
<g id="text_66">
<text style="font-size: 10px; font-family: 'DejaVu Sans', sans-serif; text-anchor: middle" x="66.35" y="1056.65" transform="rotate(-0 66.35 1056.65)">−3</text>
</g>
</g>
<g id="xtick_26">
<g id="line2d_123">
<g>
<use href="#m1504cfccaf" x="134.58" y="1041.81" style="stroke: #000000; stroke-width: 0.8"/>
</g>
</g>
<g id="text_67">
<text style="font-size: 10px; font-family: 'DejaVu Sans', sans-serif; text-anchor: middle" x="133.86" y="1056.65" transform="rotate(-0 133.86 1056.65)">−2</text>
</g>
</g>
<g id="xtick_27">
<g id="line2d_124">
<g>
<use href="#m1504cfccaf" x="202.09" y="1041.81" style="stroke: #000000; stroke-width: 0.8"/>
</g>
</g>
<g id="text_68">
<text style="font-size: 10px; font-family: 'DejaVu Sans', sans-serif; text-anchor: middle" x="201.37" y="1056.65" transform="rotate(-0 201.37 1056.65)">−1</text>
</g>
</g>
<g id="xtick_28">
<g id="line2d_125">
<g>
<use href="#m1504cfccaf" x="269.60" y="1041.81" style="stroke: #000000; stroke-width: 0.8"/>
</g>
</g>
<g id="text_69">
<text style="font-size: 10px; font-family: 'DejaVu Sans', sans-serif; text-anchor: middle" x="268.87" y="1056.65" transform="rotate(-0 268.87 1056.65)">0</text>
</g>
</g>
<g id="xtick_29">
<g id="line2d_126">
<g>
<use href="#m1504cfccaf" x="337.10" y="1041.81" style="stroke: #000000; stroke-width: 0.8"/>
</g>
</g>
<g id="text_70">
<text style="font-size: 10px; font-family: 'DejaVu Sans', sans-serif; text-anchor: middle" x="336.38" y="1056.65" transform="rotate(-0 336.38 1056.65)">1</text>
</g>
</g>
<g id="xtick_30">
<g id="line2d_127">
<g>
<use href="#m1504cfccaf" x="404.61" y="1041.81" style="stroke: #000000; stroke-width: 0.8"/>
</g>
</g>
<g id="text_71">
<text style="font-size: 10px; font-family: 'DejaVu Sans', sans-serif; text-anchor: middle" x="403.89" y="1056.65" transform="rotate(-0 403.89 1056.65)">2</text>
</g>
</g>
<g id="text_72">
<text style="font-size: 10px; font-family: 'DejaVu Sans', sans-serif; text-anchor: middle" x="235.02" y="1070.82" transform="rotate(-0 235.02 1070.82)">log(Alpha)</text>
</g>
</g>
<g id="matplotlib.axis_10">
<g id="ytick_30">
<g id="line2d_128">
<g>
<use href="#m5d545ce8f8" x="50.20" y="1034.95" style="stroke: #000000; stroke-width: 0.8"/>
</g>
</g>
<g id="text_73">
<text style="font-size: 10px; font-family: 'DejaVu Sans', sans-serif; text-anchor: end" x="42.48" y="1038.99" transform="rotate(-0 42.48 1038.99)">−15</text>
</g>
</g>
<g id="ytick_31">
<g id="line2d_129">
<g>
<use href="#m5d545ce8f8" x="50.20" y="983.14" style="stroke: #000000; stroke-width: 0.8"/>
</g>
</g>
<g id="text_74">
<text style="font-size: 10px; font-family: 'DejaVu Sans', sans-serif; text-anchor: end" x="42.48" y="987.18" transform="rotate(-0 42.48 987.18)">−10</text>
</g>
</g>
<g id="ytick_32">
<g id="line2d_130">
<g>
<use href="#m5d545ce8f8" x="50.20" y="931.33" style="stroke: #000000; stroke-width: 0.8"/>
</g>
</g>
<g id="text_75">
<text style="font-size: 10px; font-family: 'DejaVu Sans', sans-serif; text-anchor: end" x="42.48" y="935.37" transform="rotate(-0 42.48 935.37)">−5</text>
</g>
</g>
<g id="ytick_33">
<g id="line2d_131">
<g>
<use href="#m5d545ce8f8" x="50.20" y="879.52" style="stroke: #000000; stroke-width: 0.8"/>
</g>
</g>
<g id="text_76">
<text style="font-size: 10px; font-family: 'DejaVu Sans', sans-serif; text-anchor: end" x="42.48" y="883.56" transform="rotate(-0 42.48 883.56)">0</text>
</g>
</g>
<g id="ytick_34">
<g id="line2d_132">
<g>
<use href="#m5d545ce8f8" x="50.20" y="827.71" style="stroke: #000000; stroke-width: 0.8"/>
</g>
</g>
<g id="text_77">
<text style="font-size: 10px; font-family: 'DejaVu Sans', sans-serif; text-anchor: end" x="42.48" y="831.75" transform="rotate(-0 42.48 831.75)">5</text>
</g>
</g>
<g id="ytick_35">
<g id="line2d_133">
<g>
<use href="#m5d545ce8f8" x="50.20" y="775.90" style="stroke: #000000; stroke-width: 0.8"/>
</g>
</g>
<g id="text_78">
<text style="font-size: 10px; font-family: 'DejaVu Sans', sans-serif; text-anchor: end" x="42.48" y="779.94" transform="rotate(-0 42.48 779.94)">10</text>
</g>
</g>
<g id="text_79">
<text style="font-size: 10px; font-family: 'DejaVu Sans', sans-serif; text-anchor: middle" x="15.05" y="891.44" transform="rotate(-90 15.05 891.44)">LASSO Coefficients</text>
</g>
</g>
<g id="line2d_134">
<path d="M 67.08 754.55 L 73.97 754.55 L 80.85 754.56 L 87.74 754.56 L 94.63 754.57 L 101.52 754.57 L 108.41 754.58 L 115.30 754.59 L 122.18 754.60 L 129.07 754.62 L 135.96 754.64 L 142.85 754.67 L 149.74 754.70 L 156.63 754.74 L 163.52 754.80 L 170.40 754.87 L 177.29 754.95 L 184.18 755.06 L 191.07 755.20 L 197.96 755.37 L 204.85 755.59 L 211.73 755.86 L 218.62 756.21 L 225.51 756.64 L 232.40 757.19 L 239.29 757.88 L 246.18 758.74 L 253.06 759.82 L 259.95 761.15 L 266.84 762.79 L 273.73 764.83 L 280.62 767.35 L 287.51 770.34 L 294.40 773.76 L 301.28 777.69 L 308.17 782.33 L 315.06 788.19 L 321.95 795.44 L 328.84 805.45 L 335.73 819.99 L 342.61 847.63 L 349.50 875.61 L 356.39 879.52 L 363.28 879.52 L 370.17 879.52 L 377.06 879.52 L 383.94 879.52 L 390.83 879.52 L 397.72 879.52 L 404.61 879.52 " clip-path="url(#p2ca555d279)" style="fill: none; stroke: #1f77b4; stroke-width: 1.5; stroke-linecap: square"/>
</g>
<g id="line2d_135">
<path d="M 67.08 967.39 L 73.97 967.38 L 80.85 967.38 L 87.74 967.38 L 94.63 967.38 L 101.52 967.37 L 108.41 967.37 L 115.30 967.36 L 122.18 967.36 L 129.07 967.35 L 135.96 967.34 L 142.85 967.32 L 149.74 967.31 L 156.63 967.28 L 163.52 967.25 L 170.40 967.22 L 177.29 967.17 L 184.18 967.11 L 191.07 967.03 L 197.96 966.93 L 204.85 966.80 L 211.73 966.64 L 218.62 966.42 L 225.51 966.14 L 232.40 965.76 L 239.29 965.27 L 246.18 964.61 L 253.06 963.72 L 259.95 962.52 L 266.84 960.90 L 273.73 958.48 L 280.62 954.88 L 287.51 950.02 L 294.40 944.19 L 301.28 936.74 L 308.17 927.37 L 315.06 916.02 L 321.95 899.48 L 328.84 882.16 L 335.73 879.52 L 342.61 879.52 L 349.50 879.52 L 356.39 879.52 L 363.28 879.52 L 370.17 879.52 L 377.06 879.52 L 383.94 879.52 L 390.83 879.52 L 397.72 879.52 L 404.61 879.52 " clip-path="url(#p2ca555d279)" style="fill: none; stroke: #ff7f0e; stroke-width: 1.5; stroke-linecap: square"/>
</g>
<g id="line2d_136">
<path d="M 67.08 785.74 L 73.97 785.74 L 80.85 785.75 L 87.74 785.75 L 94.63 785.75 L 101.52 785.76 L 108.41 785.77 L 115.30 785.78 L 122.18 785.79 L 129.07 785.80 L 135.96 785.82 L 142.85 785.84 L 149.74 785.87 L 156.63 785.91 L 163.52 785.96 L 170.40 786.01 L 177.29 786.09 L 184.18 786.18 L 191.07 786.30 L 197.96 786.45 L 204.85 786.64 L 211.73 786.88 L 218.62 787.19 L 225.51 787.57 L 232.40 788.05 L 239.29 788.65 L 246.18 789.42 L 253.06 790.37 L 259.95 791.57 L 266.84 793.05 L 273.73 794.91 L 280.62 797.21 L 287.51 800.04 L 294.40 803.51 L 301.28 807.90 L 308.17 813.19 L 315.06 818.89 L 321.95 824.39 L 328.84 831.70 L 335.73 842.74 L 342.61 864.09 L 349.50 879.52 L 356.39 879.52 L 363.28 879.52 L 370.17 879.52 L 377.06 879.52 L 383.94 879.52 L 390.83 879.52 L 397.72 879.52 L 404.61 879.52 " clip-path="url(#p2ca555d279)" style="fill: none; stroke: #2ca02c; stroke-width: 1.5; stroke-linecap: square"/>
</g>
<g id="line2d_137">
<path d="M 67.08 763.15 L 73.97 763.15 L 80.85 763.16 L 87.74 763.16 L 94.63 763.17 L 101.52 763.18 L 108.41 763.18 L 115.30 763.20 L 122.18 763.21 L 129.07 763.23 L 135.96 763.25 L 142.85 763.28 L 149.74 763.32 L 156.63 763.37 L 163.52 763.43 L 170.40 763.51 L 177.29 763.60 L 184.18 763.73 L 191.07 763.88 L 197.96 764.08 L 204.85 764.33 L 211.73 764.64 L 218.62 765.04 L 225.51 765.54 L 232.40 766.17 L 239.29 766.97 L 246.18 767.98 L 253.06 769.26 L 259.95 770.88 L 266.84 772.92 L 273.73 775.48 L 280.62 778.69 L 287.51 782.79 L 294.40 788.22 L 301.28 795.56 L 308.17 804.82 L 315.06 814.91 L 321.95 824.65 L 328.84 838.55 L 335.73 864.02 L 342.61 879.52 L 349.50 879.52 L 356.39 879.52 L 363.28 879.52 L 370.17 879.52 L 377.06 879.52 L 383.94 879.52 L 390.83 879.52 L 397.72 879.52 L 404.61 879.52 " clip-path="url(#p2ca555d279)" style="fill: none; stroke: #d62728; stroke-width: 1.5; stroke-linecap: square"/>
</g>
<g id="line2d_138">
<path d="M 67.08 876.10 L 73.97 876.10 L 80.85 876.10 L 87.74 876.10 L 94.63 876.10 L 101.52 876.10 L 108.41 876.09 L 115.30 876.09 L 122.18 876.09 L 129.07 876.09 L 135.96 876.09 L 142.85 876.09 L 149.74 876.08 L 156.63 876.08 L 163.52 876.08 L 170.40 876.07 L 177.29 876.06 L 184.18 876.06 L 191.07 876.04 L 197.96 876.03 L 204.85 876.01 L 211.73 875.99 L 218.62 875.96 L 225.51 875.92 L 232.40 875.88 L 239.29 875.82 L 246.18 875.75 L 253.06 875.66 L 259.95 875.55 L 266.84 875.43 L 273.73 875.29 L 280.62 875.10 L 287.51 874.85 L 294.40 874.54 L 301.28 874.16 L 308.17 873.72 L 315.06 873.30 L 321.95 873.07 L 328.84 877.13 L 335.73 879.52 L 342.61 879.52 L 349.50 879.52 L 356.39 879.52 L 363.28 879.52 L 370.17 879.52 L 377.06 879.52 L 383.94 879.52 L 390.83 879.52 L 397.72 879.52 L 404.61 879.52 " clip-path="url(#p2ca555d279)" style="fill: none; stroke: #9467bd; stroke-width: 1.5; stroke-linecap: square"/>
</g>
<g id="line2d_139">
<path d="M 67.08 756.42 L 73.97 756.42 L 80.85 756.43 L 87.74 756.44 L 94.63 756.45 L 101.52 756.46 L 108.41 756.47 L 115.30 756.49 L 122.18 756.52 L 129.07 756.55 L 135.96 756.59 L 142.85 756.65 L 149.74 756.71 L 156.63 756.80 L 163.52 756.90 L 170.40 757.04 L 177.29 757.20 L 184.18 757.42 L 191.07 757.69 L 197.96 758.03 L 204.85 758.46 L 211.73 759.00 L 218.62 759.69 L 225.51 760.56 L 232.40 761.65 L 239.29 763.02 L 246.18 764.75 L 253.06 766.92 L 259.95 769.63 L 266.84 773.02 L 273.73 777.19 L 280.62 782.34 L 287.51 788.84 L 294.40 797.37 L 301.28 808.52 L 308.17 822.77 L 315.06 840.52 L 321.95 867.34 L 328.84 879.52 L 335.73 879.52 L 342.61 879.52 L 349.50 879.52 L 356.39 879.52 L 363.28 879.52 L 370.17 879.52 L 377.06 879.52 L 383.94 879.52 L 390.83 879.52 L 397.72 879.52 L 404.61 879.52 " clip-path="url(#p2ca555d279)" style="fill: none; stroke: #8c564b; stroke-width: 1.5; stroke-linecap: square"/>
</g>
<g id="line2d_140">
<path d="M 67.08 804.60 L 73.97 804.60 L 80.85 804.60 L 87.74 804.61 L 94.63 804.61 L 101.52 804.62 L 108.41 804.63 L 115.30 804.64 L 122.18 804.65 L 129.07 804.67 L 135.96 804.69 L 142.85 804.71 L 149.74 804.74 L 156.63 804.78 L 163.52 804.83 L 170.40 804.90 L 177.29 804.98 L 184.18 805.08 L 191.07 805.21 L 197.96 805.38 L 204.85 805.59 L 211.73 805.86 L 218.62 806.19 L 225.51 806.62 L 232.40 807.17 L 239.29 807.87 L 246.18 808.76 L 253.06 809.91 L 259.95 811.37 L 266.84 813.27 L 273.73 815.73 L 280.62 818.93 L 287.51 823.12 L 294.40 828.58 L 301.28 835.74 L 308.17 845.07 L 315.06 857.31 L 321.95 876.32 L 328.84 879.52 L 335.73 879.52 L 342.61 879.52 L 349.50 879.52 L 356.39 879.52 L 363.28 879.52 L 370.17 879.52 L 377.06 879.52 L 383.94 879.52 L 390.83 879.52 L 397.72 879.52 L 404.61 879.52 " clip-path="url(#p2ca555d279)" style="fill: none; stroke: #e377c2; stroke-width: 1.5; stroke-linecap: square"/>
</g>
<g id="line2d_141">
<path d="M 67.08 823.87 L 73.97 823.88 L 80.85 823.88 L 87.74 823.88 L 94.63 823.89 L 101.52 823.89 L 108.41 823.90 L 115.30 823.91 L 122.18 823.92 L 129.07 823.94 L 135.96 823.96 L 142.85 823.98 L 149.74 824.02 L 156.63 824.06 L 163.52 824.11 L 170.40 824.17 L 177.29 824.25 L 184.18 824.36 L 191.07 824.49 L 197.96 824.65 L 204.85 824.86 L 211.73 825.12 L 218.62 825.46 L 225.51 825.88 L 232.40 826.42 L 239.29 827.11 L 246.18 827.97 L 253.06 829.07 L 259.95 830.47 L 266.84 832.25 L 273.73 834.59 L 280.62 837.64 L 287.51 841.33 L 294.40 845.32 L 301.28 849.65 L 308.17 854.80 L 315.06 862.44 L 321.95 876.97 L 328.84 879.52 L 335.73 879.52 L 342.61 879.52 L 349.50 879.52 L 356.39 879.52 L 363.28 879.52 L 370.17 879.52 L 377.06 879.52 L 383.94 879.52 L 390.83 879.52 L 397.72 879.52 L 404.61 879.52 " clip-path="url(#p2ca555d279)" style="fill: none; stroke: #7f7f7f; stroke-width: 1.5; stroke-linecap: square"/>
</g>
<g id="line2d_142">
<path d="M 67.08 888.84 L 73.97 888.84 L 80.85 888.84 L 87.74 888.84 L 94.63 888.84 L 101.52 888.85 L 108.41 888.85 L 115.30 888.85 L 122.18 888.85 L 129.07 888.85 L 135.96 888.86 L 142.85 888.86 L 149.74 888.87 L 156.63 888.87 L 163.52 888.88 L 170.40 888.89 L 177.29 888.91 L 184.18 888.93 L 191.07 888.95 L 197.96 888.98 L 204.85 889.01 L 211.73 889.06 L 218.62 889.12 L 225.51 889.20 L 232.40 889.30 L 239.29 889.42 L 246.18 889.58 L 253.06 889.79 L 259.95 890.07 L 266.84 890.42 L 273.73 890.91 L 280.62 891.58 L 287.51 892.42 L 294.40 893.45 L 301.28 894.92 L 308.17 896.82 L 315.06 898.70 L 321.95 898.81 L 328.84 891.30 L 335.73 880.45 L 342.61 879.52 L 349.50 879.52 L 356.39 879.52 L 363.28 879.52 L 370.17 879.52 L 377.06 879.52 L 383.94 879.52 L 390.83 879.52 L 397.72 879.52 L 404.61 879.52 " clip-path="url(#p2ca555d279)" style="fill: none; stroke: #bcbd22; stroke-width: 1.5; stroke-linecap: square"/>
</g>
<g id="line2d_143">
<path d="M 67.08 958.06 L 73.97 958.06 L 80.85 958.06 L 87.74 958.06 L 94.63 958.05 L 101.52 958.05 L 108.41 958.05 L 115.30 958.04 L 122.18 958.04 L 129.07 958.03 L 135.96 958.02 L 142.85 958.01 L 149.74 958.00 L 156.63 957.98 L 163.52 957.96 L 170.40 957.93 L 177.29 957.90 L 184.18 957.86 L 191.07 957.80 L 197.96 957.73 L 204.85 957.65 L 211.73 957.54 L 218.62 957.40 L 225.51 957.23 L 232.40 957.02 L 239.29 956.76 L 246.18 956.43 L 253.06 956.04 L 259.95 955.58 L 266.84 955.05 L 273.73 954.47 L 280.62 953.82 L 287.51 953.06 L 294.40 952.10 L 301.28 950.99 L 308.17 949.60 L 315.06 947.50 L 321.95 943.99 L 328.84 938.61 L 335.73 926.38 L 342.61 898.82 L 349.50 879.52 L 356.39 879.52 L 363.28 879.52 L 370.17 879.52 L 377.06 879.52 L 383.94 879.52 L 390.83 879.52 L 397.72 879.52 L 404.61 879.52 " clip-path="url(#p2ca555d279)" style="fill: none; stroke: #17becf; stroke-width: 1.5; stroke-linecap: square"/>
</g>
<g id="line2d_144">
<path d="M 67.08 786.26 L 73.97 786.26 L 80.85 786.27 L 87.74 786.27 L 94.63 786.28 L 101.52 786.29 L 108.41 786.30 L 115.30 786.32 L 122.18 786.34 L 129.07 786.36 L 135.96 786.39 L 142.85 786.43 L 149.74 786.48 L 156.63 786.55 L 163.52 786.63 L 170.40 786.73 L 177.29 786.86 L 184.18 787.02 L 191.07 787.22 L 197.96 787.48 L 204.85 787.81 L 211.73 788.22 L 218.62 788.74 L 225.51 789.40 L 232.40 790.24 L 239.29 791.29 L 246.18 792.62 L 253.06 794.30 L 259.95 796.42 L 266.84 799.08 L 273.73 802.49 L 280.62 806.82 L 287.51 812.12 L 294.40 818.14 L 301.28 824.79 L 308.17 832.98 L 315.06 846.09 L 321.95 874.39 L 328.84 879.52 L 335.73 879.52 L 342.61 879.52 L 349.50 879.52 L 356.39 879.52 L 363.28 879.52 L 370.17 879.52 L 377.06 879.52 L 383.94 879.52 L 390.83 879.52 L 397.72 879.52 L 404.61 879.52 " clip-path="url(#p2ca555d279)" style="fill: none; stroke: #1f77b4; stroke-width: 1.5; stroke-linecap: square"/>
</g>
<g id="line2d_145">
<path d="M 67.08 975.26 L 73.97 975.26 L 80.85 975.26 L 87.74 975.25 L 94.63 975.25 L 101.52 975.25 L 108.41 975.24 L 115.30 975.23 L 122.18 975.22 L 129.07 975.21 L 135.96 975.19 L 142.85 975.17 L 149.74 975.15 L 156.63 975.11 L 163.52 975.07 L 170.40 975.02 L 177.29 974.96 L 184.18 974.87 L 191.07 974.77 L 197.96 974.63 L 204.85 974.46 L 211.73 974.25 L 218.62 973.97 L 225.51 973.62 L 232.40 973.17 L 239.29 972.60 L 246.18 971.85 L 253.06 970.89 L 259.95 969.65 L 266.84 968.02 L 273.73 965.90 L 280.62 963.09 L 287.51 959.27 L 294.40 953.74 L 301.28 945.45 L 308.17 934.30 L 315.06 921.99 L 321.95 906.75 L 328.84 888.94 L 335.73 879.52 L 342.61 879.52 L 349.50 879.52 L 356.39 879.52 L 363.28 879.52 L 370.17 879.52 L 377.06 879.52 L 383.94 879.52 L 390.83 879.52 L 397.72 879.52 L 404.61 879.52 " clip-path="url(#p2ca555d279)" style="fill: none; stroke: #ff7f0e; stroke-width: 1.5; stroke-linecap: square"/>
</g>
<g id="line2d_146">
<path d="M 67.08 924.38 L 73.97 924.38 L 80.85 924.38 L 87.74 924.38 L 94.63 924.38 L 101.52 924.38 L 108.41 924.37 L 115.30 924.37 L 122.18 924.36 L 129.07 924.36 L 135.96 924.35 L 142.85 924.34 L 149.74 924.32 L 156.63 924.31 L 163.52 924.28 L 170.40 924.26 L 177.29 924.22 L 184.18 924.18 L 191.07 924.12 L 197.96 924.05 L 204.85 923.97 L 211.73 923.86 L 218.62 923.72 L 225.51 923.55 L 232.40 923.33 L 239.29 923.06 L 246.18 922.72 L 253.06 922.31 L 259.95 921.81 L 266.84 921.22 L 273.73 920.53 L 280.62 919.75 L 287.51 918.76 L 294.40 917.35 L 301.28 915.42 L 308.17 912.81 L 315.06 909.27 L 321.95 904.34 L 328.84 888.11 L 335.73 879.52 L 342.61 879.52 L 349.50 879.52 L 356.39 879.52 L 363.28 879.52 L 370.17 879.52 L 377.06 879.52 L 383.94 879.52 L 390.83 879.52 L 397.72 879.52 L 404.61 879.52 " clip-path="url(#p2ca555d279)" style="fill: none; stroke: #2ca02c; stroke-width: 1.5; stroke-linecap: square"/>
</g>
<g id="line2d_147">
<path d="M 67.08 821.28 L 73.97 821.28 L 80.85 821.29 L 87.74 821.29 L 94.63 821.29 L 101.52 821.29 L 108.41 821.30 L 115.30 821.31 L 122.18 821.31 L 129.07 821.32 L 135.96 821.33 L 142.85 821.35 L 149.74 821.37 L 156.63 821.39 L 163.52 821.43 L 170.40 821.46 L 177.29 821.51 L 184.18 821.58 L 191.07 821.66 L 197.96 821.76 L 204.85 821.88 L 211.73 822.05 L 218.62 822.25 L 225.51 822.51 L 232.40 822.83 L 239.29 823.24 L 246.18 823.75 L 253.06 824.41 L 259.95 825.23 L 266.84 826.26 L 273.73 827.57 L 280.62 829.25 L 287.51 831.28 L 294.40 833.62 L 301.28 836.40 L 308.17 839.68 L 315.06 843.53 L 321.95 847.63 L 328.84 854.51 L 335.73 869.72 L 342.61 879.52 L 349.50 879.52 L 356.39 879.52 L 363.28 879.52 L 370.17 879.52 L 377.06 879.52 L 383.94 879.52 L 390.83 879.52 L 397.72 879.52 L 404.61 879.52 " clip-path="url(#p2ca555d279)" style="fill: none; stroke: #d62728; stroke-width: 1.5; stroke-linecap: square"/>
</g>
<g id="line2d_148">
<path d="M 67.08 917.03 L 73.97 917.03 L 80.85 917.02 L 87.74 917.02 L 94.63 917.02 L 101.52 917.02 L 108.41 917.01 L 115.30 917.01 L 122.18 917.00 L 129.07 916.99 L 135.96 916.98 L 142.85 916.96 L 149.74 916.95 L 156.63 916.92 L 163.52 916.89 L 170.40 916.86 L 177.29 916.81 L 184.18 916.75 L 191.07 916.68 L 197.96 916.58 L 204.85 916.46 L 211.73 916.31 L 218.62 916.12 L 225.51 915.88 L 232.40 915.57 L 239.29 915.18 L 246.18 914.69 L 253.06 914.07 L 259.95 913.28 L 266.84 912.28 L 273.73 911.03 L 280.62 909.47 L 287.51 907.40 L 294.40 904.36 L 301.28 899.75 L 308.17 893.69 L 315.06 887.58 L 321.95 881.23 L 328.84 879.52 L 335.73 879.52 L 342.61 879.52 L 349.50 879.52 L 356.39 879.52 L 363.28 879.52 L 370.17 879.52 L 377.06 879.52 L 383.94 879.52 L 390.83 879.52 L 397.72 879.52 L 404.61 879.52 " clip-path="url(#p2ca555d279)" style="fill: none; stroke: #9467bd; stroke-width: 1.5; stroke-linecap: square"/>
</g>
<g id="line2d_149">
<path d="M 67.08 888.53 L 73.97 888.53 L 80.85 888.53 L 87.74 888.53 L 94.63 888.53 L 101.52 888.53 L 108.41 888.53 L 115.30 888.53 L 122.18 888.53 L 129.07 888.53 L 135.96 888.53 L 142.85 888.53 L 149.74 888.53 L 156.63 888.53 L 163.52 888.53 L 170.40 888.53 L 177.29 888.53 L 184.18 888.53 L 191.07 888.53 L 197.96 888.53 L 204.85 888.53 L 211.73 888.53 L 218.62 888.53 L 225.51 888.53 L 232.40 888.53 L 239.29 888.53 L 246.18 888.53 L 253.06 888.52 L 259.95 888.52 L 266.84 888.51 L 273.73 888.49 L 280.62 888.47 L 287.51 888.43 L 294.40 888.36 L 301.28 888.24 L 308.17 888.04 L 315.06 887.67 L 321.95 887.01 L 328.84 879.52 L 335.73 879.52 L 342.61 879.52 L 349.50 879.52 L 356.39 879.52 L 363.28 879.52 L 370.17 879.52 L 377.06 879.52 L 383.94 879.52 L 390.83 879.52 L 397.72 879.52 L 404.61 879.52 " clip-path="url(#p2ca555d279)" style="fill: none; stroke: #8c564b; stroke-width: 1.5; stroke-linecap: square"/>
</g>
<g id="line2d_150">
<path d="M 67.08 975.88 L 73.97 975.88 L 80.85 975.88 L 87.74 975.88 L 94.63 975.87 L 101.52 975.87 L 108.41 975.86 L 115.30 975.86 L 122.18 975.85 L 129.07 975.84 L 135.96 975.83 L 142.85 975.81 L 149.74 975.79 L 156.63 975.76 L 163.52 975.73 L 170.40 975.68 L 177.29 975.63 L 184.18 975.56 L 191.07 975.47 L 197.96 975.36 L 204.85 975.21 L 211.73 975.03 L 218.62 974.80 L 225.51 974.51 L 232.40 974.13 L 239.29 973.65 L 246.18 973.03 L 253.06 972.22 L 259.95 971.18 L 266.84 969.82 L 273.73 968.08 L 280.62 965.79 L 287.51 962.60 L 294.40 957.60 L 301.28 949.47 L 308.17 938.09 L 315.06 925.55 L 321.95 910.33 L 328.84 892.02 L 335.73 879.65 L 342.61 879.52 L 349.50 879.52 L 356.39 879.52 L 363.28 879.52 L 370.17 879.52 L 377.06 879.52 L 383.94 879.52 L 390.83 879.52 L 397.72 879.52 L 404.61 879.52 " clip-path="url(#p2ca555d279)" style="fill: none; stroke: #e377c2; stroke-width: 1.5; stroke-linecap: square"/>
</g>
<g id="line2d_151">
<path d="M 67.08 981.48 L 73.97 981.48 L 80.85 981.47 L 87.74 981.47 L 94.63 981.47 L 101.52 981.46 L 108.41 981.46 L 115.30 981.45 L 122.18 981.44 L 129.07 981.43 L 135.96 981.41 L 142.85 981.40 L 149.74 981.37 L 156.63 981.34 L 163.52 981.30 L 170.40 981.26 L 177.29 981.20 L 184.18 981.12 L 191.07 981.02 L 197.96 980.90 L 204.85 980.75 L 211.73 980.55 L 218.62 980.30 L 225.51 979.98 L 232.40 979.58 L 239.29 979.07 L 246.18 978.42 L 253.06 977.59 L 259.95 976.53 L 266.84 975.17 L 273.73 973.36 L 280.62 970.97 L 287.51 968.09 L 294.40 965.02 L 301.28 961.54 L 308.17 957.58 L 315.06 953.04 L 321.95 948.30 L 328.84 941.25 L 335.73 928.79 L 342.61 899.13 L 349.50 879.52 L 356.39 879.52 L 363.28 879.52 L 370.17 879.52 L 377.06 879.52 L 383.94 879.52 L 390.83 879.52 L 397.72 879.52 L 404.61 879.52 " clip-path="url(#p2ca555d279)" style="fill: none; stroke: #7f7f7f; stroke-width: 1.5; stroke-linecap: square"/>
</g>
<g id="line2d_152">
<path d="M 67.08 1027.69 L 73.97 1027.69 L 80.85 1027.69 L 87.74 1027.68 L 94.63 1027.67 L 101.52 1027.66 L 108.41 1027.65 L 115.30 1027.64 L 122.18 1027.62 L 129.07 1027.60 L 135.96 1027.57 L 142.85 1027.54 L 149.74 1027.49 L 156.63 1027.43 L 163.52 1027.36 L 170.40 1027.27 L 177.29 1027.15 L 184.18 1027.01 L 191.07 1026.82 L 197.96 1026.58 L 204.85 1026.29 L 211.73 1025.91 L 218.62 1025.43 L 225.51 1024.81 L 232.40 1024.04 L 239.29 1023.05 L 246.18 1021.78 L 253.06 1020.17 L 259.95 1018.09 L 266.84 1015.42 L 273.73 1011.83 L 280.62 1007.06 L 287.51 1001.26 L 294.40 995.15 L 301.28 988.31 L 308.17 980.47 L 315.06 971.03 L 321.95 959.92 L 328.84 945.34 L 335.73 925.37 L 342.61 907.51 L 349.50 888.34 L 356.39 879.52 L 363.28 879.52 L 370.17 879.52 L 377.06 879.52 L 383.94 879.52 L 390.83 879.52 L 397.72 879.52 L 404.61 879.52 " clip-path="url(#p2ca555d279)" style="fill: none; stroke: #bcbd22; stroke-width: 1.5; stroke-linecap: square"/>
</g>
<g id="line2d_153">
<path d="M 67.08 877.55 L 73.97 877.55 L 80.85 877.56 L 87.74 877.57 L 94.63 877.59 L 101.52 877.60 L 108.41 877.62 L 115.30 877.65 L 122.18 877.68 L 129.07 877.72 L 135.96 877.76 L 142.85 877.82 L 149.74 877.90 L 156.63 878.00 L 163.52 878.12 L 170.40 878.27 L 177.29 878.44 L 184.18 878.61 L 191.07 878.72 L 197.96 878.79 L 204.85 878.87 L 211.73 878.94 L 218.62 879.00 L 225.51 879.05 L 232.40 879.12 L 239.29 879.18 L 246.18 879.25 L 253.06 879.32 L 259.95 879.39 L 266.84 879.53 L 273.73 879.76 L 280.62 880.11 L 287.51 880.57 L 294.40 881.06 L 301.28 881.60 L 308.17 882.34 L 315.06 884.00 L 321.95 886.48 L 328.84 882.45 L 335.73 879.52 L 342.61 879.52 L 349.50 879.52 L 356.39 879.52 L 363.28 879.52 L 370.17 879.52 L 377.06 879.52 L 383.94 879.52 L 390.83 879.52 L 397.72 879.52 L 404.61 879.52 " clip-path="url(#p2ca555d279)" style="fill: none; stroke: #17becf; stroke-width: 1.5; stroke-linecap: square"/>
</g>
<g id="line2d_154">
<path d="M 67.08 997.64 L 73.97 997.64 L 80.85 997.64 L 87.74 997.64 L 94.63 997.63 L 101.52 997.63 L 108.41 997.62 L 115.30 997.61 L 122.18 997.60 L 129.07 997.59 L 135.96 997.57 L 142.85 997.55 L 149.74 997.53 L 156.63 997.49 L 163.52 997.45 L 170.40 997.40 L 177.29 997.33 L 184.18 997.24 L 191.07 997.13 L 197.96 996.99 L 204.85 996.81 L 211.73 996.58 L 218.62 996.28 L 225.51 995.90 L 232.40 995.40 L 239.29 994.76 L 246.18 993.91 L 253.06 992.80 L 259.95 991.33 L 266.84 989.36 L 273.73 986.58 L 280.62 982.64 L 287.51 977.46 L 294.40 971.24 L 301.28 963.36 L 308.17 953.60 L 315.06 942.29 L 321.95 930.21 L 328.84 912.01 L 335.73 882.28 L 342.61 879.52 L 349.50 879.52 L 356.39 879.52 L 363.28 879.52 L 370.17 879.52 L 377.06 879.52 L 383.94 879.52 L 390.83 879.52 L 397.72 879.52 L 404.61 879.52 " clip-path="url(#p2ca555d279)" style="fill: none; stroke: #1f77b4; stroke-width: 1.5; stroke-linecap: square"/>
</g>
<g id="line2d_155">
<path d="M 67.08 993.71 L 73.97 993.70 L 80.85 993.70 L 87.74 993.70 L 94.63 993.69 L 101.52 993.68 L 108.41 993.68 L 115.30 993.67 L 122.18 993.65 L 129.07 993.64 L 135.96 993.62 L 142.85 993.59 L 149.74 993.56 L 156.63 993.52 L 163.52 993.47 L 170.40 993.40 L 177.29 993.32 L 184.18 993.21 L 191.07 993.08 L 197.96 992.91 L 204.85 992.69 L 211.73 992.42 L 218.62 992.07 L 225.51 991.62 L 232.40 991.05 L 239.29 990.33 L 246.18 989.39 L 253.06 988.19 L 259.95 986.63 L 266.84 984.61 L 273.73 981.96 L 280.62 978.47 L 287.51 973.83 L 294.40 967.49 L 301.28 958.60 L 308.17 946.94 L 315.06 933.58 L 321.95 916.05 L 328.84 894.47 L 335.73 879.67 L 342.61 879.52 L 349.50 879.52 L 356.39 879.52 L 363.28 879.52 L 370.17 879.52 L 377.06 879.52 L 383.94 879.52 L 390.83 879.52 L 397.72 879.52 L 404.61 879.52 " clip-path="url(#p2ca555d279)" style="fill: none; stroke: #ff7f0e; stroke-width: 1.5; stroke-linecap: square"/>
</g>
<g id="line2d_156">
<path d="M 67.08 992.98 L 73.97 992.98 L 80.85 992.97 L 87.74 992.97 L 94.63 992.96 L 101.52 992.96 L 108.41 992.95 L 115.30 992.94 L 122.18 992.92 L 129.07 992.90 L 135.96 992.88 L 142.85 992.85 L 149.74 992.81 L 156.63 992.77 L 163.52 992.71 L 170.40 992.63 L 177.29 992.54 L 184.18 992.42 L 191.07 992.26 L 197.96 992.07 L 204.85 991.82 L 211.73 991.51 L 218.62 991.10 L 225.51 990.59 L 232.40 989.92 L 239.29 989.07 L 246.18 987.97 L 253.06 986.53 L 259.95 984.66 L 266.84 982.20 L 273.73 978.88 L 280.62 974.38 L 287.51 968.42 L 294.40 960.64 L 301.28 950.06 L 308.17 936.53 L 315.06 921.39 L 321.95 901.86 L 328.84 882.41 L 335.73 879.52 L 342.61 879.52 L 349.50 879.52 L 356.39 879.52 L 363.28 879.52 L 370.17 879.52 L 377.06 879.52 L 383.94 879.52 L 390.83 879.52 L 397.72 879.52 L 404.61 879.52 " clip-path="url(#p2ca555d279)" style="fill: none; stroke: #2ca02c; stroke-width: 1.5; stroke-linecap: square"/>
</g>
<g id="line2d_157">
<path d="M 67.08 959.41 L 73.97 959.41 L 80.85 959.40 L 87.74 959.40 L 94.63 959.40 L 101.52 959.39 L 108.41 959.39 L 115.30 959.38 L 122.18 959.37 L 129.07 959.36 L 135.96 959.34 L 142.85 959.32 L 149.74 959.30 L 156.63 959.26 L 163.52 959.22 L 170.40 959.17 L 177.29 959.11 L 184.18 959.03 L 191.07 958.92 L 197.96 958.79 L 204.85 958.61 L 211.73 958.39 L 218.62 958.11 L 225.51 957.74 L 232.40 957.27 L 239.29 956.64 L 246.18 955.82 L 253.06 954.74 L 259.95 953.30 L 266.84 951.38 L 273.73 948.62 L 280.62 944.68 L 287.51 939.47 L 294.40 933.24 L 301.28 925.33 L 308.17 915.53 L 315.06 904.21 L 321.95 888.77 L 328.84 879.52 L 335.73 879.52 L 342.61 879.52 L 349.50 879.52 L 356.39 879.52 L 363.28 879.52 L 370.17 879.52 L 377.06 879.52 L 383.94 879.52 L 390.83 879.52 L 397.72 879.52 L 404.61 879.52 " clip-path="url(#p2ca555d279)" style="fill: none; stroke: #d62728; stroke-width: 1.5; stroke-linecap: square"/>
</g>
<g id="line2d_158">
<path d="M 67.08 1003.86 L 73.97 1003.86 L 80.85 1003.85 L 87.74 1003.85 L 94.63 1003.84 L 101.52 1003.84 L 108.41 1003.83 L 115.30 1003.81 L 122.18 1003.80 L 129.07 1003.78 L 135.96 1003.75 L 142.85 1003.72 L 149.74 1003.68 L 156.63 1003.63 L 163.52 1003.57 L 170.40 1003.49 L 177.29 1003.39 L 184.18 1003.26 L 191.07 1003.09 L 197.96 1002.89 L 204.85 1002.62 L 211.73 1002.29 L 218.62 1001.87 L 225.51 1001.32 L 232.40 1000.64 L 239.29 999.76 L 246.18 998.63 L 253.06 997.18 L 259.95 995.31 L 266.84 992.89 L 273.73 989.66 L 280.62 985.36 L 287.51 979.92 L 294.40 973.60 L 301.28 966.28 L 308.17 957.14 L 315.06 943.70 L 321.95 916.78 L 328.84 884.66 L 335.73 879.52 L 342.61 879.52 L 349.50 879.52 L 356.39 879.52 L 363.28 879.52 L 370.17 879.52 L 377.06 879.52 L 383.94 879.52 L 390.83 879.52 L 397.72 879.52 L 404.61 879.52 " clip-path="url(#p2ca555d279)" style="fill: none; stroke: #9467bd; stroke-width: 1.5; stroke-linecap: square"/>
</g>
<g id="line2d_159">
<path d="M 67.08 928.32 L 73.97 928.32 L 80.85 928.32 L 87.74 928.32 L 94.63 928.32 L 101.52 928.32 L 108.41 928.31 L 115.30 928.31 L 122.18 928.31 L 129.07 928.30 L 135.96 928.29 L 142.85 928.29 L 149.74 928.28 L 156.63 928.26 L 163.52 928.25 L 170.40 928.23 L 177.29 928.20 L 184.18 928.17 L 191.07 928.13 L 197.96 928.08 L 204.85 928.01 L 211.73 927.92 L 218.62 927.82 L 225.51 927.68 L 232.40 927.50 L 239.29 927.26 L 246.18 926.96 L 253.06 926.56 L 259.95 926.05 L 266.84 925.36 L 273.73 924.38 L 280.62 923.00 L 287.51 921.31 L 294.40 919.61 L 301.28 917.80 L 308.17 915.73 L 315.06 912.96 L 321.95 909.30 L 328.84 904.34 L 335.73 895.20 L 342.61 881.05 L 349.50 879.52 L 356.39 879.52 L 363.28 879.52 L 370.17 879.52 L 377.06 879.52 L 383.94 879.52 L 390.83 879.52 L 397.72 879.52 L 404.61 879.52 " clip-path="url(#p2ca555d279)" style="fill: none; stroke: #8c564b; stroke-width: 1.5; stroke-linecap: square"/>
</g>
<g id="line2d_160">
<path d="M 67.08 992.77 L 73.97 992.77 L 80.85 992.77 L 87.74 992.76 L 94.63 992.76 L 101.52 992.75 L 108.41 992.75 L 115.30 992.74 L 122.18 992.73 L 129.07 992.71 L 135.96 992.69 L 142.85 992.67 L 149.74 992.64 L 156.63 992.60 L 163.52 992.55 L 170.40 992.49 L 177.29 992.42 L 184.18 992.32 L 191.07 992.20 L 197.96 992.04 L 204.85 991.84 L 211.73 991.58 L 218.62 991.26 L 225.51 990.84 L 232.40 990.30 L 239.29 989.61 L 246.18 988.71 L 253.06 987.55 L 259.95 986.02 L 266.84 984.02 L 273.73 981.31 L 280.62 977.63 L 287.51 972.72 L 294.40 966.22 L 301.28 957.25 L 308.17 945.65 L 315.06 932.42 L 321.95 915.19 L 328.84 894.09 L 335.73 879.67 L 342.61 879.52 L 349.50 879.52 L 356.39 879.52 L 363.28 879.52 L 370.17 879.52 L 377.06 879.52 L 383.94 879.52 L 390.83 879.52 L 397.72 879.52 L 404.61 879.52 " clip-path="url(#p2ca555d279)" style="fill: none; stroke: #e377c2; stroke-width: 1.5; stroke-linecap: square"/>
</g>
<g id="line2d_161">
<path d="M 326.17 1041.81 L 326.17 741.06 " clip-path="url(#p2ca555d279)" style="fill: none; stroke-dasharray: 5.55,2.4; stroke-dashoffset: 0; stroke: #9a0000; stroke-width: 1.5"/>
</g>
<g id="patch_23">
<path d="M 50.20 1041.81 L 50.20 741.06 " style="fill: none; stroke: #000000; stroke-width: 0.8; stroke-linejoin: miter; stroke-linecap: square"/>
</g>
<g id="patch_24">
<path d="M 421.49 1041.81 L 421.49 741.06 " style="fill: none; stroke: #000000; stroke-width: 0.8; stroke-linejoin: miter; stroke-linecap: square"/>
</g>
<g id="patch_25">
<path d="M 50.20 1041.81 L 421.49 1041.81 " style="fill: none; stroke: #000000; stroke-width: 0.8; stroke-linejoin: miter; stroke-linecap: square"/>
</g>
<g id="patch_26">
<path d="M 50.20 741.06 L 421.49 741.06 " style="fill: none; stroke: #000000; stroke-width: 0.8; stroke-linejoin: miter; stroke-linecap: square"/>
</g>
<g id="text_80">
<text style="font-size: 12px; font-family: 'DejaVu Sans', sans-serif; text-anchor: middle" x="235.02" y="734.72" transform="rotate(-0 235.02 734.72)">LASSO for DCE</text>
</g>
</g>
<g id="axes_6">
<g id="patch_27">
<path d="M 484.44 1041.81 L 855.87 1041.81 L 855.87 741.06 L 484.44 741.06 z
" style="fill: #ffffff"/>
</g>
<g id="matplotlib.axis_11">
<g id="xtick_31">
<g id="line2d_162">
<g>
<use href="#m1504cfccaf" x="501.32" y="1041.81" style="stroke: #000000; stroke-width: 0.8"/>
</g>
</g>
<g id="text_81">
<text style="font-size: 10px; font-family: 'DejaVu Sans', sans-serif; text-anchor: middle" x="500.60" y="1056.65" transform="rotate(-0 500.60 1056.65)">−3</text>
</g>
</g>
<g id="xtick_32">
<g id="line2d_163">
<g>
<use href="#m1504cfccaf" x="568.85" y="1041.81" style="stroke: #000000; stroke-width: 0.8"/>
</g>
</g>
<g id="text_82">
<text style="font-size: 10px; font-family: 'DejaVu Sans', sans-serif; text-anchor: middle" x="568.13" y="1056.65" transform="rotate(-0 568.13 1056.65)">−2</text>
</g>
</g>
<g id="xtick_33">
<g id="line2d_164">
<g>
<use href="#m1504cfccaf" x="636.39" y="1041.81" style="stroke: #000000; stroke-width: 0.8"/>
</g>
</g>
<g id="text_83">
<text style="font-size: 10px; font-family: 'DejaVu Sans', sans-serif; text-anchor: middle" x="635.66" y="1056.65" transform="rotate(-0 635.66 1056.65)">−1</text>
</g>
</g>
<g id="xtick_34">
<g id="line2d_165">
<g>
<use href="#m1504cfccaf" x="703.92" y="1041.81" style="stroke: #000000; stroke-width: 0.8"/>
</g>
</g>
<g id="text_84">
<text style="font-size: 10px; font-family: 'DejaVu Sans', sans-serif; text-anchor: middle" x="703.20" y="1056.65" transform="rotate(-0 703.20 1056.65)">0</text>
</g>
</g>
<g id="xtick_35">
<g id="line2d_166">
<g>
<use href="#m1504cfccaf" x="771.45" y="1041.81" style="stroke: #000000; stroke-width: 0.8"/>
</g>
</g>
<g id="text_85">
<text style="font-size: 10px; font-family: 'DejaVu Sans', sans-serif; text-anchor: middle" x="770.73" y="1056.65" transform="rotate(-0 770.73 1056.65)">1</text>
</g>
</g>
<g id="xtick_36">
<g id="line2d_167">
<g>
<use href="#m1504cfccaf" x="838.99" y="1041.81" style="stroke: #000000; stroke-width: 0.8"/>
</g>
</g>
<g id="text_86">
<text style="font-size: 10px; font-family: 'DejaVu Sans', sans-serif; text-anchor: middle" x="838.26" y="1056.65" transform="rotate(-0 838.26 1056.65)">2</text>
</g>
</g>
<g id="text_87">
<text style="font-size: 10px; font-family: 'DejaVu Sans', sans-serif; text-anchor: middle" x="669.33" y="1070.82" transform="rotate(-0 669.33 1070.82)">log(Alpha)</text>
</g>
</g>
<g id="matplotlib.axis_12">
<g id="ytick_36">
<g id="line2d_168">
<g>
<use href="#m5d545ce8f8" x="484.44" y="1015.44" style="stroke: #000000; stroke-width: 0.8"/>
</g>
</g>
<g id="text_88">
<text style="font-size: 10px; font-family: 'DejaVu Sans', sans-serif; text-anchor: end" x="476.71" y="1019.49" transform="rotate(-0 476.71 1019.49)">−10.0</text>
</g>
</g>
<g id="ytick_37">
<g id="line2d_169">
<g>
<use href="#m5d545ce8f8" x="484.44" y="974.41" style="stroke: #000000; stroke-width: 0.8"/>
</g>
</g>
<g id="text_89">
<text style="font-size: 10px; font-family: 'DejaVu Sans', sans-serif; text-anchor: end" x="476.71" y="978.46" transform="rotate(-0 476.71 978.46)">−7.5</text>
</g>
</g>
<g id="ytick_38">
<g id="line2d_170">
<g>
<use href="#m5d545ce8f8" x="484.44" y="933.37" style="stroke: #000000; stroke-width: 0.8"/>
</g>
</g>
<g id="text_90">
<text style="font-size: 10px; font-family: 'DejaVu Sans', sans-serif; text-anchor: end" x="476.71" y="937.42" transform="rotate(-0 476.71 937.42)">−5.0</text>
</g>
</g>
<g id="ytick_39">
<g id="line2d_171">
<g>
<use href="#m5d545ce8f8" x="484.44" y="892.34" style="stroke: #000000; stroke-width: 0.8"/>
</g>
</g>
<g id="text_91">
<text style="font-size: 10px; font-family: 'DejaVu Sans', sans-serif; text-anchor: end" x="476.71" y="896.38" transform="rotate(-0 476.71 896.38)">−2.5</text>
</g>
</g>
<g id="ytick_40">
<g id="line2d_172">
<g>
<use href="#m5d545ce8f8" x="484.44" y="851.30" style="stroke: #000000; stroke-width: 0.8"/>
</g>
</g>
<g id="text_92">
<text style="font-size: 10px; font-family: 'DejaVu Sans', sans-serif; text-anchor: end" x="476.71" y="855.35" transform="rotate(-0 476.71 855.35)">0.0</text>
</g>
</g>
<g id="ytick_41">
<g id="line2d_173">
<g>
<use href="#m5d545ce8f8" x="484.44" y="810.26" style="stroke: #000000; stroke-width: 0.8"/>
</g>
</g>
<g id="text_93">
<text style="font-size: 10px; font-family: 'DejaVu Sans', sans-serif; text-anchor: end" x="476.71" y="814.31" transform="rotate(-0 476.71 814.31)">2.5</text>
</g>
</g>
<g id="ytick_42">
<g id="line2d_174">
<g>
<use href="#m5d545ce8f8" x="484.44" y="769.23" style="stroke: #000000; stroke-width: 0.8"/>
</g>
</g>
<g id="text_94">
<text style="font-size: 10px; font-family: 'DejaVu Sans', sans-serif; text-anchor: end" x="476.71" y="773.27" transform="rotate(-0 476.71 773.27)">5.0</text>
</g>
</g>
<g id="text_95">
<text style="font-size: 10px; font-family: 'DejaVu Sans', sans-serif; text-anchor: middle" x="439.75" y="891.44" transform="rotate(-90 439.75 891.44)">Mean ± SD of Coefficients</text>
</g>
</g>
<g id="LineCollection_3">
<path d="M 501.32 1028.08 L 501.32 754.62 " clip-path="url(#p1ab1ff90a6)" style="fill: none; stroke: #185e9a"/>
<path d="M 508.21 1028.08 L 508.21 754.62 " clip-path="url(#p1ab1ff90a6)" style="fill: none; stroke: #185e9a"/>
<path d="M 515.10 1028.08 L 515.10 754.62 " clip-path="url(#p1ab1ff90a6)" style="fill: none; stroke: #185e9a"/>
<path d="M 521.99 1028.08 L 521.99 754.62 " clip-path="url(#p1ab1ff90a6)" style="fill: none; stroke: #185e9a"/>
<path d="M 528.89 1028.08 L 528.89 754.62 " clip-path="url(#p1ab1ff90a6)" style="fill: none; stroke: #185e9a"/>
<path d="M 535.78 1028.08 L 535.78 754.62 " clip-path="url(#p1ab1ff90a6)" style="fill: none; stroke: #185e9a"/>
<path d="M 542.67 1028.08 L 542.67 754.62 " clip-path="url(#p1ab1ff90a6)" style="fill: none; stroke: #185e9a"/>
<path d="M 549.56 1028.08 L 549.56 754.62 " clip-path="url(#p1ab1ff90a6)" style="fill: none; stroke: #185e9a"/>
<path d="M 556.45 1028.08 L 556.45 754.62 " clip-path="url(#p1ab1ff90a6)" style="fill: none; stroke: #185e9a"/>
<path d="M 563.34 1028.08 L 563.34 754.62 " clip-path="url(#p1ab1ff90a6)" style="fill: none; stroke: #185e9a"/>
<path d="M 570.23 1028.08 L 570.23 754.62 " clip-path="url(#p1ab1ff90a6)" style="fill: none; stroke: #185e9a"/>
<path d="M 577.12 1028.08 L 577.12 754.62 " clip-path="url(#p1ab1ff90a6)" style="fill: none; stroke: #185e9a"/>
<path d="M 584.02 1027.76 L 584.02 754.95 " clip-path="url(#p1ab1ff90a6)" style="fill: none; stroke: #185e9a"/>
<path d="M 590.91 1027.76 L 590.91 754.95 " clip-path="url(#p1ab1ff90a6)" style="fill: none; stroke: #185e9a"/>
<path d="M 597.80 1027.76 L 597.80 754.95 " clip-path="url(#p1ab1ff90a6)" style="fill: none; stroke: #185e9a"/>
<path d="M 604.69 1027.76 L 604.69 754.95 " clip-path="url(#p1ab1ff90a6)" style="fill: none; stroke: #185e9a"/>
<path d="M 611.58 1026.93 L 611.58 755.11 " clip-path="url(#p1ab1ff90a6)" style="fill: none; stroke: #185e9a"/>
<path d="M 618.47 1026.93 L 618.47 755.11 " clip-path="url(#p1ab1ff90a6)" style="fill: none; stroke: #185e9a"/>
<path d="M 625.36 1026.93 L 625.36 755.11 " clip-path="url(#p1ab1ff90a6)" style="fill: none; stroke: #185e9a"/>
<path d="M 632.25 1026.93 L 632.25 755.11 " clip-path="url(#p1ab1ff90a6)" style="fill: none; stroke: #185e9a"/>
<path d="M 639.14 1026.28 L 639.14 755.77 " clip-path="url(#p1ab1ff90a6)" style="fill: none; stroke: #185e9a"/>
<path d="M 646.04 1024.64 L 646.04 756.42 " clip-path="url(#p1ab1ff90a6)" style="fill: none; stroke: #185e9a"/>
<path d="M 652.93 1024.14 L 652.93 756.92 " clip-path="url(#p1ab1ff90a6)" style="fill: none; stroke: #185e9a"/>
<path d="M 659.82 1023.82 L 659.82 757.24 " clip-path="url(#p1ab1ff90a6)" style="fill: none; stroke: #185e9a"/>
<path d="M 666.71 1023.16 L 666.71 757.90 " clip-path="url(#p1ab1ff90a6)" style="fill: none; stroke: #185e9a"/>
<path d="M 673.60 1022.34 L 673.60 758.72 " clip-path="url(#p1ab1ff90a6)" style="fill: none; stroke: #185e9a"/>
<path d="M 680.49 1019.88 L 680.49 759.54 " clip-path="url(#p1ab1ff90a6)" style="fill: none; stroke: #185e9a"/>
<path d="M 687.38 1018.73 L 687.38 760.69 " clip-path="url(#p1ab1ff90a6)" style="fill: none; stroke: #185e9a"/>
<path d="M 694.27 1015.94 L 694.27 761.84 " clip-path="url(#p1ab1ff90a6)" style="fill: none; stroke: #185e9a"/>
<path d="M 701.16 1012.33 L 701.16 763.48 " clip-path="url(#p1ab1ff90a6)" style="fill: none; stroke: #185e9a"/>
<path d="M 708.06 1009.21 L 708.06 765.62 " clip-path="url(#p1ab1ff90a6)" style="fill: none; stroke: #185e9a"/>
<path d="M 714.95 1002.81 L 714.95 768.41 " clip-path="url(#p1ab1ff90a6)" style="fill: none; stroke: #185e9a"/>
<path d="M 721.84 996.90 L 721.84 772.02 " clip-path="url(#p1ab1ff90a6)" style="fill: none; stroke: #185e9a"/>
<path d="M 728.73 989.18 L 728.73 776.45 " clip-path="url(#p1ab1ff90a6)" style="fill: none; stroke: #185e9a"/>
<path d="M 735.62 979.33 L 735.62 782.36 " clip-path="url(#p1ab1ff90a6)" style="fill: none; stroke: #185e9a"/>
<path d="M 742.51 966.53 L 742.51 789.58 " clip-path="url(#p1ab1ff90a6)" style="fill: none; stroke: #185e9a"/>
<path d="M 749.40 951.10 L 749.40 797.46 " clip-path="url(#p1ab1ff90a6)" style="fill: none; stroke: #185e9a"/>
<path d="M 756.29 932.88 L 756.29 806.82 " clip-path="url(#p1ab1ff90a6)" style="fill: none; stroke: #185e9a"/>
<path d="M 763.18 913.84 L 763.18 815.02 " clip-path="url(#p1ab1ff90a6)" style="fill: none; stroke: #185e9a"/>
<path d="M 770.08 893.16 L 770.08 821.59 " clip-path="url(#p1ab1ff90a6)" style="fill: none; stroke: #185e9a"/>
<path d="M 776.97 875.10 L 776.97 833.74 " clip-path="url(#p1ab1ff90a6)" style="fill: none; stroke: #185e9a"/>
<path d="M 783.86 853.93 L 783.86 849.00 " clip-path="url(#p1ab1ff90a6)" style="fill: none; stroke: #185e9a"/>
<path d="M 790.75 851.30 L 790.75 851.30 " clip-path="url(#p1ab1ff90a6)" style="fill: none; stroke: #185e9a"/>
<path d="M 797.64 851.30 L 797.64 851.30 " clip-path="url(#p1ab1ff90a6)" style="fill: none; stroke: #185e9a"/>
<path d="M 804.53 851.30 L 804.53 851.30 " clip-path="url(#p1ab1ff90a6)" style="fill: none; stroke: #185e9a"/>
<path d="M 811.42 851.30 L 811.42 851.30 " clip-path="url(#p1ab1ff90a6)" style="fill: none; stroke: #185e9a"/>
<path d="M 818.31 851.30 L 818.31 851.30 " clip-path="url(#p1ab1ff90a6)" style="fill: none; stroke: #185e9a"/>
<path d="M 825.21 851.30 L 825.21 851.30 " clip-path="url(#p1ab1ff90a6)" style="fill: none; stroke: #185e9a"/>
<path d="M 832.10 851.30 L 832.10 851.30 " clip-path="url(#p1ab1ff90a6)" style="fill: none; stroke: #185e9a"/>
<path d="M 838.99 851.30 L 838.99 851.30 " clip-path="url(#p1ab1ff90a6)" style="fill: none; stroke: #185e9a"/>
</g>
<g id="line2d_175">
<g clip-path="url(#p1ab1ff90a6)">
<use href="#mccd423851a" x="501.32" y="1028.08" style="fill: #1f77b4; stroke: #185e9a"/>
<use href="#mccd423851a" x="508.21" y="1028.08" style="fill: #1f77b4; stroke: #185e9a"/>
<use href="#mccd423851a" x="515.10" y="1028.08" style="fill: #1f77b4; stroke: #185e9a"/>
<use href="#mccd423851a" x="521.99" y="1028.08" style="fill: #1f77b4; stroke: #185e9a"/>
<use href="#mccd423851a" x="528.89" y="1028.08" style="fill: #1f77b4; stroke: #185e9a"/>
<use href="#mccd423851a" x="535.78" y="1028.08" style="fill: #1f77b4; stroke: #185e9a"/>
<use href="#mccd423851a" x="542.67" y="1028.08" style="fill: #1f77b4; stroke: #185e9a"/>
<use href="#mccd423851a" x="549.56" y="1028.08" style="fill: #1f77b4; stroke: #185e9a"/>
<use href="#mccd423851a" x="556.45" y="1028.08" style="fill: #1f77b4; stroke: #185e9a"/>
<use href="#mccd423851a" x="563.34" y="1028.08" style="fill: #1f77b4; stroke: #185e9a"/>
<use href="#mccd423851a" x="570.23" y="1028.08" style="fill: #1f77b4; stroke: #185e9a"/>
<use href="#mccd423851a" x="577.12" y="1028.08" style="fill: #1f77b4; stroke: #185e9a"/>
<use href="#mccd423851a" x="584.02" y="1027.76" style="fill: #1f77b4; stroke: #185e9a"/>
<use href="#mccd423851a" x="590.91" y="1027.76" style="fill: #1f77b4; stroke: #185e9a"/>
<use href="#mccd423851a" x="597.80" y="1027.76" style="fill: #1f77b4; stroke: #185e9a"/>
<use href="#mccd423851a" x="604.69" y="1027.76" style="fill: #1f77b4; stroke: #185e9a"/>
<use href="#mccd423851a" x="611.58" y="1026.93" style="fill: #1f77b4; stroke: #185e9a"/>
<use href="#mccd423851a" x="618.47" y="1026.93" style="fill: #1f77b4; stroke: #185e9a"/>
<use href="#mccd423851a" x="625.36" y="1026.93" style="fill: #1f77b4; stroke: #185e9a"/>
<use href="#mccd423851a" x="632.25" y="1026.93" style="fill: #1f77b4; stroke: #185e9a"/>
<use href="#mccd423851a" x="639.14" y="1026.28" style="fill: #1f77b4; stroke: #185e9a"/>
<use href="#mccd423851a" x="646.04" y="1024.64" style="fill: #1f77b4; stroke: #185e9a"/>
<use href="#mccd423851a" x="652.93" y="1024.14" style="fill: #1f77b4; stroke: #185e9a"/>
<use href="#mccd423851a" x="659.82" y="1023.82" style="fill: #1f77b4; stroke: #185e9a"/>
<use href="#mccd423851a" x="666.71" y="1023.16" style="fill: #1f77b4; stroke: #185e9a"/>
<use href="#mccd423851a" x="673.60" y="1022.34" style="fill: #1f77b4; stroke: #185e9a"/>
<use href="#mccd423851a" x="680.49" y="1019.88" style="fill: #1f77b4; stroke: #185e9a"/>
<use href="#mccd423851a" x="687.38" y="1018.73" style="fill: #1f77b4; stroke: #185e9a"/>
<use href="#mccd423851a" x="694.27" y="1015.94" style="fill: #1f77b4; stroke: #185e9a"/>
<use href="#mccd423851a" x="701.16" y="1012.33" style="fill: #1f77b4; stroke: #185e9a"/>
<use href="#mccd423851a" x="708.06" y="1009.21" style="fill: #1f77b4; stroke: #185e9a"/>
<use href="#mccd423851a" x="714.95" y="1002.81" style="fill: #1f77b4; stroke: #185e9a"/>
<use href="#mccd423851a" x="721.84" y="996.90" style="fill: #1f77b4; stroke: #185e9a"/>
<use href="#mccd423851a" x="728.73" y="989.18" style="fill: #1f77b4; stroke: #185e9a"/>
<use href="#mccd423851a" x="735.62" y="979.33" style="fill: #1f77b4; stroke: #185e9a"/>
<use href="#mccd423851a" x="742.51" y="966.53" style="fill: #1f77b4; stroke: #185e9a"/>
<use href="#mccd423851a" x="749.40" y="951.10" style="fill: #1f77b4; stroke: #185e9a"/>
<use href="#mccd423851a" x="756.29" y="932.88" style="fill: #1f77b4; stroke: #185e9a"/>
<use href="#mccd423851a" x="763.18" y="913.84" style="fill: #1f77b4; stroke: #185e9a"/>
<use href="#mccd423851a" x="770.08" y="893.16" style="fill: #1f77b4; stroke: #185e9a"/>
<use href="#mccd423851a" x="776.97" y="875.10" style="fill: #1f77b4; stroke: #185e9a"/>
<use href="#mccd423851a" x="783.86" y="853.93" style="fill: #1f77b4; stroke: #185e9a"/>
<use href="#mccd423851a" x="790.75" y="851.30" style="fill: #1f77b4; stroke: #185e9a"/>
<use href="#mccd423851a" x="797.64" y="851.30" style="fill: #1f77b4; stroke: #185e9a"/>
<use href="#mccd423851a" x="804.53" y="851.30" style="fill: #1f77b4; stroke: #185e9a"/>
<use href="#mccd423851a" x="811.42" y="851.30" style="fill: #1f77b4; stroke: #185e9a"/>
<use href="#mccd423851a" x="818.31" y="851.30" style="fill: #1f77b4; stroke: #185e9a"/>
<use href="#mccd423851a" x="825.21" y="851.30" style="fill: #1f77b4; stroke: #185e9a"/>
<use href="#mccd423851a" x="832.10" y="851.30" style="fill: #1f77b4; stroke: #185e9a"/>
<use href="#mccd423851a" x="838.99" y="851.30" style="fill: #1f77b4; stroke: #185e9a"/>
</g>
</g>
<g id="line2d_176">
<g clip-path="url(#p1ab1ff90a6)">
<use href="#mccd423851a" x="501.32" y="754.62" style="fill: #1f77b4; stroke: #185e9a"/>
<use href="#mccd423851a" x="508.21" y="754.62" style="fill: #1f77b4; stroke: #185e9a"/>
<use href="#mccd423851a" x="515.10" y="754.62" style="fill: #1f77b4; stroke: #185e9a"/>
<use href="#mccd423851a" x="521.99" y="754.62" style="fill: #1f77b4; stroke: #185e9a"/>
<use href="#mccd423851a" x="528.89" y="754.62" style="fill: #1f77b4; stroke: #185e9a"/>
<use href="#mccd423851a" x="535.78" y="754.62" style="fill: #1f77b4; stroke: #185e9a"/>
<use href="#mccd423851a" x="542.67" y="754.62" style="fill: #1f77b4; stroke: #185e9a"/>
<use href="#mccd423851a" x="549.56" y="754.62" style="fill: #1f77b4; stroke: #185e9a"/>
<use href="#mccd423851a" x="556.45" y="754.62" style="fill: #1f77b4; stroke: #185e9a"/>
<use href="#mccd423851a" x="563.34" y="754.62" style="fill: #1f77b4; stroke: #185e9a"/>
<use href="#mccd423851a" x="570.23" y="754.62" style="fill: #1f77b4; stroke: #185e9a"/>
<use href="#mccd423851a" x="577.12" y="754.62" style="fill: #1f77b4; stroke: #185e9a"/>
<use href="#mccd423851a" x="584.02" y="754.95" style="fill: #1f77b4; stroke: #185e9a"/>
<use href="#mccd423851a" x="590.91" y="754.95" style="fill: #1f77b4; stroke: #185e9a"/>
<use href="#mccd423851a" x="597.80" y="754.95" style="fill: #1f77b4; stroke: #185e9a"/>
<use href="#mccd423851a" x="604.69" y="754.95" style="fill: #1f77b4; stroke: #185e9a"/>
<use href="#mccd423851a" x="611.58" y="755.11" style="fill: #1f77b4; stroke: #185e9a"/>
<use href="#mccd423851a" x="618.47" y="755.11" style="fill: #1f77b4; stroke: #185e9a"/>
<use href="#mccd423851a" x="625.36" y="755.11" style="fill: #1f77b4; stroke: #185e9a"/>
<use href="#mccd423851a" x="632.25" y="755.11" style="fill: #1f77b4; stroke: #185e9a"/>
<use href="#mccd423851a" x="639.14" y="755.77" style="fill: #1f77b4; stroke: #185e9a"/>
<use href="#mccd423851a" x="646.04" y="756.42" style="fill: #1f77b4; stroke: #185e9a"/>
<use href="#mccd423851a" x="652.93" y="756.92" style="fill: #1f77b4; stroke: #185e9a"/>
<use href="#mccd423851a" x="659.82" y="757.24" style="fill: #1f77b4; stroke: #185e9a"/>
<use href="#mccd423851a" x="666.71" y="757.90" style="fill: #1f77b4; stroke: #185e9a"/>
<use href="#mccd423851a" x="673.60" y="758.72" style="fill: #1f77b4; stroke: #185e9a"/>
<use href="#mccd423851a" x="680.49" y="759.54" style="fill: #1f77b4; stroke: #185e9a"/>
<use href="#mccd423851a" x="687.38" y="760.69" style="fill: #1f77b4; stroke: #185e9a"/>
<use href="#mccd423851a" x="694.27" y="761.84" style="fill: #1f77b4; stroke: #185e9a"/>
<use href="#mccd423851a" x="701.16" y="763.48" style="fill: #1f77b4; stroke: #185e9a"/>
<use href="#mccd423851a" x="708.06" y="765.62" style="fill: #1f77b4; stroke: #185e9a"/>
<use href="#mccd423851a" x="714.95" y="768.41" style="fill: #1f77b4; stroke: #185e9a"/>
<use href="#mccd423851a" x="721.84" y="772.02" style="fill: #1f77b4; stroke: #185e9a"/>
<use href="#mccd423851a" x="728.73" y="776.45" style="fill: #1f77b4; stroke: #185e9a"/>
<use href="#mccd423851a" x="735.62" y="782.36" style="fill: #1f77b4; stroke: #185e9a"/>
<use href="#mccd423851a" x="742.51" y="789.58" style="fill: #1f77b4; stroke: #185e9a"/>
<use href="#mccd423851a" x="749.40" y="797.46" style="fill: #1f77b4; stroke: #185e9a"/>
<use href="#mccd423851a" x="756.29" y="806.82" style="fill: #1f77b4; stroke: #185e9a"/>
<use href="#mccd423851a" x="763.18" y="815.02" style="fill: #1f77b4; stroke: #185e9a"/>
<use href="#mccd423851a" x="770.08" y="821.59" style="fill: #1f77b4; stroke: #185e9a"/>
<use href="#mccd423851a" x="776.97" y="833.74" style="fill: #1f77b4; stroke: #185e9a"/>
<use href="#mccd423851a" x="783.86" y="849.00" style="fill: #1f77b4; stroke: #185e9a"/>
<use href="#mccd423851a" x="790.75" y="851.30" style="fill: #1f77b4; stroke: #185e9a"/>
<use href="#mccd423851a" x="797.64" y="851.30" style="fill: #1f77b4; stroke: #185e9a"/>
<use href="#mccd423851a" x="804.53" y="851.30" style="fill: #1f77b4; stroke: #185e9a"/>
<use href="#mccd423851a" x="811.42" y="851.30" style="fill: #1f77b4; stroke: #185e9a"/>
<use href="#mccd423851a" x="818.31" y="851.30" style="fill: #1f77b4; stroke: #185e9a"/>
<use href="#mccd423851a" x="825.21" y="851.30" style="fill: #1f77b4; stroke: #185e9a"/>
<use href="#mccd423851a" x="832.10" y="851.30" style="fill: #1f77b4; stroke: #185e9a"/>
<use href="#mccd423851a" x="838.99" y="851.30" style="fill: #1f77b4; stroke: #185e9a"/>
</g>
</g>
<g id="line2d_177">
<path d="M 760.51 1041.81 L 760.51 741.06 " clip-path="url(#p1ab1ff90a6)" style="fill: none; stroke-dasharray: 5.55,2.4; stroke-dashoffset: 0; stroke: #ff0000; stroke-width: 1.5"/>
</g>
<g id="line2d_178">
<path d="M 501.32 891.35 L 508.21 891.35 L 515.10 891.35 L 521.99 891.35 L 528.89 891.35 L 535.78 891.35 L 542.67 891.35 L 549.56 891.35 L 556.45 891.35 L 563.34 891.35 L 570.23 891.35 L 577.12 891.35 L 584.02 891.35 L 590.91 891.35 L 597.80 891.35 L 604.69 891.35 L 611.58 891.02 L 618.47 891.02 L 625.36 891.02 L 632.25 891.02 L 639.14 891.02 L 646.04 890.53 L 652.93 890.53 L 659.82 890.53 L 666.71 890.53 L 673.60 890.53 L 680.49 889.71 L 687.38 889.71 L 694.27 888.89 L 701.16 887.90 L 708.06 887.41 L 714.95 885.61 L 721.84 884.46 L 728.73 882.82 L 735.62 880.85 L 742.51 878.06 L 749.40 874.28 L 756.29 869.85 L 763.18 864.43 L 770.08 857.37 L 776.97 854.42 L 783.86 851.46 L 790.75 851.30 L 797.64 851.30 L 804.53 851.30 L 811.42 851.30 L 818.31 851.30 L 825.21 851.30 L 832.10 851.30 L 838.99 851.30 " clip-path="url(#p1ab1ff90a6)" style="fill: none; stroke: #1f77b4; stroke-width: 1.5; stroke-linecap: square"/>
<g clip-path="url(#p1ab1ff90a6)">
<use href="#mf14c53ed57" x="501.32" y="891.35" style="fill: #1f77b4; stroke: #1f77b4"/>
<use href="#mf14c53ed57" x="508.21" y="891.35" style="fill: #1f77b4; stroke: #1f77b4"/>
<use href="#mf14c53ed57" x="515.10" y="891.35" style="fill: #1f77b4; stroke: #1f77b4"/>
<use href="#mf14c53ed57" x="521.99" y="891.35" style="fill: #1f77b4; stroke: #1f77b4"/>
<use href="#mf14c53ed57" x="528.89" y="891.35" style="fill: #1f77b4; stroke: #1f77b4"/>
<use href="#mf14c53ed57" x="535.78" y="891.35" style="fill: #1f77b4; stroke: #1f77b4"/>
<use href="#mf14c53ed57" x="542.67" y="891.35" style="fill: #1f77b4; stroke: #1f77b4"/>
<use href="#mf14c53ed57" x="549.56" y="891.35" style="fill: #1f77b4; stroke: #1f77b4"/>
<use href="#mf14c53ed57" x="556.45" y="891.35" style="fill: #1f77b4; stroke: #1f77b4"/>
<use href="#mf14c53ed57" x="563.34" y="891.35" style="fill: #1f77b4; stroke: #1f77b4"/>
<use href="#mf14c53ed57" x="570.23" y="891.35" style="fill: #1f77b4; stroke: #1f77b4"/>
<use href="#mf14c53ed57" x="577.12" y="891.35" style="fill: #1f77b4; stroke: #1f77b4"/>
<use href="#mf14c53ed57" x="584.02" y="891.35" style="fill: #1f77b4; stroke: #1f77b4"/>
<use href="#mf14c53ed57" x="590.91" y="891.35" style="fill: #1f77b4; stroke: #1f77b4"/>
<use href="#mf14c53ed57" x="597.80" y="891.35" style="fill: #1f77b4; stroke: #1f77b4"/>
<use href="#mf14c53ed57" x="604.69" y="891.35" style="fill: #1f77b4; stroke: #1f77b4"/>
<use href="#mf14c53ed57" x="611.58" y="891.02" style="fill: #1f77b4; stroke: #1f77b4"/>
<use href="#mf14c53ed57" x="618.47" y="891.02" style="fill: #1f77b4; stroke: #1f77b4"/>
<use href="#mf14c53ed57" x="625.36" y="891.02" style="fill: #1f77b4; stroke: #1f77b4"/>
<use href="#mf14c53ed57" x="632.25" y="891.02" style="fill: #1f77b4; stroke: #1f77b4"/>
<use href="#mf14c53ed57" x="639.14" y="891.02" style="fill: #1f77b4; stroke: #1f77b4"/>
<use href="#mf14c53ed57" x="646.04" y="890.53" style="fill: #1f77b4; stroke: #1f77b4"/>
<use href="#mf14c53ed57" x="652.93" y="890.53" style="fill: #1f77b4; stroke: #1f77b4"/>
<use href="#mf14c53ed57" x="659.82" y="890.53" style="fill: #1f77b4; stroke: #1f77b4"/>
<use href="#mf14c53ed57" x="666.71" y="890.53" style="fill: #1f77b4; stroke: #1f77b4"/>
<use href="#mf14c53ed57" x="673.60" y="890.53" style="fill: #1f77b4; stroke: #1f77b4"/>
<use href="#mf14c53ed57" x="680.49" y="889.71" style="fill: #1f77b4; stroke: #1f77b4"/>
<use href="#mf14c53ed57" x="687.38" y="889.71" style="fill: #1f77b4; stroke: #1f77b4"/>
<use href="#mf14c53ed57" x="694.27" y="888.89" style="fill: #1f77b4; stroke: #1f77b4"/>
<use href="#mf14c53ed57" x="701.16" y="887.90" style="fill: #1f77b4; stroke: #1f77b4"/>
<use href="#mf14c53ed57" x="708.06" y="887.41" style="fill: #1f77b4; stroke: #1f77b4"/>
<use href="#mf14c53ed57" x="714.95" y="885.61" style="fill: #1f77b4; stroke: #1f77b4"/>
<use href="#mf14c53ed57" x="721.84" y="884.46" style="fill: #1f77b4; stroke: #1f77b4"/>
<use href="#mf14c53ed57" x="728.73" y="882.82" style="fill: #1f77b4; stroke: #1f77b4"/>
<use href="#mf14c53ed57" x="735.62" y="880.85" style="fill: #1f77b4; stroke: #1f77b4"/>
<use href="#mf14c53ed57" x="742.51" y="878.06" style="fill: #1f77b4; stroke: #1f77b4"/>
<use href="#mf14c53ed57" x="749.40" y="874.28" style="fill: #1f77b4; stroke: #1f77b4"/>
<use href="#mf14c53ed57" x="756.29" y="869.85" style="fill: #1f77b4; stroke: #1f77b4"/>
<use href="#mf14c53ed57" x="763.18" y="864.43" style="fill: #1f77b4; stroke: #1f77b4"/>
<use href="#mf14c53ed57" x="770.08" y="857.37" style="fill: #1f77b4; stroke: #1f77b4"/>
<use href="#mf14c53ed57" x="776.97" y="854.42" style="fill: #1f77b4; stroke: #1f77b4"/>
<use href="#mf14c53ed57" x="783.86" y="851.46" style="fill: #1f77b4; stroke: #1f77b4"/>
<use href="#mf14c53ed57" x="790.75" y="851.30" style="fill: #1f77b4; stroke: #1f77b4"/>
<use href="#mf14c53ed57" x="797.64" y="851.30" style="fill: #1f77b4; stroke: #1f77b4"/>
<use href="#mf14c53ed57" x="804.53" y="851.30" style="fill: #1f77b4; stroke: #1f77b4"/>
<use href="#mf14c53ed57" x="811.42" y="851.30" style="fill: #1f77b4; stroke: #1f77b4"/>
<use href="#mf14c53ed57" x="818.31" y="851.30" style="fill: #1f77b4; stroke: #1f77b4"/>
<use href="#mf14c53ed57" x="825.21" y="851.30" style="fill: #1f77b4; stroke: #1f77b4"/>
<use href="#mf14c53ed57" x="832.10" y="851.30" style="fill: #1f77b4; stroke: #1f77b4"/>
<use href="#mf14c53ed57" x="838.99" y="851.30" style="fill: #1f77b4; stroke: #1f77b4"/>
</g>
</g>
<g id="patch_28">
<path d="M 484.44 1041.81 L 484.44 741.06 " style="fill: none; stroke: #000000; stroke-width: 0.8; stroke-linejoin: miter; stroke-linecap: square"/>
</g>
<g id="patch_29">
<path d="M 855.87 1041.81 L 855.87 741.06 " style="fill: none; stroke: #000000; stroke-width: 0.8; stroke-linejoin: miter; stroke-linecap: square"/>
</g>
<g id="patch_30">
<path d="M 484.44 1041.81 L 855.87 1041.81 " style="fill: none; stroke: #000000; stroke-width: 0.8; stroke-linejoin: miter; stroke-linecap: square"/>
</g>
<g id="patch_31">
<path d="M 484.44 741.06 L 855.87 741.06 " style="fill: none; stroke: #000000; stroke-width: 0.8; stroke-linejoin: miter; stroke-linecap: square"/>
</g>
<g id="text_96">
<text style="font-size: 12px; font-family: 'DejaVu Sans', sans-serif; text-anchor: middle" x="669.33" y="734.72" transform="rotate(-0 669.33 734.72)">Coefficient Stability for DCE</text>
</g>
</g>
</g>
<defs>
<clipPath id="pd0d41294e0">
<rect x="50.20" y="23.59" width="371.28" height="300.55"/>
</clipPath>
<clipPath id="pdfb0ffd9d7">
<rect x="484.44" y="23.59" width="371.43" height="300.55"/>
</clipPath>
<clipPath id="p60b15388ab">
<rect x="50.20" y="382.32" width="371.28" height="300.79"/>
</clipPath>
<clipPath id="p90f5f94eee">
<rect x="484.44" y="382.32" width="371.43" height="300.79"/>
</clipPath>
<clipPath id="p2ca555d279">
<rect x="50.20" y="741.06" width="371.28" height="300.74"/>
</clipPath>
<clipPath id="p1ab1ff90a6">
<rect x="484.44" y="741.06" width="371.43" height="300.74"/>
</clipPath>
</defs>
</svg>

</body></html>
